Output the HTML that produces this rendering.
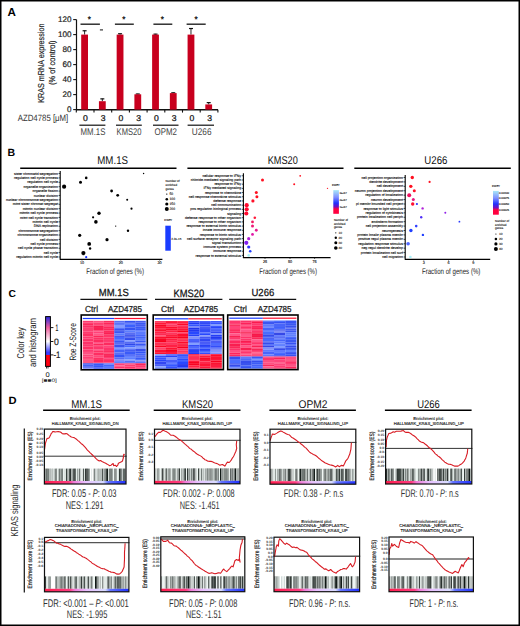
<!DOCTYPE html>
<html><head><meta charset="utf-8"><style>
html,body{margin:0;padding:0;background:#fff;}
body{width:520px;height:626px;overflow:hidden;}
svg{display:block;font-family:"Liberation Sans", sans-serif;text-rendering:geometricPrecision;}
</style></head><body>
<svg width="520" height="626" viewBox="0 0 520 626">
<rect x="0" y="0" width="520" height="626" fill="#fff"/>
<rect x="0.75" y="0.75" width="518.5" height="624.5" fill="none" stroke="#000" stroke-width="1.5"/>
<text x="7.40" y="16.20" font-size="11.63" font-weight="bold" fill="#000" textLength="8.40" lengthAdjust="spacingAndGlyphs">A</text>
<line x1="76.50" y1="19.60" x2="76.50" y2="110.20" stroke="#111" stroke-width="1.20"/>
<line x1="73.20" y1="109.60" x2="76.50" y2="109.60" stroke="#111" stroke-width="1.10"/>
<text x="67.10" y="112.40" font-size="8.14" font-weight="normal" fill="#222" textLength="4.50" lengthAdjust="spacingAndGlyphs" stroke="#222" stroke-width="0.20">0</text>
<line x1="73.20" y1="94.60" x2="76.50" y2="94.60" stroke="#111" stroke-width="1.10"/>
<text x="62.60" y="97.40" font-size="8.14" font-weight="normal" fill="#222" textLength="9.00" lengthAdjust="spacingAndGlyphs" stroke="#222" stroke-width="0.20">20</text>
<line x1="73.20" y1="79.60" x2="76.50" y2="79.60" stroke="#111" stroke-width="1.10"/>
<text x="62.60" y="82.40" font-size="8.14" font-weight="normal" fill="#222" textLength="9.00" lengthAdjust="spacingAndGlyphs" stroke="#222" stroke-width="0.20">40</text>
<line x1="73.20" y1="64.60" x2="76.50" y2="64.60" stroke="#111" stroke-width="1.10"/>
<text x="62.60" y="67.40" font-size="8.14" font-weight="normal" fill="#222" textLength="9.00" lengthAdjust="spacingAndGlyphs" stroke="#222" stroke-width="0.20">60</text>
<line x1="73.20" y1="49.60" x2="76.50" y2="49.60" stroke="#111" stroke-width="1.10"/>
<text x="62.60" y="52.40" font-size="8.14" font-weight="normal" fill="#222" textLength="9.00" lengthAdjust="spacingAndGlyphs" stroke="#222" stroke-width="0.20">80</text>
<line x1="73.20" y1="34.60" x2="76.50" y2="34.60" stroke="#111" stroke-width="1.10"/>
<text x="58.10" y="37.40" font-size="8.14" font-weight="normal" fill="#222" textLength="13.50" lengthAdjust="spacingAndGlyphs" stroke="#222" stroke-width="0.20">100</text>
<line x1="73.20" y1="19.60" x2="76.50" y2="19.60" stroke="#111" stroke-width="1.10"/>
<text x="58.10" y="22.40" font-size="8.14" font-weight="normal" fill="#222" textLength="13.50" lengthAdjust="spacingAndGlyphs" stroke="#222" stroke-width="0.20">120</text>
<line x1="76.00" y1="109.80" x2="218.00" y2="109.80" stroke="#111" stroke-width="1.40"/>
<line x1="76.30" y1="109.80" x2="76.30" y2="112.60" stroke="#111" stroke-width="1.10"/>
<line x1="94.00" y1="109.80" x2="94.00" y2="112.60" stroke="#111" stroke-width="1.10"/>
<line x1="111.70" y1="109.80" x2="111.70" y2="112.60" stroke="#111" stroke-width="1.10"/>
<line x1="129.40" y1="109.80" x2="129.40" y2="112.60" stroke="#111" stroke-width="1.10"/>
<line x1="147.10" y1="109.80" x2="147.10" y2="112.60" stroke="#111" stroke-width="1.10"/>
<line x1="164.80" y1="109.80" x2="164.80" y2="112.60" stroke="#111" stroke-width="1.10"/>
<line x1="182.50" y1="109.80" x2="182.50" y2="112.60" stroke="#111" stroke-width="1.10"/>
<line x1="200.20" y1="109.80" x2="200.20" y2="112.60" stroke="#111" stroke-width="1.10"/>
<line x1="217.90" y1="109.80" x2="217.90" y2="112.60" stroke="#111" stroke-width="1.10"/>
<line x1="84.60" y1="30.47" x2="84.60" y2="34.60" stroke="#111" stroke-width="0.90"/>
<line x1="82.60" y1="30.77" x2="86.60" y2="30.77" stroke="#111" stroke-width="1.20"/>
<rect x="81.20" y="34.60" width="6.80" height="75.00" fill="#c8001e"/>
<line x1="102.33" y1="98.57" x2="102.33" y2="101.20" stroke="#111" stroke-width="0.90"/>
<line x1="100.33" y1="98.87" x2="104.33" y2="98.87" stroke="#111" stroke-width="1.20"/>
<rect x="98.93" y="101.20" width="6.80" height="8.40" fill="#c8001e"/>
<line x1="120.06" y1="33.47" x2="120.06" y2="34.60" stroke="#111" stroke-width="0.90"/>
<line x1="118.06" y1="33.77" x2="122.06" y2="33.77" stroke="#111" stroke-width="1.20"/>
<rect x="116.66" y="34.60" width="6.80" height="75.00" fill="#c8001e"/>
<line x1="137.79" y1="93.70" x2="137.79" y2="94.30" stroke="#111" stroke-width="0.90"/>
<line x1="135.79" y1="94.00" x2="139.79" y2="94.00" stroke="#111" stroke-width="1.20"/>
<rect x="134.39" y="94.30" width="6.80" height="15.30" fill="#c8001e"/>
<line x1="155.52" y1="33.85" x2="155.52" y2="34.60" stroke="#111" stroke-width="0.90"/>
<line x1="153.52" y1="34.15" x2="157.52" y2="34.15" stroke="#111" stroke-width="1.20"/>
<rect x="152.12" y="34.60" width="6.80" height="75.00" fill="#c8001e"/>
<line x1="173.25" y1="92.50" x2="173.25" y2="93.10" stroke="#111" stroke-width="0.90"/>
<line x1="171.25" y1="92.80" x2="175.25" y2="92.80" stroke="#111" stroke-width="1.20"/>
<rect x="169.85" y="93.10" width="6.80" height="16.50" fill="#c8001e"/>
<line x1="190.98" y1="28.22" x2="190.98" y2="34.60" stroke="#111" stroke-width="0.90"/>
<line x1="188.98" y1="28.52" x2="192.98" y2="28.52" stroke="#111" stroke-width="1.20"/>
<rect x="187.58" y="34.60" width="6.80" height="75.00" fill="#c8001e"/>
<line x1="208.71" y1="102.32" x2="208.71" y2="104.42" stroke="#111" stroke-width="0.90"/>
<line x1="206.71" y1="102.62" x2="210.71" y2="102.62" stroke="#111" stroke-width="1.20"/>
<rect x="205.31" y="104.42" width="6.80" height="5.17" fill="#c8001e"/>
<line x1="80.50" y1="24.20" x2="99.90" y2="24.20" stroke="#222" stroke-width="1.40"/>
<text x="89.40" y="22.0" font-size="8" fill="#111" stroke="#111" stroke-width="0.3" text-anchor="middle">*</text>
<line x1="114.90" y1="24.20" x2="133.80" y2="24.20" stroke="#222" stroke-width="1.40"/>
<text x="123.80" y="22.0" font-size="8" fill="#111" stroke="#111" stroke-width="0.3" text-anchor="middle">*</text>
<line x1="153.40" y1="24.20" x2="172.30" y2="24.20" stroke="#222" stroke-width="1.40"/>
<text x="162.40" y="22.0" font-size="8" fill="#111" stroke="#111" stroke-width="0.3" text-anchor="middle">*</text>
<line x1="186.60" y1="24.20" x2="205.70" y2="24.20" stroke="#222" stroke-width="1.40"/>
<text x="196.00" y="22.0" font-size="8" fill="#111" stroke="#111" stroke-width="0.3" text-anchor="middle">*</text>
<line x1="99.90" y1="29.90" x2="103.00" y2="29.90" stroke="#222" stroke-width="1.10"/>
<text x="83.10" y="121.10" font-size="8.43" font-weight="normal" fill="#111" textLength="4.80" lengthAdjust="spacingAndGlyphs" stroke="#111" stroke-width="0.25">0</text>
<text x="100.83" y="121.10" font-size="8.43" font-weight="normal" fill="#111" textLength="4.80" lengthAdjust="spacingAndGlyphs" stroke="#111" stroke-width="0.25">3</text>
<text x="118.56" y="121.10" font-size="8.43" font-weight="normal" fill="#111" textLength="4.80" lengthAdjust="spacingAndGlyphs" stroke="#111" stroke-width="0.25">0</text>
<text x="136.29" y="121.10" font-size="8.43" font-weight="normal" fill="#111" textLength="4.80" lengthAdjust="spacingAndGlyphs" stroke="#111" stroke-width="0.25">3</text>
<text x="154.02" y="121.10" font-size="8.43" font-weight="normal" fill="#111" textLength="4.80" lengthAdjust="spacingAndGlyphs" stroke="#111" stroke-width="0.25">0</text>
<text x="171.75" y="121.10" font-size="8.43" font-weight="normal" fill="#111" textLength="4.80" lengthAdjust="spacingAndGlyphs" stroke="#111" stroke-width="0.25">3</text>
<text x="189.48" y="121.10" font-size="8.43" font-weight="normal" fill="#111" textLength="4.80" lengthAdjust="spacingAndGlyphs" stroke="#111" stroke-width="0.25">0</text>
<text x="207.21" y="121.10" font-size="8.43" font-weight="normal" fill="#111" textLength="4.80" lengthAdjust="spacingAndGlyphs" stroke="#111" stroke-width="0.25">3</text>
<line x1="79.40" y1="125.20" x2="105.40" y2="125.20" stroke="#111" stroke-width="1.20"/>
<text x="80.60" y="135.00" font-size="9.74" font-weight="normal" fill="#444" textLength="24.80" lengthAdjust="spacingAndGlyphs">MM.1S</text>
<line x1="116.00" y1="125.20" x2="141.80" y2="125.20" stroke="#111" stroke-width="1.20"/>
<text x="116.60" y="135.00" font-size="9.74" font-weight="normal" fill="#444" textLength="24.90" lengthAdjust="spacingAndGlyphs">KMS20</text>
<line x1="153.00" y1="125.20" x2="178.50" y2="125.20" stroke="#111" stroke-width="1.20"/>
<text x="154.60" y="135.00" font-size="9.74" font-weight="normal" fill="#444" textLength="22.40" lengthAdjust="spacingAndGlyphs">OPM2</text>
<line x1="187.60" y1="125.20" x2="214.00" y2="125.20" stroke="#111" stroke-width="1.20"/>
<text x="191.80" y="135.00" font-size="9.74" font-weight="normal" fill="#444" textLength="19.70" lengthAdjust="spacingAndGlyphs">U266</text>
<text x="17.70" y="120.80" font-size="9.16" font-weight="normal" fill="#333" textLength="50.60" lengthAdjust="spacingAndGlyphs">AZD4785 [μM]</text>
<text transform="translate(43.70,102.70) rotate(-90)" x="0" y="0" font-size="8.58" fill="#222" textLength="79.10" lengthAdjust="spacingAndGlyphs" stroke="#222" stroke-width="0.2">KRAS mRNA expression</text>
<text transform="translate(54.50,85.00) rotate(-90)" x="0" y="0" font-size="8.58" fill="#222" textLength="44.60" lengthAdjust="spacingAndGlyphs" stroke="#222" stroke-width="0.2">(% of control)</text>
<text x="7.60" y="156.40" font-size="10.47" font-weight="bold" fill="#000" textLength="7.60" lengthAdjust="spacingAndGlyphs">B</text>
<text x="97.30" y="164.30" font-size="11.19" font-weight="normal" fill="#111" textLength="30.70" lengthAdjust="spacingAndGlyphs">MM.1S</text>
<line x1="20.20" y1="168.30" x2="176.50" y2="168.30" stroke="#000" stroke-width="1.40"/>
<text x="267.70" y="164.30" font-size="11.19" font-weight="normal" fill="#111" textLength="30.10" lengthAdjust="spacingAndGlyphs">KMS20</text>
<line x1="187.40" y1="168.30" x2="343.50" y2="168.30" stroke="#000" stroke-width="1.40"/>
<text x="424.30" y="164.30" font-size="11.19" font-weight="normal" fill="#111" textLength="23.10" lengthAdjust="spacingAndGlyphs">U266</text>
<line x1="354.30" y1="168.30" x2="510.80" y2="168.30" stroke="#000" stroke-width="1.40"/>
<line x1="60.20" y1="171.00" x2="60.20" y2="259.00" stroke="#000" stroke-width="1.10"/>
<line x1="59.70" y1="259.30" x2="162.40" y2="259.30" stroke="#000" stroke-width="1.20"/>
<line x1="58.60" y1="173.50" x2="60.20" y2="173.50" stroke="#000" stroke-width="0.70"/>
<text x="57.90" y="174.60" font-size="3.5" fill="#111" stroke="#111" stroke-width="0.12" text-anchor="end">sister chromatid segregation</text>
<line x1="58.60" y1="177.89" x2="60.20" y2="177.89" stroke="#000" stroke-width="0.70"/>
<text x="57.90" y="178.99" font-size="3.5" fill="#111" stroke="#111" stroke-width="0.12" text-anchor="end">regulation cell cycle process</text>
<line x1="58.60" y1="182.29" x2="60.20" y2="182.29" stroke="#000" stroke-width="0.70"/>
<text x="57.90" y="183.39" font-size="3.5" fill="#111" stroke="#111" stroke-width="0.12" text-anchor="end">regulation cell cycle</text>
<line x1="58.60" y1="186.68" x2="60.20" y2="186.68" stroke="#000" stroke-width="0.70"/>
<text x="57.90" y="187.78" font-size="3.5" fill="#111" stroke="#111" stroke-width="0.12" text-anchor="end">organelle organization</text>
<line x1="58.60" y1="191.08" x2="60.20" y2="191.08" stroke="#000" stroke-width="0.70"/>
<text x="57.90" y="192.18" font-size="3.5" fill="#111" stroke="#111" stroke-width="0.12" text-anchor="end">organelle fission</text>
<line x1="58.60" y1="195.47" x2="60.20" y2="195.47" stroke="#000" stroke-width="0.70"/>
<text x="57.90" y="196.57" font-size="3.5" fill="#111" stroke="#111" stroke-width="0.12" text-anchor="end">nuclear division</text>
<line x1="58.60" y1="199.87" x2="60.20" y2="199.87" stroke="#000" stroke-width="0.70"/>
<text x="57.90" y="200.97" font-size="3.5" fill="#111" stroke="#111" stroke-width="0.12" text-anchor="end">nuclear chromosome segregation</text>
<line x1="58.60" y1="204.26" x2="60.20" y2="204.26" stroke="#000" stroke-width="0.70"/>
<text x="57.90" y="205.36" font-size="3.5" fill="#111" stroke="#111" stroke-width="0.12" text-anchor="end">mitot sister chromat segregat</text>
<line x1="58.60" y1="208.66" x2="60.20" y2="208.66" stroke="#000" stroke-width="0.70"/>
<text x="57.90" y="209.76" font-size="3.5" fill="#111" stroke="#111" stroke-width="0.12" text-anchor="end">mitotic nuclear division</text>
<line x1="58.60" y1="213.05" x2="60.20" y2="213.05" stroke="#000" stroke-width="0.70"/>
<text x="57.90" y="214.15" font-size="3.5" fill="#111" stroke="#111" stroke-width="0.12" text-anchor="end">mitotic cell cycle process</text>
<line x1="58.60" y1="217.45" x2="60.20" y2="217.45" stroke="#000" stroke-width="0.70"/>
<text x="57.90" y="218.55" font-size="3.5" fill="#111" stroke="#111" stroke-width="0.12" text-anchor="end">mitot cell cycle transition</text>
<line x1="58.60" y1="221.84" x2="60.20" y2="221.84" stroke="#000" stroke-width="0.70"/>
<text x="57.90" y="222.94" font-size="3.5" fill="#111" stroke="#111" stroke-width="0.12" text-anchor="end">mitotic cell cycle</text>
<line x1="58.60" y1="226.24" x2="60.20" y2="226.24" stroke="#000" stroke-width="0.70"/>
<text x="57.90" y="227.34" font-size="3.5" fill="#111" stroke="#111" stroke-width="0.12" text-anchor="end">DNA replication</text>
<line x1="58.60" y1="230.63" x2="60.20" y2="230.63" stroke="#000" stroke-width="0.70"/>
<text x="57.90" y="231.73" font-size="3.5" fill="#111" stroke="#111" stroke-width="0.12" text-anchor="end">chromosome segregation</text>
<line x1="58.60" y1="235.03" x2="60.20" y2="235.03" stroke="#000" stroke-width="0.70"/>
<text x="57.90" y="236.13" font-size="3.5" fill="#111" stroke="#111" stroke-width="0.12" text-anchor="end">chromosome organization</text>
<line x1="58.60" y1="239.42" x2="60.20" y2="239.42" stroke="#000" stroke-width="0.70"/>
<text x="57.90" y="240.52" font-size="3.5" fill="#111" stroke="#111" stroke-width="0.12" text-anchor="end">cell division</text>
<line x1="58.60" y1="243.82" x2="60.20" y2="243.82" stroke="#000" stroke-width="0.70"/>
<text x="57.90" y="244.92" font-size="3.5" fill="#111" stroke="#111" stroke-width="0.12" text-anchor="end">cell cycle process</text>
<line x1="58.60" y1="248.21" x2="60.20" y2="248.21" stroke="#000" stroke-width="0.70"/>
<text x="57.90" y="249.31" font-size="3.5" fill="#111" stroke="#111" stroke-width="0.12" text-anchor="end">cell cycle phase transition</text>
<line x1="58.60" y1="252.61" x2="60.20" y2="252.61" stroke="#000" stroke-width="0.70"/>
<text x="57.90" y="253.71" font-size="3.5" fill="#111" stroke="#111" stroke-width="0.12" text-anchor="end">cell cycle</text>
<line x1="58.60" y1="257.00" x2="60.20" y2="257.00" stroke="#000" stroke-width="0.70"/>
<text x="57.90" y="258.10" font-size="3.5" fill="#111" stroke="#111" stroke-width="0.12" text-anchor="end">regulation mitotic cell cycle</text>
<line x1="82.00" y1="259.30" x2="82.00" y2="260.60" stroke="#000" stroke-width="0.60"/>
<text x="82.00" y="264.20" font-size="3.8" fill="#111" stroke="#111" stroke-width="0.1" text-anchor="middle">10</text>
<line x1="120.80" y1="259.30" x2="120.80" y2="260.60" stroke="#000" stroke-width="0.60"/>
<text x="120.80" y="264.20" font-size="3.8" fill="#111" stroke="#111" stroke-width="0.1" text-anchor="middle">20</text>
<line x1="159.60" y1="259.30" x2="159.60" y2="260.60" stroke="#000" stroke-width="0.60"/>
<text x="159.60" y="264.20" font-size="3.8" fill="#111" stroke="#111" stroke-width="0.1" text-anchor="middle">30</text>
<text x="86.20" y="273.60" font-size="8.14" font-weight="normal" fill="#222" textLength="57.70" lengthAdjust="spacingAndGlyphs">Fraction of genes (%)</text>
<circle cx="143.60" cy="173.50" r="0.70" fill="#000"/>
<circle cx="86.20" cy="177.90" r="1.30" fill="#000"/>
<circle cx="80.50" cy="182.20" r="1.50" fill="#000"/>
<circle cx="64.10" cy="186.70" r="2.10" fill="#000"/>
<circle cx="111.60" cy="191.00" r="1.40" fill="#000"/>
<circle cx="117.70" cy="195.30" r="1.40" fill="#000"/>
<circle cx="127.20" cy="199.80" r="1.00" fill="#000"/>
<circle cx="131.50" cy="208.70" r="1.10" fill="#000"/>
<circle cx="99.00" cy="213.20" r="1.70" fill="#000"/>
<circle cx="93.10" cy="217.30" r="1.10" fill="#000"/>
<circle cx="95.90" cy="221.90" r="1.80" fill="#000"/>
<circle cx="115.70" cy="226.10" r="0.70" fill="#000"/>
<circle cx="128.00" cy="230.70" r="1.20" fill="#000"/>
<circle cx="79.70" cy="235.30" r="1.60" fill="#000"/>
<circle cx="107.00" cy="239.70" r="1.60" fill="#000"/>
<circle cx="89.20" cy="243.90" r="1.90" fill="#000"/>
<circle cx="90.10" cy="248.50" r="1.20" fill="#000"/>
<circle cx="83.40" cy="253.10" r="2.10" fill="#000"/>
<circle cx="86.20" cy="257.20" r="1.10" fill="#1030ff"/>
<text x="165.6" y="182.30" font-size="3" fill="#111" stroke="#111" stroke-width="0.1">Number of</text>
<text x="165.6" y="185.90" font-size="3" fill="#111" stroke="#111" stroke-width="0.1">enriched</text>
<text x="165.6" y="189.50" font-size="3" fill="#111" stroke="#111" stroke-width="0.1">genes</text>
<circle cx="166.80" cy="194.10" r="0.70" fill="#000"/>
<text x="169.4" y="195.30" font-size="3.4" fill="#111" stroke="#111" stroke-width="0.1">50</text>
<circle cx="166.80" cy="199.20" r="1.30" fill="#000"/>
<text x="169.4" y="200.40" font-size="3.4" fill="#111" stroke="#111" stroke-width="0.1">100</text>
<circle cx="166.80" cy="204.00" r="1.60" fill="#000"/>
<text x="169.4" y="205.20" font-size="3.4" fill="#111" stroke="#111" stroke-width="0.1">150</text>
<circle cx="166.80" cy="209.10" r="2.00" fill="#000"/>
<text x="169.4" y="210.30" font-size="3.4" fill="#111" stroke="#111" stroke-width="0.1">200</text>
<text x="164.3" y="221.2" font-size="3" fill="#111" stroke="#111" stroke-width="0.1">FWEr</text>
<rect x="165.30" y="225.70" width="5.50" height="25.00" fill="#1a3cff"/>
<text x="171.2" y="239.7" font-size="3" fill="#111" stroke="#111" stroke-width="0.1">2.2e-15</text>
<line x1="243.40" y1="173.30" x2="243.40" y2="257.40" stroke="#000" stroke-width="1.10"/>
<line x1="242.90" y1="257.70" x2="330.60" y2="257.70" stroke="#000" stroke-width="1.20"/>
<line x1="241.80" y1="175.80" x2="243.40" y2="175.80" stroke="#000" stroke-width="0.70"/>
<text x="241.10" y="176.90" font-size="3.5" fill="#111" stroke="#111" stroke-width="0.12" text-anchor="end">cellular response to IFNγ</text>
<line x1="241.80" y1="179.99" x2="243.40" y2="179.99" stroke="#000" stroke-width="0.70"/>
<text x="241.10" y="181.09" font-size="3.5" fill="#111" stroke="#111" stroke-width="0.12" text-anchor="end">chloride-mediated signaling path</text>
<line x1="241.80" y1="184.18" x2="243.40" y2="184.18" stroke="#000" stroke-width="0.70"/>
<text x="241.10" y="185.28" font-size="3.5" fill="#111" stroke="#111" stroke-width="0.12" text-anchor="end">response to IFNγ</text>
<line x1="241.80" y1="188.37" x2="243.40" y2="188.37" stroke="#000" stroke-width="0.70"/>
<text x="241.10" y="189.47" font-size="3.5" fill="#111" stroke="#111" stroke-width="0.12" text-anchor="end">IFNγ mediated signaling</text>
<line x1="241.80" y1="192.56" x2="243.40" y2="192.56" stroke="#000" stroke-width="0.70"/>
<text x="241.10" y="193.66" font-size="3.5" fill="#111" stroke="#111" stroke-width="0.12" text-anchor="end">response to chemokine</text>
<line x1="241.80" y1="196.75" x2="243.40" y2="196.75" stroke="#000" stroke-width="0.70"/>
<text x="241.10" y="197.85" font-size="3.5" fill="#111" stroke="#111" stroke-width="0.12" text-anchor="end">cell response chemokine stimulus</text>
<line x1="241.80" y1="200.94" x2="243.40" y2="200.94" stroke="#000" stroke-width="0.70"/>
<text x="241.10" y="202.04" font-size="3.5" fill="#111" stroke="#111" stroke-width="0.12" text-anchor="end">defense response</text>
<line x1="241.80" y1="205.13" x2="243.40" y2="205.13" stroke="#000" stroke-width="0.70"/>
<text x="241.10" y="206.23" font-size="3.5" fill="#111" stroke="#111" stroke-width="0.12" text-anchor="end">cell communication</text>
<line x1="241.80" y1="209.32" x2="243.40" y2="209.32" stroke="#000" stroke-width="0.70"/>
<text x="241.10" y="210.42" font-size="3.5" fill="#111" stroke="#111" stroke-width="0.12" text-anchor="end">pos regulation biological process</text>
<line x1="241.80" y1="213.51" x2="243.40" y2="213.51" stroke="#000" stroke-width="0.70"/>
<text x="241.10" y="214.61" font-size="3.5" fill="#111" stroke="#111" stroke-width="0.12" text-anchor="end">signaling</text>
<line x1="241.80" y1="217.69" x2="243.40" y2="217.69" stroke="#000" stroke-width="0.70"/>
<text x="241.10" y="218.79" font-size="3.5" fill="#111" stroke="#111" stroke-width="0.12" text-anchor="end">defense response to other organism</text>
<line x1="241.80" y1="221.88" x2="243.40" y2="221.88" stroke="#000" stroke-width="0.70"/>
<text x="241.10" y="222.98" font-size="3.5" fill="#111" stroke="#111" stroke-width="0.12" text-anchor="end">response to other organism</text>
<line x1="241.80" y1="226.07" x2="243.40" y2="226.07" stroke="#000" stroke-width="0.70"/>
<text x="241.10" y="227.17" font-size="3.5" fill="#111" stroke="#111" stroke-width="0.12" text-anchor="end">response to external biotic stimulus</text>
<line x1="241.80" y1="230.26" x2="243.40" y2="230.26" stroke="#000" stroke-width="0.70"/>
<text x="241.10" y="231.36" font-size="3.5" fill="#111" stroke="#111" stroke-width="0.12" text-anchor="end">innate immune response</text>
<line x1="241.80" y1="234.45" x2="243.40" y2="234.45" stroke="#000" stroke-width="0.70"/>
<text x="241.10" y="235.55" font-size="3.5" fill="#111" stroke="#111" stroke-width="0.12" text-anchor="end">response to biotic stimulus</text>
<line x1="241.80" y1="238.64" x2="243.40" y2="238.64" stroke="#000" stroke-width="0.70"/>
<text x="241.10" y="239.74" font-size="3.5" fill="#111" stroke="#111" stroke-width="0.12" text-anchor="end">cell surface receptor signaling path</text>
<line x1="241.80" y1="242.83" x2="243.40" y2="242.83" stroke="#000" stroke-width="0.70"/>
<text x="241.10" y="243.93" font-size="3.5" fill="#111" stroke="#111" stroke-width="0.12" text-anchor="end">signal transduction</text>
<line x1="241.80" y1="247.02" x2="243.40" y2="247.02" stroke="#000" stroke-width="0.70"/>
<text x="241.10" y="248.12" font-size="3.5" fill="#111" stroke="#111" stroke-width="0.12" text-anchor="end">immune system process</text>
<line x1="241.80" y1="251.21" x2="243.40" y2="251.21" stroke="#000" stroke-width="0.70"/>
<text x="241.10" y="252.31" font-size="3.5" fill="#111" stroke="#111" stroke-width="0.12" text-anchor="end">immune response</text>
<line x1="241.80" y1="255.40" x2="243.40" y2="255.40" stroke="#000" stroke-width="0.70"/>
<text x="241.10" y="256.50" font-size="3.5" fill="#111" stroke="#111" stroke-width="0.12" text-anchor="end">response to external stimulus</text>
<line x1="265.00" y1="257.70" x2="265.00" y2="259.00" stroke="#000" stroke-width="0.60"/>
<text x="265.00" y="262.60" font-size="3.8" fill="#111" stroke="#111" stroke-width="0.1" text-anchor="middle">25</text>
<line x1="290.00" y1="257.70" x2="290.00" y2="259.00" stroke="#000" stroke-width="0.60"/>
<text x="290.00" y="262.60" font-size="3.8" fill="#111" stroke="#111" stroke-width="0.1" text-anchor="middle">50</text>
<line x1="314.60" y1="257.70" x2="314.60" y2="259.00" stroke="#000" stroke-width="0.60"/>
<text x="314.60" y="262.60" font-size="3.8" fill="#111" stroke="#111" stroke-width="0.1" text-anchor="middle">75</text>
<text x="259.20" y="274.40" font-size="8.14" font-weight="normal" fill="#222" textLength="57.80" lengthAdjust="spacingAndGlyphs">Fraction of genes (%)</text>
<circle cx="300.20" cy="175.80" r="0.90" fill="#ff1020"/>
<circle cx="262.50" cy="179.99" r="1.50" fill="#ff1020"/>
<circle cx="294.20" cy="184.18" r="1.00" fill="#ff1020"/>
<circle cx="327.50" cy="188.37" r="0.70" fill="#ff1020"/>
<circle cx="256.30" cy="192.56" r="1.50" fill="#ff1020"/>
<circle cx="256.90" cy="196.75" r="1.50" fill="#ff1020"/>
<circle cx="252.90" cy="200.94" r="1.60" fill="#ff1028"/>
<circle cx="246.70" cy="205.13" r="2.10" fill="#ff0a30"/>
<circle cx="246.70" cy="209.32" r="2.10" fill="#ff0a30"/>
<circle cx="246.30" cy="213.51" r="2.10" fill="#ff0a30"/>
<circle cx="254.80" cy="217.69" r="1.30" fill="#ff1838"/>
<circle cx="252.50" cy="221.88" r="1.40" fill="#f01860"/>
<circle cx="252.50" cy="226.07" r="1.50" fill="#f01878"/>
<circle cx="256.30" cy="230.26" r="1.40" fill="#e81890"/>
<circle cx="252.50" cy="234.45" r="1.40" fill="#e018a8"/>
<circle cx="248.70" cy="238.64" r="1.60" fill="#b020d8"/>
<circle cx="246.30" cy="242.83" r="2.10" fill="#8020f0"/>
<circle cx="248.70" cy="247.02" r="1.60" fill="#3030ff"/>
<circle cx="250.20" cy="251.21" r="1.30" fill="#2040ff"/>
<circle cx="248.70" cy="255.40" r="1.30" fill="#a8f0f8"/>
<text x="331.9" y="186.2" font-size="3" fill="#111" stroke="#111" stroke-width="0.1">FWEr</text>
<defs><linearGradient id="gk" x1="0" y1="0" x2="0" y2="1"><stop offset="0" stop-color="#a8e8f8"/><stop offset="0.3" stop-color="#8090ff"/><stop offset="0.55" stop-color="#2030ff"/><stop offset="0.7" stop-color="#7010c0"/><stop offset="0.8" stop-color="#ff0040"/><stop offset="1" stop-color="#ff0040"/></linearGradient></defs>
<rect x="333.30" y="190.10" width="5.60" height="23.70" fill="url(#gk)"/>
<text x="339.4" y="194.00" font-size="2.9" fill="#111" stroke="#111" stroke-width="0.1">3e-07</text>
<text x="339.4" y="201.20" font-size="2.9" fill="#111" stroke="#111" stroke-width="0.1">2e-07</text>
<text x="339.4" y="208.10" font-size="2.9" fill="#111" stroke="#111" stroke-width="0.1">1e-07</text>
<text x="333.9" y="221.00" font-size="3" fill="#111" stroke="#111" stroke-width="0.1">Number of</text>
<text x="333.9" y="224.60" font-size="3" fill="#111" stroke="#111" stroke-width="0.1">enriched</text>
<text x="333.9" y="228.20" font-size="3" fill="#111" stroke="#111" stroke-width="0.1">genes</text>
<circle cx="335.80" cy="232.80" r="0.60" fill="#000"/>
<text x="338.6" y="233.90" font-size="3.2" fill="#111" stroke="#111" stroke-width="0.1">10</text>
<circle cx="335.80" cy="237.80" r="1.20" fill="#000"/>
<text x="338.6" y="238.90" font-size="3.2" fill="#111" stroke="#111" stroke-width="0.1">20</text>
<circle cx="335.80" cy="242.80" r="1.50" fill="#000"/>
<text x="338.6" y="243.90" font-size="3.2" fill="#111" stroke="#111" stroke-width="0.1">30</text>
<circle cx="335.80" cy="248.00" r="1.80" fill="#000"/>
<text x="338.6" y="249.10" font-size="3.2" fill="#111" stroke="#111" stroke-width="0.1">40</text>
<line x1="405.20" y1="175.00" x2="405.20" y2="259.00" stroke="#000" stroke-width="1.10"/>
<line x1="404.70" y1="259.30" x2="490.20" y2="259.30" stroke="#000" stroke-width="1.20"/>
<line x1="403.60" y1="177.50" x2="405.20" y2="177.50" stroke="#000" stroke-width="0.70"/>
<text x="402.90" y="178.60" font-size="3.5" fill="#111" stroke="#111" stroke-width="0.12" text-anchor="end">cell projection organization</text>
<line x1="403.60" y1="181.92" x2="405.20" y2="181.92" stroke="#000" stroke-width="0.70"/>
<text x="402.90" y="183.02" font-size="3.5" fill="#111" stroke="#111" stroke-width="0.12" text-anchor="end">dendrite development</text>
<line x1="403.60" y1="186.33" x2="405.20" y2="186.33" stroke="#000" stroke-width="0.70"/>
<text x="402.90" y="187.43" font-size="3.5" fill="#111" stroke="#111" stroke-width="0.12" text-anchor="end">cell development</text>
<line x1="403.60" y1="190.75" x2="405.20" y2="190.75" stroke="#000" stroke-width="0.70"/>
<text x="402.90" y="191.85" font-size="3.5" fill="#111" stroke="#111" stroke-width="0.12" text-anchor="end">neuron projection development</text>
<line x1="403.60" y1="195.17" x2="405.20" y2="195.17" stroke="#000" stroke-width="0.70"/>
<text x="402.90" y="196.27" font-size="3.5" fill="#111" stroke="#111" stroke-width="0.12" text-anchor="end">regulation of localization</text>
<line x1="403.60" y1="199.58" x2="405.20" y2="199.58" stroke="#000" stroke-width="0.70"/>
<text x="402.90" y="200.68" font-size="3.5" fill="#111" stroke="#111" stroke-width="0.12" text-anchor="end">neuron development</text>
<line x1="403.60" y1="204.00" x2="405.20" y2="204.00" stroke="#000" stroke-width="0.70"/>
<text x="402.90" y="205.10" font-size="3.5" fill="#111" stroke="#111" stroke-width="0.12" text-anchor="end">pl membr bounded cell project</text>
<line x1="403.60" y1="208.42" x2="405.20" y2="208.42" stroke="#000" stroke-width="0.70"/>
<text x="402.90" y="209.52" font-size="3.5" fill="#111" stroke="#111" stroke-width="0.12" text-anchor="end">response to light stimulus</text>
<line x1="403.60" y1="212.83" x2="405.20" y2="212.83" stroke="#000" stroke-width="0.70"/>
<text x="402.90" y="213.93" font-size="3.5" fill="#111" stroke="#111" stroke-width="0.12" text-anchor="end">regulation of cytokinesis</text>
<line x1="403.60" y1="217.25" x2="405.20" y2="217.25" stroke="#000" stroke-width="0.70"/>
<text x="402.90" y="218.35" font-size="3.5" fill="#111" stroke="#111" stroke-width="0.12" text-anchor="end">protein localization cell periph</text>
<line x1="403.60" y1="221.67" x2="405.20" y2="221.67" stroke="#000" stroke-width="0.70"/>
<text x="402.90" y="222.77" font-size="3.5" fill="#111" stroke="#111" stroke-width="0.12" text-anchor="end">endoderm formation</text>
<line x1="403.60" y1="226.08" x2="405.20" y2="226.08" stroke="#000" stroke-width="0.70"/>
<text x="402.90" y="227.18" font-size="3.5" fill="#111" stroke="#111" stroke-width="0.12" text-anchor="end">cell projection assembly</text>
<line x1="403.60" y1="230.50" x2="405.20" y2="230.50" stroke="#000" stroke-width="0.70"/>
<text x="402.90" y="231.60" font-size="3.5" fill="#111" stroke="#111" stroke-width="0.12" text-anchor="end">neurogenesis</text>
<line x1="403.60" y1="234.92" x2="405.20" y2="234.92" stroke="#000" stroke-width="0.70"/>
<text x="402.90" y="236.02" font-size="3.5" fill="#111" stroke="#111" stroke-width="0.12" text-anchor="end">protein localiz plasma membr</text>
<line x1="403.60" y1="239.33" x2="405.20" y2="239.33" stroke="#000" stroke-width="0.70"/>
<text x="402.90" y="240.43" font-size="3.5" fill="#111" stroke="#111" stroke-width="0.12" text-anchor="end">positive regul plasma membr</text>
<line x1="403.60" y1="243.75" x2="405.20" y2="243.75" stroke="#000" stroke-width="0.70"/>
<text x="402.90" y="244.85" font-size="3.5" fill="#111" stroke="#111" stroke-width="0.12" text-anchor="end">regulation response stimulus</text>
<line x1="403.60" y1="248.17" x2="405.20" y2="248.17" stroke="#000" stroke-width="0.70"/>
<text x="402.90" y="249.27" font-size="3.5" fill="#111" stroke="#111" stroke-width="0.12" text-anchor="end">neg regul dendrite develop</text>
<line x1="403.60" y1="252.58" x2="405.20" y2="252.58" stroke="#000" stroke-width="0.70"/>
<text x="402.90" y="253.68" font-size="3.5" fill="#111" stroke="#111" stroke-width="0.12" text-anchor="end">protein localization cell surf</text>
<line x1="403.60" y1="257.00" x2="405.20" y2="257.00" stroke="#000" stroke-width="0.70"/>
<text x="402.90" y="258.10" font-size="3.5" fill="#111" stroke="#111" stroke-width="0.12" text-anchor="end">cell migration</text>
<line x1="423.80" y1="259.30" x2="423.80" y2="260.60" stroke="#000" stroke-width="0.60"/>
<text x="423.80" y="264.20" font-size="3.8" fill="#111" stroke="#111" stroke-width="0.1" text-anchor="middle">3</text>
<line x1="448.50" y1="259.30" x2="448.50" y2="260.60" stroke="#000" stroke-width="0.60"/>
<text x="448.50" y="264.20" font-size="3.8" fill="#111" stroke="#111" stroke-width="0.1" text-anchor="middle">6</text>
<line x1="473.40" y1="259.30" x2="473.40" y2="260.60" stroke="#000" stroke-width="0.60"/>
<text x="473.40" y="264.20" font-size="3.8" fill="#111" stroke="#111" stroke-width="0.1" text-anchor="middle">9</text>
<text x="421.90" y="273.60" font-size="8.14" font-weight="normal" fill="#222" textLength="58.50" lengthAdjust="spacingAndGlyphs">Fraction of genes (%)</text>
<circle cx="412.30" cy="177.50" r="1.70" fill="#ff1020"/>
<circle cx="429.60" cy="181.92" r="1.10" fill="#ff1020"/>
<circle cx="410.80" cy="186.33" r="1.70" fill="#ff1020"/>
<circle cx="414.30" cy="190.75" r="1.50" fill="#ff1028"/>
<circle cx="409.20" cy="195.17" r="2.00" fill="#f01060"/>
<circle cx="413.30" cy="199.58" r="1.50" fill="#e81880"/>
<circle cx="412.70" cy="204.00" r="1.70" fill="#ff1030"/>
<circle cx="416.90" cy="204.00" r="1.10" fill="#3030ff"/>
<circle cx="422.60" cy="208.42" r="1.20" fill="#b020d8"/>
<circle cx="445.30" cy="212.83" r="1.00" fill="#9020e8"/>
<circle cx="421.20" cy="217.25" r="1.20" fill="#5030f8"/>
<circle cx="459.40" cy="221.67" r="0.90" fill="#2838ff"/>
<circle cx="416.20" cy="226.08" r="1.30" fill="#3040ff"/>
<circle cx="410.90" cy="230.50" r="1.70" fill="#2040ff"/>
<circle cx="422.90" cy="234.92" r="1.20" fill="#2040ff"/>
<circle cx="408.10" cy="243.75" r="1.80" fill="#5068ff"/>
<circle cx="410.40" cy="257.00" r="1.30" fill="#a8f0f8"/>
<text x="492" y="187.4" font-size="3" fill="#111" stroke="#111" stroke-width="0.1">FWEr</text>
<rect x="493.00" y="190.90" width="5.80" height="23.80" fill="url(#gk)"/>
<text x="499" y="193.80" font-size="2.8" fill="#111" stroke="#111" stroke-width="0.1">0.00100</text>
<text x="499" y="198.90" font-size="2.8" fill="#111" stroke="#111" stroke-width="0.1">0.00075</text>
<text x="499" y="204.90" font-size="2.8" fill="#111" stroke="#111" stroke-width="0.1">0.00050</text>
<text x="499" y="210.80" font-size="2.8" fill="#111" stroke="#111" stroke-width="0.1">0.00025</text>
<text x="495" y="222.20" font-size="3" fill="#111" stroke="#111" stroke-width="0.1">Number of</text>
<text x="495" y="225.80" font-size="3" fill="#111" stroke="#111" stroke-width="0.1">enriched</text>
<text x="495" y="229.40" font-size="3" fill="#111" stroke="#111" stroke-width="0.1">genes</text>
<circle cx="495.90" cy="234.00" r="0.60" fill="#000"/>
<text x="499" y="235.10" font-size="3.2" fill="#111" stroke="#111" stroke-width="0.1">10</text>
<circle cx="495.90" cy="239.00" r="1.30" fill="#000"/>
<text x="499" y="240.10" font-size="3.2" fill="#111" stroke="#111" stroke-width="0.1">20</text>
<circle cx="495.90" cy="243.90" r="1.60" fill="#000"/>
<text x="499" y="245.00" font-size="3.2" fill="#111" stroke="#111" stroke-width="0.1">30</text>
<circle cx="495.90" cy="249.00" r="2.00" fill="#000"/>
<text x="499" y="250.10" font-size="3.2" fill="#111" stroke="#111" stroke-width="0.1">40</text>
<text x="8.40" y="296.60" font-size="10.17" font-weight="bold" fill="#000" textLength="7.40" lengthAdjust="spacingAndGlyphs">C</text>
<text transform="translate(24.30,358.40) rotate(-90)" x="0" y="0" font-size="9.88" fill="#222" textLength="31.00" lengthAdjust="spacingAndGlyphs">Color key</text>
<text transform="translate(36.30,367.10) rotate(-90)" x="0" y="0" font-size="9.88" fill="#222" textLength="49.10" lengthAdjust="spacingAndGlyphs">and histogram</text>
<text transform="translate(75.60,360.60) rotate(-90)" x="0" y="0" font-size="9.30" fill="#222" textLength="37.50" lengthAdjust="spacingAndGlyphs">Roe Z-Score</text>
<defs><linearGradient id="ck" x1="0" y1="0" x2="0" y2="1"><stop offset="0" stop-color="#2828e0"/><stop offset="0.22" stop-color="#f060a0"/><stop offset="0.5" stop-color="#ffffff"/><stop offset="0.72" stop-color="#3a3aff"/><stop offset="0.76" stop-color="#3a3aff"/><stop offset="0.78" stop-color="#ff0010"/><stop offset="1" stop-color="#ff0010"/></linearGradient></defs>
<rect x="45.60" y="316.60" width="4.80" height="49.80" fill="url(#ck)" stroke="#000" stroke-width="1.00"/>
<line x1="50.80" y1="327.60" x2="53.40" y2="327.60" stroke="#000" stroke-width="0.90"/>
<line x1="50.80" y1="341.50" x2="53.40" y2="341.50" stroke="#000" stroke-width="0.90"/>
<line x1="50.80" y1="354.90" x2="53.40" y2="354.90" stroke="#000" stroke-width="0.90"/>
<text x="55.60" y="330.80" font-size="9.30" font-weight="normal" fill="#222" textLength="2.80" lengthAdjust="spacingAndGlyphs" stroke="#222" stroke-width="0.20">1</text>
<text x="54.00" y="344.70" font-size="9.30" font-weight="normal" fill="#222" textLength="4.80" lengthAdjust="spacingAndGlyphs" stroke="#222" stroke-width="0.20">0</text>
<text x="53.40" y="358.10" font-size="9.30" font-weight="normal" fill="#222" textLength="7.00" lengthAdjust="spacingAndGlyphs" stroke="#222" stroke-width="0.20">-1</text>
<line x1="46.50" y1="366.90" x2="46.50" y2="368.50" stroke="#000" stroke-width="0.80"/>
<line x1="48.00" y1="366.90" x2="48.00" y2="368.50" stroke="#000" stroke-width="0.80"/>
<text x="45.50" y="376.50" font-size="6.83" font-weight="normal" fill="#111" textLength="4.20" lengthAdjust="spacingAndGlyphs">0</text>
<text x="41.80" y="382.40" font-size="4.94" font-weight="normal" fill="#222" textLength="15.00" lengthAdjust="spacingAndGlyphs">[■■0]</text>
<text x="98.80" y="295.90" font-size="10.32" font-weight="normal" fill="#111" textLength="30.00" lengthAdjust="spacingAndGlyphs" stroke="#111" stroke-width="0.25">MM.1S</text>
<line x1="80.40" y1="299.40" x2="147.30" y2="299.40" stroke="#111" stroke-width="1.40"/>
<text x="85.00" y="312.40" font-size="8.72" font-weight="normal" fill="#222" textLength="13.00" lengthAdjust="spacingAndGlyphs" stroke="#222" stroke-width="0.25">Ctrl</text>
<text x="108.00" y="312.40" font-size="8.72" font-weight="normal" fill="#222" textLength="34.00" lengthAdjust="spacingAndGlyphs" stroke="#222" stroke-width="0.25">AZD4785</text>
<rect x="82.80" y="317.90" width="31.45" height="1.20" fill="#1c3cff"/>
<rect x="114.25" y="317.90" width="31.45" height="1.20" fill="#ff1030"/>
<rect x="82.80" y="320.80" width="10.53" height="1.85" fill="#fe3970"/>
<rect x="82.80" y="322.60" width="10.53" height="1.35" fill="#ff376b"/>
<rect x="82.80" y="323.90" width="10.53" height="1.35" fill="#fc295d"/>
<rect x="82.80" y="325.20" width="10.53" height="2.65" fill="#fc3067"/>
<rect x="82.80" y="327.80" width="10.53" height="2.25" fill="#fc4072"/>
<rect x="82.80" y="330.00" width="10.53" height="1.35" fill="#fc4072"/>
<rect x="82.80" y="331.30" width="10.53" height="2.65" fill="#ff3a6e"/>
<rect x="82.80" y="333.90" width="10.53" height="2.65" fill="#ff3165"/>
<rect x="82.80" y="336.50" width="10.53" height="2.25" fill="#ff3b6f"/>
<rect x="82.80" y="338.70" width="10.53" height="1.35" fill="#fd366d"/>
<rect x="82.80" y="340.00" width="10.53" height="1.55" fill="#ff3165"/>
<rect x="82.80" y="341.50" width="10.53" height="2.65" fill="#fd3269"/>
<rect x="82.80" y="344.10" width="10.53" height="2.65" fill="#fe386f"/>
<rect x="82.80" y="346.70" width="10.53" height="2.65" fill="#ff3165"/>
<rect x="82.80" y="349.30" width="10.53" height="2.65" fill="#fe3b72"/>
<rect x="82.80" y="351.90" width="10.53" height="2.65" fill="#ff5183"/>
<rect x="82.80" y="354.50" width="10.53" height="2.25" fill="#fe4779"/>
<rect x="82.80" y="356.70" width="10.53" height="1.55" fill="#ff4077"/>
<rect x="82.80" y="358.20" width="10.53" height="1.55" fill="#ff3165"/>
<rect x="82.80" y="359.70" width="10.53" height="2.65" fill="#ff5486"/>
<rect x="82.80" y="362.30" width="10.53" height="1.05" fill="#fc2a5e"/>
<rect x="82.80" y="363.30" width="10.53" height="1.35" fill="#3851ee"/>
<rect x="82.80" y="364.60" width="10.53" height="1.85" fill="#4562f8"/>
<rect x="82.80" y="366.40" width="10.53" height="1.35" fill="#314bed"/>
<rect x="82.80" y="367.70" width="10.53" height="1.15" fill="#808df6"/>
<rect x="93.28" y="320.80" width="10.53" height="1.85" fill="#ff4f81"/>
<rect x="93.28" y="322.60" width="10.53" height="1.35" fill="#ff3569"/>
<rect x="93.28" y="323.90" width="10.53" height="1.85" fill="#fd4577"/>
<rect x="93.28" y="325.70" width="10.53" height="2.25" fill="#f91c50"/>
<rect x="93.28" y="327.90" width="10.53" height="2.25" fill="#fa2054"/>
<rect x="93.28" y="330.10" width="10.53" height="1.35" fill="#fc4072"/>
<rect x="93.28" y="331.40" width="10.53" height="1.85" fill="#ff4178"/>
<rect x="93.28" y="333.20" width="10.53" height="2.25" fill="#ff5587"/>
<rect x="93.28" y="335.40" width="10.53" height="2.25" fill="#fd275b"/>
<rect x="93.28" y="337.60" width="10.53" height="2.25" fill="#fd3165"/>
<rect x="93.28" y="339.80" width="10.53" height="2.25" fill="#fc2c60"/>
<rect x="93.28" y="342.00" width="10.53" height="1.85" fill="#ff5587"/>
<rect x="93.28" y="343.80" width="10.53" height="1.55" fill="#fd285c"/>
<rect x="93.28" y="345.30" width="10.53" height="1.55" fill="#fc3067"/>
<rect x="93.28" y="346.80" width="10.53" height="2.65" fill="#fd366d"/>
<rect x="93.28" y="349.40" width="10.53" height="1.35" fill="#fe3a71"/>
<rect x="93.28" y="350.70" width="10.53" height="1.85" fill="#fe3266"/>
<rect x="93.28" y="352.50" width="10.53" height="2.65" fill="#fe2e62"/>
<rect x="93.28" y="355.10" width="10.53" height="2.65" fill="#fe487a"/>
<rect x="93.28" y="357.70" width="10.53" height="2.25" fill="#fe2f63"/>
<rect x="93.28" y="359.90" width="10.53" height="2.25" fill="#fd285c"/>
<rect x="93.28" y="362.10" width="10.53" height="1.25" fill="#fd4274"/>
<rect x="93.28" y="363.30" width="10.53" height="1.85" fill="#3a59f6"/>
<rect x="93.28" y="365.10" width="10.53" height="2.65" fill="#3a5af7"/>
<rect x="93.28" y="367.70" width="10.53" height="1.15" fill="#445cf2"/>
<rect x="103.77" y="320.80" width="10.53" height="1.85" fill="#fc2a5e"/>
<rect x="103.77" y="322.60" width="10.53" height="2.25" fill="#fd265a"/>
<rect x="103.77" y="324.80" width="10.53" height="2.25" fill="#fe4a7c"/>
<rect x="103.77" y="327.00" width="10.53" height="1.85" fill="#fd275b"/>
<rect x="103.77" y="328.80" width="10.53" height="1.85" fill="#fb275b"/>
<rect x="103.77" y="330.60" width="10.53" height="1.55" fill="#fd285c"/>
<rect x="103.77" y="332.10" width="10.53" height="2.65" fill="#fa1f53"/>
<rect x="103.77" y="334.70" width="10.53" height="2.65" fill="#ff366a"/>
<rect x="103.77" y="337.30" width="10.53" height="1.85" fill="#ff3468"/>
<rect x="103.77" y="339.10" width="10.53" height="1.85" fill="#fd3165"/>
<rect x="103.77" y="340.90" width="10.53" height="1.85" fill="#ff3c73"/>
<rect x="103.77" y="342.70" width="10.53" height="2.65" fill="#fc2b5f"/>
<rect x="103.77" y="345.30" width="10.53" height="2.65" fill="#ff437a"/>
<rect x="103.77" y="347.90" width="10.53" height="2.25" fill="#fd346b"/>
<rect x="103.77" y="350.10" width="10.53" height="2.25" fill="#fd2d61"/>
<rect x="103.77" y="352.30" width="10.53" height="1.35" fill="#fb275b"/>
<rect x="103.77" y="353.60" width="10.53" height="1.55" fill="#fb265a"/>
<rect x="103.77" y="355.10" width="10.53" height="1.85" fill="#f91d51"/>
<rect x="103.77" y="356.90" width="10.53" height="1.35" fill="#fe3b72"/>
<rect x="103.77" y="358.20" width="10.53" height="1.85" fill="#fe3b72"/>
<rect x="103.77" y="360.00" width="10.53" height="2.65" fill="#fe2f63"/>
<rect x="103.77" y="362.60" width="10.53" height="0.75" fill="#ff386c"/>
<rect x="103.77" y="363.30" width="10.53" height="1.35" fill="#5b7bff"/>
<rect x="103.77" y="364.60" width="10.53" height="2.25" fill="#4666fc"/>
<rect x="103.77" y="366.80" width="10.53" height="1.35" fill="#5a7aff"/>
<rect x="103.77" y="368.10" width="10.53" height="0.75" fill="#445cf2"/>
<rect x="114.25" y="320.80" width="10.53" height="1.55" fill="#586ef4"/>
<rect x="114.25" y="322.30" width="10.53" height="2.65" fill="#5973f9"/>
<rect x="114.25" y="324.90" width="10.53" height="2.65" fill="#839bff"/>
<rect x="114.25" y="327.50" width="10.53" height="1.35" fill="#476bff"/>
<rect x="114.25" y="328.80" width="10.53" height="1.55" fill="#3953f0"/>
<rect x="114.25" y="330.30" width="10.53" height="1.55" fill="#314cee"/>
<rect x="114.25" y="331.80" width="10.53" height="1.55" fill="#3955f2"/>
<rect x="114.25" y="333.30" width="10.53" height="2.25" fill="#5b7dff"/>
<rect x="114.25" y="335.50" width="10.53" height="1.55" fill="#445af0"/>
<rect x="114.25" y="337.00" width="10.53" height="2.25" fill="#4769ff"/>
<rect x="114.25" y="339.20" width="10.53" height="1.55" fill="#4666fc"/>
<rect x="114.25" y="340.70" width="10.53" height="1.35" fill="#3a58f5"/>
<rect x="114.25" y="342.00" width="10.53" height="2.65" fill="#586ef4"/>
<rect x="114.25" y="344.60" width="10.53" height="2.65" fill="#3953f0"/>
<rect x="114.25" y="347.20" width="10.53" height="1.35" fill="#5b7bff"/>
<rect x="114.25" y="348.50" width="10.53" height="1.35" fill="#5b7fff"/>
<rect x="114.25" y="349.80" width="10.53" height="2.65" fill="#4563f9"/>
<rect x="114.25" y="352.40" width="10.53" height="2.65" fill="#5870f6"/>
<rect x="114.25" y="355.00" width="10.53" height="2.65" fill="#3355f7"/>
<rect x="114.25" y="357.60" width="10.53" height="1.55" fill="#586ef4"/>
<rect x="114.25" y="359.10" width="10.53" height="2.25" fill="#8090f9"/>
<rect x="114.25" y="361.30" width="10.53" height="1.35" fill="#4769ff"/>
<rect x="114.25" y="362.60" width="10.53" height="0.75" fill="#3355f7"/>
<rect x="114.25" y="363.30" width="10.53" height="2.25" fill="#ff4178"/>
<rect x="114.25" y="365.50" width="10.53" height="1.35" fill="#ff5486"/>
<rect x="114.25" y="366.80" width="10.53" height="1.55" fill="#fd336a"/>
<rect x="114.25" y="368.30" width="10.53" height="0.55" fill="#fe4779"/>
<rect x="124.73" y="320.80" width="10.53" height="1.55" fill="#3252f4"/>
<rect x="124.73" y="322.30" width="10.53" height="1.35" fill="#314cee"/>
<rect x="124.73" y="323.60" width="10.53" height="1.35" fill="#5a78fe"/>
<rect x="124.73" y="324.90" width="10.53" height="2.65" fill="#3b60fd"/>
<rect x="124.73" y="327.50" width="10.53" height="1.55" fill="#3953f0"/>
<rect x="124.73" y="329.00" width="10.53" height="1.55" fill="#3354f6"/>
<rect x="124.73" y="330.50" width="10.53" height="1.85" fill="#5b7eff"/>
<rect x="124.73" y="332.30" width="10.53" height="2.65" fill="#586df3"/>
<rect x="124.73" y="334.90" width="10.53" height="1.35" fill="#445bf1"/>
<rect x="124.73" y="336.20" width="10.53" height="1.35" fill="#384fec"/>
<rect x="124.73" y="337.50" width="10.53" height="1.55" fill="#3850ed"/>
<rect x="124.73" y="339.00" width="10.53" height="1.35" fill="#314cee"/>
<rect x="124.73" y="340.30" width="10.53" height="1.85" fill="#829aff"/>
<rect x="124.73" y="342.10" width="10.53" height="1.35" fill="#445df3"/>
<rect x="124.73" y="343.40" width="10.53" height="1.85" fill="#3048ea"/>
<rect x="124.73" y="345.20" width="10.53" height="2.25" fill="#476aff"/>
<rect x="124.73" y="347.40" width="10.53" height="1.85" fill="#829aff"/>
<rect x="124.73" y="349.20" width="10.53" height="2.65" fill="#445ef4"/>
<rect x="124.73" y="351.80" width="10.53" height="2.25" fill="#3a5bf8"/>
<rect x="124.73" y="354.00" width="10.53" height="2.25" fill="#5972f8"/>
<rect x="124.73" y="356.20" width="10.53" height="1.55" fill="#476aff"/>
<rect x="124.73" y="357.70" width="10.53" height="1.55" fill="#5b7fff"/>
<rect x="124.73" y="359.20" width="10.53" height="1.55" fill="#829aff"/>
<rect x="124.73" y="360.70" width="10.53" height="1.85" fill="#586df3"/>
<rect x="124.73" y="362.50" width="10.53" height="0.85" fill="#3251f3"/>
<rect x="124.73" y="363.30" width="10.53" height="1.35" fill="#fd4375"/>
<rect x="124.73" y="364.60" width="10.53" height="1.85" fill="#fc3f71"/>
<rect x="124.73" y="366.40" width="10.53" height="1.85" fill="#fe3367"/>
<rect x="124.73" y="368.20" width="10.53" height="0.65" fill="#fa2155"/>
<rect x="135.22" y="320.80" width="10.53" height="1.85" fill="#445af0"/>
<rect x="135.22" y="322.60" width="10.53" height="2.25" fill="#3a58f5"/>
<rect x="135.22" y="324.80" width="10.53" height="1.55" fill="#445af0"/>
<rect x="135.22" y="326.30" width="10.53" height="1.85" fill="#3a59f6"/>
<rect x="135.22" y="328.10" width="10.53" height="2.25" fill="#3a5af7"/>
<rect x="135.22" y="330.30" width="10.53" height="1.35" fill="#4668fe"/>
<rect x="135.22" y="331.60" width="10.53" height="2.65" fill="#5a7aff"/>
<rect x="135.22" y="334.20" width="10.53" height="2.25" fill="#4666fc"/>
<rect x="135.22" y="336.40" width="10.53" height="1.55" fill="#3a5cf9"/>
<rect x="135.22" y="337.90" width="10.53" height="2.65" fill="#5b7cff"/>
<rect x="135.22" y="340.50" width="10.53" height="1.55" fill="#3a59f6"/>
<rect x="135.22" y="342.00" width="10.53" height="1.55" fill="#808ef7"/>
<rect x="135.22" y="343.50" width="10.53" height="1.85" fill="#3957f4"/>
<rect x="135.22" y="345.30" width="10.53" height="1.35" fill="#3a5bf8"/>
<rect x="135.22" y="346.60" width="10.53" height="2.25" fill="#839bff"/>
<rect x="135.22" y="348.80" width="10.53" height="2.65" fill="#384fec"/>
<rect x="135.22" y="351.40" width="10.53" height="2.25" fill="#3354f6"/>
<rect x="135.22" y="353.60" width="10.53" height="1.55" fill="#4666fc"/>
<rect x="135.22" y="355.10" width="10.53" height="2.25" fill="#586df3"/>
<rect x="135.22" y="357.30" width="10.53" height="1.85" fill="#3a5af7"/>
<rect x="135.22" y="359.10" width="10.53" height="1.35" fill="#4667fd"/>
<rect x="135.22" y="360.40" width="10.53" height="1.85" fill="#808df6"/>
<rect x="135.22" y="362.20" width="10.53" height="1.15" fill="#3a5bf8"/>
<rect x="135.22" y="363.30" width="10.53" height="1.85" fill="#fb275b"/>
<rect x="135.22" y="365.10" width="10.53" height="2.25" fill="#ff3b6f"/>
<rect x="135.22" y="367.30" width="10.53" height="1.55" fill="#fe376e"/>
<rect x="81.20" y="315.00" width="66.10" height="54.80" fill="none" stroke="#000" stroke-width="1.6"/>
<text x="173.50" y="297.10" font-size="10.61" font-weight="normal" fill="#111" textLength="30.70" lengthAdjust="spacingAndGlyphs" stroke="#111" stroke-width="0.25">KMS20</text>
<line x1="155.00" y1="299.40" x2="222.40" y2="299.40" stroke="#111" stroke-width="1.40"/>
<text x="161.00" y="312.40" font-size="8.72" font-weight="normal" fill="#222" textLength="13.20" lengthAdjust="spacingAndGlyphs" stroke="#222" stroke-width="0.25">Ctrl</text>
<text x="183.80" y="312.40" font-size="8.72" font-weight="normal" fill="#222" textLength="34.30" lengthAdjust="spacingAndGlyphs" stroke="#222" stroke-width="0.25">AZD4785</text>
<rect x="154.80" y="318.20" width="33.50" height="1.20" fill="#1c3cff"/>
<rect x="188.30" y="318.20" width="33.50" height="1.20" fill="#ff1030"/>
<rect x="154.80" y="321.10" width="11.22" height="1.35" fill="#fc2b53"/>
<rect x="154.80" y="322.40" width="11.22" height="2.25" fill="#ff1b3b"/>
<rect x="154.80" y="324.60" width="11.22" height="2.25" fill="#f90725"/>
<rect x="154.80" y="326.80" width="11.22" height="1.55" fill="#ff1535"/>
<rect x="154.80" y="328.30" width="11.22" height="1.55" fill="#fc1432"/>
<rect x="154.80" y="329.80" width="11.22" height="1.55" fill="#fb1331"/>
<rect x="154.80" y="331.30" width="11.22" height="1.85" fill="#fe2245"/>
<rect x="154.80" y="333.10" width="11.22" height="2.25" fill="#fc2b53"/>
<rect x="154.80" y="335.30" width="11.22" height="1.35" fill="#ff3b63"/>
<rect x="154.80" y="336.60" width="11.22" height="2.25" fill="#fb0f2d"/>
<rect x="154.80" y="338.80" width="11.22" height="2.25" fill="#f90725"/>
<rect x="154.80" y="341.00" width="11.22" height="1.35" fill="#f7001c"/>
<rect x="154.80" y="342.30" width="11.22" height="1.85" fill="#fd2d55"/>
<rect x="154.80" y="344.10" width="11.22" height="1.55" fill="#ff1d3d"/>
<rect x="154.80" y="345.60" width="11.22" height="1.85" fill="#f90624"/>
<rect x="154.80" y="347.40" width="11.22" height="2.25" fill="#ff426a"/>
<rect x="154.80" y="349.60" width="11.22" height="2.65" fill="#fe1030"/>
<rect x="154.80" y="352.20" width="11.22" height="2.05" fill="#fb1230"/>
<rect x="154.80" y="354.20" width="11.22" height="1.85" fill="#8299ff"/>
<rect x="154.80" y="356.00" width="11.22" height="1.55" fill="#334efa"/>
<rect x="154.80" y="357.50" width="11.22" height="1.85" fill="#3555ff"/>
<rect x="154.80" y="359.30" width="11.22" height="2.25" fill="#2846fc"/>
<rect x="154.80" y="361.50" width="11.22" height="2.65" fill="#3246f2"/>
<rect x="154.80" y="364.10" width="11.22" height="2.25" fill="#495cf7"/>
<rect x="154.80" y="366.30" width="11.22" height="1.85" fill="#839eff"/>
<rect x="154.80" y="368.10" width="11.22" height="0.55" fill="#334cf8"/>
<rect x="165.97" y="321.10" width="11.22" height="1.85" fill="#fb0f2d"/>
<rect x="165.97" y="322.90" width="11.22" height="1.85" fill="#ff3a62"/>
<rect x="165.97" y="324.70" width="11.22" height="1.85" fill="#ff3860"/>
<rect x="165.97" y="326.50" width="11.22" height="2.25" fill="#fd0c2c"/>
<rect x="165.97" y="328.70" width="11.22" height="1.55" fill="#fd0c2c"/>
<rect x="165.97" y="330.20" width="11.22" height="2.25" fill="#fe2144"/>
<rect x="165.97" y="332.40" width="11.22" height="1.85" fill="#fe355d"/>
<rect x="165.97" y="334.20" width="11.22" height="2.65" fill="#fd1c3f"/>
<rect x="165.97" y="336.80" width="11.22" height="1.55" fill="#fa0b29"/>
<rect x="165.97" y="338.30" width="11.22" height="1.85" fill="#fe1f42"/>
<rect x="165.97" y="340.10" width="11.22" height="2.65" fill="#ff2c4f"/>
<rect x="165.97" y="342.70" width="11.22" height="2.25" fill="#fe345c"/>
<rect x="165.97" y="344.90" width="11.22" height="2.65" fill="#fe2043"/>
<rect x="165.97" y="347.50" width="11.22" height="1.85" fill="#fe1333"/>
<rect x="165.97" y="349.30" width="11.22" height="2.65" fill="#f8011f"/>
<rect x="165.97" y="351.90" width="11.22" height="2.35" fill="#fd193c"/>
<rect x="165.97" y="354.20" width="11.22" height="1.55" fill="#4a62fd"/>
<rect x="165.97" y="355.70" width="11.22" height="1.85" fill="#2742f8"/>
<rect x="165.97" y="357.50" width="11.22" height="2.25" fill="#8193fc"/>
<rect x="165.97" y="359.70" width="11.22" height="2.65" fill="#495ef9"/>
<rect x="165.97" y="362.30" width="11.22" height="1.35" fill="#3450fc"/>
<rect x="165.97" y="363.60" width="11.22" height="1.35" fill="#4c69ff"/>
<rect x="165.97" y="364.90" width="11.22" height="1.35" fill="#3558ff"/>
<rect x="165.97" y="366.20" width="11.22" height="1.85" fill="#3450fc"/>
<rect x="165.97" y="368.00" width="11.22" height="0.65" fill="#2740f6"/>
<rect x="177.13" y="321.10" width="11.22" height="2.65" fill="#fe2043"/>
<rect x="177.13" y="323.70" width="11.22" height="1.55" fill="#fc0828"/>
<rect x="177.13" y="325.20" width="11.22" height="1.85" fill="#fd3159"/>
<rect x="177.13" y="327.00" width="11.22" height="1.85" fill="#fe2245"/>
<rect x="177.13" y="328.80" width="11.22" height="1.55" fill="#fc173a"/>
<rect x="177.13" y="330.30" width="11.22" height="2.25" fill="#f7001d"/>
<rect x="177.13" y="332.50" width="11.22" height="1.55" fill="#ff4068"/>
<rect x="177.13" y="334.00" width="11.22" height="2.25" fill="#fd0e2e"/>
<rect x="177.13" y="336.20" width="11.22" height="2.25" fill="#f80321"/>
<rect x="177.13" y="338.40" width="11.22" height="1.35" fill="#fb0f2d"/>
<rect x="177.13" y="339.70" width="11.22" height="1.85" fill="#fd2f57"/>
<rect x="177.13" y="341.50" width="11.22" height="1.85" fill="#fd0c2c"/>
<rect x="177.13" y="343.30" width="11.22" height="1.55" fill="#fb102e"/>
<rect x="177.13" y="344.80" width="11.22" height="1.55" fill="#fe2245"/>
<rect x="177.13" y="346.30" width="11.22" height="1.85" fill="#f8001e"/>
<rect x="177.13" y="348.10" width="11.22" height="2.65" fill="#ff3961"/>
<rect x="177.13" y="350.70" width="11.22" height="1.55" fill="#fe355d"/>
<rect x="177.13" y="352.20" width="11.22" height="1.35" fill="#ff2d50"/>
<rect x="177.13" y="353.50" width="11.22" height="0.75" fill="#fc173a"/>
<rect x="177.13" y="354.20" width="11.22" height="2.65" fill="#3454ff"/>
<rect x="177.13" y="356.80" width="11.22" height="1.55" fill="#4b68ff"/>
<rect x="177.13" y="358.30" width="11.22" height="1.85" fill="#294cff"/>
<rect x="177.13" y="360.10" width="11.22" height="1.85" fill="#3558ff"/>
<rect x="177.13" y="361.90" width="11.22" height="2.25" fill="#2848fe"/>
<rect x="177.13" y="364.10" width="11.22" height="1.85" fill="#2134ed"/>
<rect x="177.13" y="365.90" width="11.22" height="1.35" fill="#223af3"/>
<rect x="177.13" y="367.20" width="11.22" height="1.35" fill="#3555ff"/>
<rect x="177.13" y="368.50" width="11.22" height="0.15" fill="#4b68ff"/>
<rect x="188.30" y="321.10" width="11.22" height="1.55" fill="#223af3"/>
<rect x="188.30" y="322.60" width="11.22" height="1.85" fill="#223bf4"/>
<rect x="188.30" y="324.40" width="11.22" height="2.25" fill="#3555ff"/>
<rect x="188.30" y="326.60" width="11.22" height="1.35" fill="#808df6"/>
<rect x="188.30" y="327.90" width="11.22" height="1.35" fill="#2133ec"/>
<rect x="188.30" y="329.20" width="11.22" height="2.65" fill="#2238f1"/>
<rect x="188.30" y="331.80" width="11.22" height="2.65" fill="#2848fe"/>
<rect x="188.30" y="334.40" width="11.22" height="1.85" fill="#2340f9"/>
<rect x="188.30" y="336.20" width="11.22" height="2.65" fill="#8090f9"/>
<rect x="188.30" y="338.80" width="11.22" height="2.25" fill="#4a61fc"/>
<rect x="188.30" y="341.00" width="11.22" height="1.85" fill="#495cf7"/>
<rect x="188.30" y="342.80" width="11.22" height="2.25" fill="#839eff"/>
<rect x="188.30" y="345.00" width="11.22" height="1.85" fill="#334cf8"/>
<rect x="188.30" y="346.80" width="11.22" height="1.85" fill="#4c69ff"/>
<rect x="188.30" y="348.60" width="11.22" height="1.35" fill="#3249f5"/>
<rect x="188.30" y="349.90" width="11.22" height="2.25" fill="#2743f9"/>
<rect x="188.30" y="352.10" width="11.22" height="2.15" fill="#223af3"/>
<rect x="188.30" y="354.20" width="11.22" height="1.35" fill="#fd0e2e"/>
<rect x="188.30" y="355.50" width="11.22" height="1.35" fill="#fd193c"/>
<rect x="188.30" y="356.80" width="11.22" height="2.25" fill="#fd2f57"/>
<rect x="188.30" y="359.00" width="11.22" height="1.55" fill="#fe365e"/>
<rect x="188.30" y="360.50" width="11.22" height="1.55" fill="#ff1a3a"/>
<rect x="188.30" y="362.00" width="11.22" height="1.85" fill="#f80422"/>
<rect x="188.30" y="363.80" width="11.22" height="1.85" fill="#f80422"/>
<rect x="188.30" y="365.60" width="11.22" height="1.85" fill="#fe2144"/>
<rect x="188.30" y="367.40" width="11.22" height="1.25" fill="#fd1c3f"/>
<rect x="199.47" y="321.10" width="11.22" height="1.85" fill="#334df9"/>
<rect x="199.47" y="322.90" width="11.22" height="1.55" fill="#3248f4"/>
<rect x="199.47" y="324.40" width="11.22" height="2.25" fill="#2743f9"/>
<rect x="199.47" y="326.60" width="11.22" height="1.55" fill="#495af5"/>
<rect x="199.47" y="328.10" width="11.22" height="1.85" fill="#3249f5"/>
<rect x="199.47" y="329.90" width="11.22" height="2.65" fill="#334df9"/>
<rect x="199.47" y="332.50" width="11.22" height="1.55" fill="#4c69ff"/>
<rect x="199.47" y="334.00" width="11.22" height="1.35" fill="#2848fe"/>
<rect x="199.47" y="335.30" width="11.22" height="1.85" fill="#8192fb"/>
<rect x="199.47" y="337.10" width="11.22" height="1.35" fill="#3246f2"/>
<rect x="199.47" y="338.40" width="11.22" height="1.55" fill="#2742f8"/>
<rect x="199.47" y="339.90" width="11.22" height="1.85" fill="#3247f3"/>
<rect x="199.47" y="341.70" width="11.22" height="1.35" fill="#495bf6"/>
<rect x="199.47" y="343.00" width="11.22" height="1.35" fill="#495df8"/>
<rect x="199.47" y="344.30" width="11.22" height="2.65" fill="#2741f7"/>
<rect x="199.47" y="346.90" width="11.22" height="1.85" fill="#4b67ff"/>
<rect x="199.47" y="348.70" width="11.22" height="2.25" fill="#2845fb"/>
<rect x="199.47" y="350.90" width="11.22" height="1.85" fill="#4c6bff"/>
<rect x="199.47" y="352.70" width="11.22" height="1.55" fill="#334efa"/>
<rect x="199.47" y="354.20" width="11.22" height="1.35" fill="#ff4068"/>
<rect x="199.47" y="355.50" width="11.22" height="2.25" fill="#ff1b3b"/>
<rect x="199.47" y="357.70" width="11.22" height="2.25" fill="#f90927"/>
<rect x="199.47" y="359.90" width="11.22" height="1.55" fill="#fc173a"/>
<rect x="199.47" y="361.40" width="11.22" height="2.65" fill="#ff2649"/>
<rect x="199.47" y="364.00" width="11.22" height="2.25" fill="#ff1535"/>
<rect x="199.47" y="366.20" width="11.22" height="1.85" fill="#fd1a3d"/>
<rect x="199.47" y="368.00" width="11.22" height="0.65" fill="#ff2346"/>
<rect x="210.63" y="321.10" width="11.22" height="1.35" fill="#2949ff"/>
<rect x="210.63" y="322.40" width="11.22" height="1.55" fill="#2444fd"/>
<rect x="210.63" y="323.90" width="11.22" height="2.25" fill="#839eff"/>
<rect x="210.63" y="326.10" width="11.22" height="2.25" fill="#2846fc"/>
<rect x="210.63" y="328.30" width="11.22" height="1.55" fill="#3452fe"/>
<rect x="210.63" y="329.80" width="11.22" height="1.55" fill="#495ef9"/>
<rect x="210.63" y="331.30" width="11.22" height="2.25" fill="#3248f4"/>
<rect x="210.63" y="333.50" width="11.22" height="1.55" fill="#8297ff"/>
<rect x="210.63" y="335.00" width="11.22" height="1.35" fill="#233df6"/>
<rect x="210.63" y="336.30" width="11.22" height="2.65" fill="#2238f1"/>
<rect x="210.63" y="338.90" width="11.22" height="1.55" fill="#4a61fc"/>
<rect x="210.63" y="340.40" width="11.22" height="2.65" fill="#495af5"/>
<rect x="210.63" y="343.00" width="11.22" height="2.25" fill="#4c69ff"/>
<rect x="210.63" y="345.20" width="11.22" height="2.25" fill="#334efa"/>
<rect x="210.63" y="347.40" width="11.22" height="1.35" fill="#334df9"/>
<rect x="210.63" y="348.70" width="11.22" height="2.25" fill="#808ef7"/>
<rect x="210.63" y="350.90" width="11.22" height="1.85" fill="#8296ff"/>
<rect x="210.63" y="352.70" width="11.22" height="1.55" fill="#808df6"/>
<rect x="210.63" y="354.20" width="11.22" height="2.65" fill="#fd0c2c"/>
<rect x="210.63" y="356.80" width="11.22" height="2.25" fill="#fc1432"/>
<rect x="210.63" y="359.00" width="11.22" height="1.55" fill="#fc183b"/>
<rect x="210.63" y="360.50" width="11.22" height="1.85" fill="#f8011f"/>
<rect x="210.63" y="362.30" width="11.22" height="2.65" fill="#fb1331"/>
<rect x="210.63" y="364.90" width="11.22" height="2.25" fill="#fd1d40"/>
<rect x="210.63" y="367.10" width="11.22" height="1.55" fill="#ff2548"/>
<rect x="153.20" y="315.00" width="70.20" height="54.60" fill="none" stroke="#000" stroke-width="1.6"/>
<text x="251.50" y="296.00" font-size="10.32" font-weight="normal" fill="#111" textLength="22.70" lengthAdjust="spacingAndGlyphs" stroke="#111" stroke-width="0.25">U266</text>
<line x1="229.20" y1="299.40" x2="296.20" y2="299.40" stroke="#111" stroke-width="1.40"/>
<text x="233.80" y="312.40" font-size="8.72" font-weight="normal" fill="#222" textLength="13.20" lengthAdjust="spacingAndGlyphs" stroke="#222" stroke-width="0.25">Ctrl</text>
<text x="257.70" y="312.40" font-size="8.72" font-weight="normal" fill="#222" textLength="33.80" lengthAdjust="spacingAndGlyphs" stroke="#222" stroke-width="0.25">AZD4785</text>
<rect x="229.30" y="317.60" width="33.55" height="1.20" fill="#1c3cff"/>
<rect x="262.85" y="317.60" width="33.55" height="1.20" fill="#ff1030"/>
<rect x="229.30" y="320.50" width="11.23" height="2.65" fill="#fe376e"/>
<rect x="229.30" y="323.10" width="11.23" height="1.35" fill="#fd346b"/>
<rect x="229.30" y="324.40" width="11.23" height="1.55" fill="#fa2759"/>
<rect x="229.30" y="325.90" width="11.23" height="2.25" fill="#ff437a"/>
<rect x="229.30" y="328.10" width="11.23" height="1.85" fill="#ff336a"/>
<rect x="229.30" y="329.90" width="11.23" height="1.35" fill="#fc2e60"/>
<rect x="229.30" y="331.20" width="11.23" height="2.25" fill="#fd275e"/>
<rect x="229.30" y="333.40" width="11.23" height="2.65" fill="#ff5587"/>
<rect x="229.30" y="336.00" width="11.23" height="1.85" fill="#f92052"/>
<rect x="229.30" y="337.80" width="11.23" height="1.85" fill="#fe386f"/>
<rect x="229.30" y="339.60" width="11.23" height="1.35" fill="#fd497b"/>
<rect x="229.30" y="340.90" width="11.23" height="2.65" fill="#fe285f"/>
<rect x="229.30" y="343.50" width="11.23" height="2.65" fill="#f91e50"/>
<rect x="229.30" y="346.10" width="11.23" height="2.65" fill="#fb285a"/>
<rect x="229.30" y="348.70" width="11.23" height="1.35" fill="#fd336a"/>
<rect x="229.30" y="350.00" width="11.23" height="2.65" fill="#fe4e80"/>
<rect x="229.30" y="352.60" width="11.23" height="1.85" fill="#fd245b"/>
<rect x="229.30" y="354.40" width="11.23" height="1.55" fill="#fc2158"/>
<rect x="229.30" y="355.90" width="11.23" height="0.65" fill="#f91e50"/>
<rect x="229.30" y="356.50" width="11.23" height="2.65" fill="#364eee"/>
<rect x="229.30" y="359.10" width="11.23" height="1.85" fill="#4866fc"/>
<rect x="229.30" y="360.90" width="11.23" height="2.25" fill="#496cff"/>
<rect x="229.30" y="363.10" width="11.23" height="1.55" fill="#465bf1"/>
<rect x="229.30" y="364.60" width="11.23" height="1.55" fill="#364beb"/>
<rect x="229.30" y="366.10" width="11.23" height="1.35" fill="#3c5bf6"/>
<rect x="229.30" y="367.40" width="11.23" height="1.25" fill="#5f78fc"/>
<rect x="240.48" y="320.50" width="11.23" height="2.25" fill="#fd336a"/>
<rect x="240.48" y="322.70" width="11.23" height="1.35" fill="#fc2259"/>
<rect x="240.48" y="324.00" width="11.23" height="1.35" fill="#fd487a"/>
<rect x="240.48" y="325.30" width="11.23" height="1.55" fill="#ff366d"/>
<rect x="240.48" y="326.80" width="11.23" height="1.35" fill="#ff2f66"/>
<rect x="240.48" y="328.10" width="11.23" height="1.55" fill="#fe3970"/>
<rect x="240.48" y="329.60" width="11.23" height="2.65" fill="#ff5789"/>
<rect x="240.48" y="332.20" width="11.23" height="1.55" fill="#f7184a"/>
<rect x="240.48" y="333.70" width="11.23" height="1.35" fill="#ff5587"/>
<rect x="240.48" y="335.00" width="11.23" height="1.35" fill="#ff588a"/>
<rect x="240.48" y="336.30" width="11.23" height="2.25" fill="#ff3269"/>
<rect x="240.48" y="338.50" width="11.23" height="2.25" fill="#fd356c"/>
<rect x="240.48" y="340.70" width="11.23" height="1.35" fill="#f81c4e"/>
<rect x="240.48" y="342.00" width="11.23" height="1.35" fill="#fe2960"/>
<rect x="240.48" y="343.30" width="11.23" height="1.85" fill="#fd275e"/>
<rect x="240.48" y="345.10" width="11.23" height="2.65" fill="#ff5486"/>
<rect x="240.48" y="347.70" width="11.23" height="2.65" fill="#f91e50"/>
<rect x="240.48" y="350.30" width="11.23" height="1.55" fill="#ff366d"/>
<rect x="240.48" y="351.80" width="11.23" height="1.35" fill="#fd366d"/>
<rect x="240.48" y="353.10" width="11.23" height="1.55" fill="#ff467d"/>
<rect x="240.48" y="354.60" width="11.23" height="1.85" fill="#ff457c"/>
<rect x="240.48" y="356.40" width="11.23" height="0.15" fill="#fe3970"/>
<rect x="240.48" y="356.50" width="11.23" height="2.65" fill="#5f78fc"/>
<rect x="240.48" y="359.10" width="11.23" height="1.35" fill="#3c5ef9"/>
<rect x="240.48" y="360.40" width="11.23" height="2.65" fill="#364ded"/>
<rect x="240.48" y="363.00" width="11.23" height="2.65" fill="#3a53ee"/>
<rect x="240.48" y="365.60" width="11.23" height="1.35" fill="#3c5cf7"/>
<rect x="240.48" y="366.90" width="11.23" height="1.55" fill="#3754f4"/>
<rect x="240.48" y="368.40" width="11.23" height="0.25" fill="#3c5cf7"/>
<rect x="251.67" y="320.50" width="11.23" height="1.35" fill="#ff3269"/>
<rect x="251.67" y="321.80" width="11.23" height="1.35" fill="#f81b4d"/>
<rect x="251.67" y="323.10" width="11.23" height="2.65" fill="#ff366d"/>
<rect x="251.67" y="325.70" width="11.23" height="2.25" fill="#fd265d"/>
<rect x="251.67" y="327.90" width="11.23" height="1.55" fill="#fc2158"/>
<rect x="251.67" y="329.40" width="11.23" height="1.35" fill="#f92254"/>
<rect x="251.67" y="330.70" width="11.23" height="1.55" fill="#ff346b"/>
<rect x="251.67" y="332.20" width="11.23" height="1.55" fill="#f91e50"/>
<rect x="251.67" y="333.70" width="11.23" height="2.25" fill="#f71749"/>
<rect x="251.67" y="335.90" width="11.23" height="1.85" fill="#f7184a"/>
<rect x="251.67" y="337.70" width="11.23" height="1.85" fill="#fb295b"/>
<rect x="251.67" y="339.50" width="11.23" height="2.65" fill="#ff588a"/>
<rect x="251.67" y="342.10" width="11.23" height="2.65" fill="#ff336a"/>
<rect x="251.67" y="344.70" width="11.23" height="1.35" fill="#ff5082"/>
<rect x="251.67" y="346.00" width="11.23" height="1.35" fill="#f92254"/>
<rect x="251.67" y="347.30" width="11.23" height="1.35" fill="#ff4178"/>
<rect x="251.67" y="348.60" width="11.23" height="1.35" fill="#f81b4d"/>
<rect x="251.67" y="349.90" width="11.23" height="1.35" fill="#fd366d"/>
<rect x="251.67" y="351.20" width="11.23" height="1.35" fill="#fe2960"/>
<rect x="251.67" y="352.50" width="11.23" height="1.35" fill="#ff5486"/>
<rect x="251.67" y="353.80" width="11.23" height="1.55" fill="#ff5284"/>
<rect x="251.67" y="355.30" width="11.23" height="1.25" fill="#fa2456"/>
<rect x="251.67" y="356.50" width="11.23" height="1.55" fill="#3858f8"/>
<rect x="251.67" y="358.00" width="11.23" height="1.55" fill="#6080ff"/>
<rect x="251.67" y="359.50" width="11.23" height="1.35" fill="#5f7bff"/>
<rect x="251.67" y="360.80" width="11.23" height="1.35" fill="#364eee"/>
<rect x="251.67" y="362.10" width="11.23" height="2.25" fill="#3c5cf7"/>
<rect x="251.67" y="364.30" width="11.23" height="1.85" fill="#4762f8"/>
<rect x="251.67" y="366.10" width="11.23" height="2.55" fill="#496bff"/>
<rect x="262.85" y="320.50" width="11.23" height="1.55" fill="#5f79fd"/>
<rect x="262.85" y="322.00" width="11.23" height="2.65" fill="#3b56f1"/>
<rect x="262.85" y="324.60" width="11.23" height="1.55" fill="#5f7cff"/>
<rect x="262.85" y="326.10" width="11.23" height="1.55" fill="#607dff"/>
<rect x="262.85" y="327.60" width="11.23" height="2.65" fill="#4763f9"/>
<rect x="262.85" y="330.20" width="11.23" height="1.55" fill="#4969ff"/>
<rect x="262.85" y="331.70" width="11.23" height="2.65" fill="#496dff"/>
<rect x="262.85" y="334.30" width="11.23" height="1.85" fill="#364cec"/>
<rect x="262.85" y="336.10" width="11.23" height="1.55" fill="#3754f4"/>
<rect x="262.85" y="337.60" width="11.23" height="1.35" fill="#465cf2"/>
<rect x="262.85" y="338.90" width="11.23" height="2.25" fill="#4969ff"/>
<rect x="262.85" y="341.10" width="11.23" height="1.85" fill="#5d70f4"/>
<rect x="262.85" y="342.90" width="11.23" height="1.35" fill="#364ded"/>
<rect x="262.85" y="344.20" width="11.23" height="1.35" fill="#3d5ffa"/>
<rect x="262.85" y="345.50" width="11.23" height="1.55" fill="#3548e8"/>
<rect x="262.85" y="347.00" width="11.23" height="2.65" fill="#8090f9"/>
<rect x="262.85" y="349.60" width="11.23" height="2.25" fill="#5f7bff"/>
<rect x="262.85" y="351.80" width="11.23" height="2.65" fill="#4866fc"/>
<rect x="262.85" y="354.40" width="11.23" height="2.15" fill="#5f7afe"/>
<rect x="262.85" y="356.50" width="11.23" height="1.35" fill="#fd497b"/>
<rect x="262.85" y="357.80" width="11.23" height="2.25" fill="#fd366d"/>
<rect x="262.85" y="360.00" width="11.23" height="2.25" fill="#fe4e80"/>
<rect x="262.85" y="362.20" width="11.23" height="2.65" fill="#ff5082"/>
<rect x="262.85" y="364.80" width="11.23" height="1.55" fill="#fb295b"/>
<rect x="262.85" y="366.30" width="11.23" height="2.25" fill="#ff598b"/>
<rect x="262.85" y="368.50" width="11.23" height="0.15" fill="#fd275e"/>
<rect x="274.03" y="320.50" width="11.23" height="1.55" fill="#496dff"/>
<rect x="274.03" y="322.00" width="11.23" height="1.55" fill="#3751f1"/>
<rect x="274.03" y="323.50" width="11.23" height="2.65" fill="#4864fa"/>
<rect x="274.03" y="326.10" width="11.23" height="1.85" fill="#3858f8"/>
<rect x="274.03" y="327.90" width="11.23" height="1.55" fill="#4969ff"/>
<rect x="274.03" y="329.40" width="11.23" height="1.35" fill="#364beb"/>
<rect x="274.03" y="330.70" width="11.23" height="2.25" fill="#808df6"/>
<rect x="274.03" y="332.90" width="11.23" height="2.25" fill="#3548e8"/>
<rect x="274.03" y="335.10" width="11.23" height="1.85" fill="#5f78fc"/>
<rect x="274.03" y="336.90" width="11.23" height="1.55" fill="#5d71f5"/>
<rect x="274.03" y="338.40" width="11.23" height="1.35" fill="#4865fb"/>
<rect x="274.03" y="339.70" width="11.23" height="1.55" fill="#4866fc"/>
<rect x="274.03" y="341.20" width="11.23" height="2.25" fill="#607dff"/>
<rect x="274.03" y="343.40" width="11.23" height="1.55" fill="#607fff"/>
<rect x="274.03" y="344.90" width="11.23" height="1.85" fill="#6081ff"/>
<rect x="274.03" y="346.70" width="11.23" height="1.55" fill="#829aff"/>
<rect x="274.03" y="348.20" width="11.23" height="1.85" fill="#364cec"/>
<rect x="274.03" y="350.00" width="11.23" height="2.25" fill="#5f7afe"/>
<rect x="274.03" y="352.20" width="11.23" height="1.85" fill="#496bff"/>
<rect x="274.03" y="354.00" width="11.23" height="1.35" fill="#3d62fd"/>
<rect x="274.03" y="355.30" width="11.23" height="1.25" fill="#3546e6"/>
<rect x="274.03" y="356.50" width="11.23" height="1.35" fill="#ff467d"/>
<rect x="274.03" y="357.80" width="11.23" height="1.85" fill="#fa2557"/>
<rect x="274.03" y="359.60" width="11.23" height="2.65" fill="#ff447b"/>
<rect x="274.03" y="362.20" width="11.23" height="1.55" fill="#fe4c7e"/>
<rect x="274.03" y="363.70" width="11.23" height="1.55" fill="#ff457c"/>
<rect x="274.03" y="365.20" width="11.23" height="2.65" fill="#ff3e75"/>
<rect x="274.03" y="367.80" width="11.23" height="0.85" fill="#ff3168"/>
<rect x="285.22" y="320.50" width="11.23" height="2.65" fill="#3753f3"/>
<rect x="285.22" y="323.10" width="11.23" height="2.65" fill="#3b58f3"/>
<rect x="285.22" y="325.70" width="11.23" height="1.35" fill="#3a54ef"/>
<rect x="285.22" y="327.00" width="11.23" height="1.55" fill="#5d6ff3"/>
<rect x="285.22" y="328.50" width="11.23" height="2.25" fill="#465ef4"/>
<rect x="285.22" y="330.70" width="11.23" height="1.55" fill="#3b56f1"/>
<rect x="285.22" y="332.20" width="11.23" height="2.65" fill="#607eff"/>
<rect x="285.22" y="334.80" width="11.23" height="1.85" fill="#6081ff"/>
<rect x="285.22" y="336.60" width="11.23" height="1.35" fill="#4866fc"/>
<rect x="285.22" y="337.90" width="11.23" height="1.35" fill="#3c5df8"/>
<rect x="285.22" y="339.20" width="11.23" height="1.85" fill="#3b59f4"/>
<rect x="285.22" y="341.00" width="11.23" height="1.55" fill="#3b58f3"/>
<rect x="285.22" y="342.50" width="11.23" height="1.55" fill="#3753f3"/>
<rect x="285.22" y="344.00" width="11.23" height="1.85" fill="#5f79fd"/>
<rect x="285.22" y="345.80" width="11.23" height="1.55" fill="#364eee"/>
<rect x="285.22" y="347.30" width="11.23" height="2.65" fill="#3b55f0"/>
<rect x="285.22" y="349.90" width="11.23" height="2.25" fill="#6081ff"/>
<rect x="285.22" y="352.10" width="11.23" height="2.65" fill="#3753f3"/>
<rect x="285.22" y="354.70" width="11.23" height="1.35" fill="#3754f4"/>
<rect x="285.22" y="356.00" width="11.23" height="0.55" fill="#3a50eb"/>
<rect x="285.22" y="356.50" width="11.23" height="2.65" fill="#ff5183"/>
<rect x="285.22" y="359.10" width="11.23" height="1.35" fill="#fe4b7d"/>
<rect x="285.22" y="360.40" width="11.23" height="1.35" fill="#fd255c"/>
<rect x="285.22" y="361.70" width="11.23" height="2.25" fill="#ff336a"/>
<rect x="285.22" y="363.90" width="11.23" height="2.65" fill="#ff5284"/>
<rect x="285.22" y="366.50" width="11.23" height="2.15" fill="#fd265d"/>
<rect x="227.70" y="315.00" width="70.30" height="54.60" fill="none" stroke="#000" stroke-width="1.6"/>
<text x="8.50" y="404.30" font-size="10.61" font-weight="bold" fill="#000" textLength="8.10" lengthAdjust="spacingAndGlyphs">D</text>
<text transform="translate(18.20,536.40) rotate(-90)" x="0" y="0" font-size="10.17" fill="#333" textLength="51.70" lengthAdjust="spacingAndGlyphs">KRAS signaling</text>
<line x1="24.30" y1="428.60" x2="24.30" y2="592.40" stroke="#111" stroke-width="1.20"/>
<text x="71.30" y="407.90" font-size="11.19" font-weight="normal" fill="#111" textLength="30.70" lengthAdjust="spacingAndGlyphs">MM.1S</text>
<line x1="43.10" y1="410.20" x2="129.70" y2="410.20" stroke="#000" stroke-width="1.40"/>
<text x="182.00" y="407.90" font-size="11.19" font-weight="normal" fill="#111" textLength="31.00" lengthAdjust="spacingAndGlyphs">KMS20</text>
<line x1="153.70" y1="410.20" x2="240.50" y2="410.20" stroke="#000" stroke-width="1.40"/>
<text x="298.50" y="407.90" font-size="11.19" font-weight="normal" fill="#111" textLength="28.90" lengthAdjust="spacingAndGlyphs">OPM2</text>
<line x1="269.40" y1="410.20" x2="355.90" y2="410.20" stroke="#000" stroke-width="1.40"/>
<text x="417.20" y="407.90" font-size="11.19" font-weight="normal" fill="#111" textLength="22.60" lengthAdjust="spacingAndGlyphs">U266</text>
<line x1="384.90" y1="410.20" x2="471.60" y2="410.20" stroke="#000" stroke-width="1.40"/>
<defs><linearGradient id="gs" x1="0" y1="0" x2="1" y2="0"><stop offset="0" stop-color="#ff1c4c"/><stop offset="0.3" stop-color="#ff3c80"/><stop offset="0.36" stop-color="#f07cd8"/><stop offset="0.5" stop-color="#e8c0ff"/><stop offset="0.72" stop-color="#d8dcff"/><stop offset="0.78" stop-color="#6474ff"/><stop offset="1" stop-color="#2030ff"/></linearGradient></defs>
<text x="85.20" y="420.30" font-size="4.3" fill="#111" text-anchor="middle" textLength="31" lengthAdjust="spacingAndGlyphs" stroke="#111" stroke-width="0.12">Enrichment plot:</text>
<text x="85.20" y="425.20" font-size="4.3" fill="#000" text-anchor="middle" textLength="66.90" lengthAdjust="spacingAndGlyphs" stroke="#000" stroke-width="0.1">HALLMARK_KRAS_SIGNALING_DN</text>
<rect x="44.80" y="468.60" width="0.70" height="12.40" fill="#7e8683"/>
<rect x="45.50" y="468.60" width="0.90" height="12.40" fill="#717976"/>
<rect x="46.40" y="468.60" width="1.10" height="12.40" fill="#2f3734"/>
<rect x="47.50" y="468.60" width="1.40" height="12.40" fill="#676f6c"/>
<rect x="48.90" y="468.60" width="0.50" height="12.40" fill="#88908d"/>
<rect x="49.40" y="468.60" width="0.50" height="12.40" fill="#bec6c3"/>
<rect x="49.90" y="468.60" width="0.70" height="12.40" fill="#454d4a"/>
<rect x="50.60" y="468.60" width="1.10" height="12.40" fill="#edf5f2"/>
<rect x="51.70" y="468.60" width="0.90" height="12.40" fill="#646c69"/>
<rect x="52.60" y="468.60" width="0.90" height="12.40" fill="#e2eae7"/>
<rect x="53.50" y="468.60" width="0.50" height="12.40" fill="#c3cbc8"/>
<rect x="54.00" y="468.60" width="1.10" height="12.40" fill="#bac2bf"/>
<rect x="55.10" y="468.60" width="1.10" height="12.40" fill="#707875"/>
<rect x="56.20" y="468.60" width="0.50" height="12.40" fill="#737b78"/>
<rect x="56.70" y="468.60" width="0.50" height="12.40" fill="#353d3a"/>
<rect x="57.20" y="468.60" width="1.40" height="12.40" fill="#edf5f2"/>
<rect x="58.60" y="468.60" width="1.40" height="12.40" fill="#717976"/>
<rect x="60.00" y="468.60" width="0.70" height="12.40" fill="#8f9794"/>
<rect x="60.70" y="468.60" width="1.40" height="12.40" fill="#808885"/>
<rect x="62.10" y="468.60" width="1.10" height="12.40" fill="#6c7471"/>
<rect x="63.20" y="468.60" width="1.10" height="12.40" fill="#edf5f2"/>
<rect x="64.30" y="468.60" width="0.50" height="12.40" fill="#bac2bf"/>
<rect x="64.80" y="468.60" width="1.10" height="12.40" fill="#edf5f2"/>
<rect x="65.90" y="468.60" width="1.40" height="12.40" fill="#3b4340"/>
<rect x="67.30" y="468.60" width="1.40" height="12.40" fill="#949c99"/>
<rect x="68.70" y="468.60" width="0.50" height="12.40" fill="#b5bdba"/>
<rect x="69.20" y="468.60" width="0.90" height="12.40" fill="#2a322f"/>
<rect x="70.10" y="468.60" width="1.40" height="12.40" fill="#18201d"/>
<rect x="71.50" y="468.60" width="0.70" height="12.40" fill="#d4dcd9"/>
<rect x="72.20" y="468.60" width="1.10" height="12.40" fill="#878f8c"/>
<rect x="73.30" y="468.60" width="1.40" height="12.40" fill="#1e2623"/>
<rect x="74.70" y="468.60" width="1.10" height="12.40" fill="#1b2320"/>
<rect x="75.80" y="468.60" width="1.40" height="12.40" fill="#e5edea"/>
<rect x="77.20" y="468.60" width="1.40" height="12.40" fill="#878f8c"/>
<rect x="78.60" y="468.60" width="0.70" height="12.40" fill="#edf5f2"/>
<rect x="79.30" y="468.60" width="1.10" height="12.40" fill="#363e3b"/>
<rect x="80.40" y="468.60" width="0.90" height="12.40" fill="#d8e0dd"/>
<rect x="81.30" y="468.60" width="0.90" height="12.40" fill="#dee6e3"/>
<rect x="82.20" y="468.60" width="1.10" height="12.40" fill="#d3dbd8"/>
<rect x="83.30" y="468.60" width="0.70" height="12.40" fill="#0f1714"/>
<rect x="84.00" y="468.60" width="1.10" height="12.40" fill="#d9e1de"/>
<rect x="85.10" y="468.60" width="1.40" height="12.40" fill="#1c2421"/>
<rect x="86.50" y="468.60" width="0.70" height="12.40" fill="#1e2623"/>
<rect x="87.20" y="468.60" width="0.70" height="12.40" fill="#212926"/>
<rect x="87.90" y="468.60" width="1.10" height="12.40" fill="#707875"/>
<rect x="89.00" y="468.60" width="1.10" height="12.40" fill="#969e9b"/>
<rect x="90.10" y="468.60" width="0.90" height="12.40" fill="#ffffff"/>
<rect x="91.00" y="468.60" width="0.50" height="12.40" fill="#ffffff"/>
<rect x="91.50" y="468.60" width="0.70" height="12.40" fill="#c8d4d2"/>
<rect x="92.20" y="468.60" width="0.50" height="12.40" fill="#ffffff"/>
<rect x="92.70" y="468.60" width="0.90" height="12.40" fill="#ffffff"/>
<rect x="93.60" y="468.60" width="1.40" height="12.40" fill="#7d8582"/>
<rect x="95.00" y="468.60" width="0.70" height="12.40" fill="#c1c9c6"/>
<rect x="95.70" y="468.60" width="0.50" height="12.40" fill="#b3bbb8"/>
<rect x="96.20" y="468.60" width="0.70" height="12.40" fill="#d2dad7"/>
<rect x="96.90" y="468.60" width="0.90" height="12.40" fill="#c3cbc8"/>
<rect x="97.80" y="468.60" width="0.90" height="12.40" fill="#828a87"/>
<rect x="98.70" y="468.60" width="1.40" height="12.40" fill="#b8c0bd"/>
<rect x="100.10" y="468.60" width="1.10" height="12.40" fill="#afb7b4"/>
<rect x="101.20" y="468.60" width="0.50" height="12.40" fill="#575f5c"/>
<rect x="101.70" y="468.60" width="0.50" height="12.40" fill="#edf5f2"/>
<rect x="102.20" y="468.60" width="1.10" height="12.40" fill="#252d2a"/>
<rect x="103.30" y="468.60" width="1.40" height="12.40" fill="#b6bebb"/>
<rect x="104.70" y="468.60" width="0.90" height="12.40" fill="#121a17"/>
<rect x="105.60" y="468.60" width="0.50" height="12.40" fill="#a5adaa"/>
<rect x="106.10" y="468.60" width="0.90" height="12.40" fill="#2d3532"/>
<rect x="107.00" y="468.60" width="1.10" height="12.40" fill="#151d1a"/>
<rect x="108.10" y="468.60" width="1.40" height="12.40" fill="#d6dedb"/>
<rect x="109.50" y="468.60" width="0.90" height="12.40" fill="#121a17"/>
<rect x="110.40" y="468.60" width="1.40" height="12.40" fill="#676f6c"/>
<rect x="111.80" y="468.60" width="0.50" height="12.40" fill="#555d5a"/>
<rect x="112.30" y="468.60" width="0.70" height="12.40" fill="#8c9491"/>
<rect x="113.00" y="468.60" width="1.10" height="12.40" fill="#edf5f2"/>
<rect x="114.10" y="468.60" width="0.50" height="12.40" fill="#535b58"/>
<rect x="114.60" y="468.60" width="1.10" height="12.40" fill="#6b7370"/>
<rect x="115.70" y="468.60" width="1.10" height="12.40" fill="#737b78"/>
<rect x="116.80" y="468.60" width="1.10" height="12.40" fill="#edf5f2"/>
<rect x="117.90" y="468.60" width="1.10" height="12.40" fill="#dbe3e0"/>
<rect x="119.00" y="468.60" width="1.40" height="12.40" fill="#2e3633"/>
<rect x="120.40" y="468.60" width="1.10" height="12.40" fill="#313936"/>
<rect x="121.50" y="468.60" width="0.90" height="12.40" fill="#6f7774"/>
<rect x="122.40" y="468.60" width="0.50" height="12.40" fill="#dde5e2"/>
<rect x="122.90" y="468.60" width="0.90" height="12.40" fill="#414946"/>
<rect x="123.80" y="468.60" width="1.10" height="12.40" fill="#535b58"/>
<rect x="124.90" y="468.60" width="0.50" height="12.40" fill="#444c49"/>
<rect x="44.40" y="481.00" width="81.60" height="3.00" fill="url(#gs)"/>
<line x1="43.80" y1="456.20" x2="126.60" y2="456.20" stroke="#333" stroke-width="1.00"/>
<polyline points="44.60,449.40 44.76,448.16 44.92,446.98 45.08,445.91 45.24,444.51 45.40,443.30 45.80,442.10 46.20,440.93 46.60,439.57 47.00,438.50 48.70,438.10 49.50,437.30 50.03,436.10 50.57,434.95 51.10,433.70 51.90,432.77 52.70,431.60 53.90,431.64 55.10,432.00 56.70,431.72 58.30,431.60 60.40,432.00 61.40,432.74 62.40,433.80 63.60,433.92 64.80,433.88 66.00,433.62 67.20,433.80 68.22,434.79 69.25,435.59 70.28,436.26 71.30,437.00 72.50,437.30 73.70,437.50 74.77,438.10 75.83,438.77 76.90,439.70 77.93,440.61 78.95,441.32 79.97,442.28 81.00,443.30 82.10,444.23 83.20,445.18 84.30,446.40 85.28,447.49 86.25,448.58 87.22,449.84 88.20,450.80 89.06,451.65 89.92,452.54 90.78,453.32 91.64,454.22 92.50,455.00 93.60,456.12 94.70,457.18 95.80,458.40 96.93,459.47 98.07,460.33 99.20,461.00 100.50,460.50 102.00,461.49 103.50,462.20 104.60,462.85 105.70,463.26 106.80,463.90 108.10,464.64 109.40,465.60 111.10,465.20 112.15,464.27 113.20,463.50 113.60,465.60 115.30,465.20 116.60,466.50 117.80,465.20 118.30,463.50 119.35,462.68 120.40,462.20 121.45,461.71 122.50,461.00 122.90,459.46 123.30,458.00 123.47,456.87 123.63,455.42 123.80,454.20 124.60,455.00" fill="none" stroke="#d81c24" stroke-width="1.1" stroke-linejoin="round"/>
<rect x="44.40" y="429.10" width="81.60" height="54.90" fill="none" stroke="#111" stroke-width="1.2"/>
<text x="43.00" y="430.40" font-size="3.3" font-weight="bold" fill="#333" text-anchor="end">0.30</text>
<line x1="43.30" y1="429.30" x2="43.80" y2="429.30" stroke="#333" stroke-width="0.40"/>
<text x="43.00" y="435.20" font-size="3.3" font-weight="bold" fill="#333" text-anchor="end">0.25</text>
<line x1="43.30" y1="434.10" x2="43.80" y2="434.10" stroke="#333" stroke-width="0.40"/>
<text x="43.00" y="439.50" font-size="3.3" font-weight="bold" fill="#333" text-anchor="end">0.20</text>
<line x1="43.30" y1="438.40" x2="43.80" y2="438.40" stroke="#333" stroke-width="0.40"/>
<text x="43.00" y="443.80" font-size="3.3" font-weight="bold" fill="#333" text-anchor="end">0.15</text>
<line x1="43.30" y1="442.70" x2="43.80" y2="442.70" stroke="#333" stroke-width="0.40"/>
<text x="43.00" y="448.10" font-size="3.3" font-weight="bold" fill="#333" text-anchor="end">0.10</text>
<line x1="43.30" y1="447.00" x2="43.80" y2="447.00" stroke="#333" stroke-width="0.40"/>
<text x="43.00" y="453.90" font-size="3.3" font-weight="bold" fill="#333" text-anchor="end">0.05</text>
<line x1="43.30" y1="452.80" x2="43.80" y2="452.80" stroke="#333" stroke-width="0.40"/>
<text x="43.00" y="457.70" font-size="3.3" font-weight="bold" fill="#333" text-anchor="end">0.00</text>
<line x1="43.30" y1="456.60" x2="43.80" y2="456.60" stroke="#333" stroke-width="0.40"/>
<text x="43.00" y="462.10" font-size="3.3" font-weight="bold" fill="#333" text-anchor="end">-0.05</text>
<line x1="43.30" y1="461.00" x2="43.80" y2="461.00" stroke="#333" stroke-width="0.40"/>
<text x="43.00" y="466.40" font-size="3.3" font-weight="bold" fill="#333" text-anchor="end">-0.10</text>
<line x1="43.30" y1="465.30" x2="43.80" y2="465.30" stroke="#333" stroke-width="0.40"/>
<text transform="translate(32.00,480.60) rotate(-90)" x="0" y="0" font-size="6.10" fill="#111" textLength="49.10" lengthAdjust="spacingAndGlyphs" stroke="#111" stroke-width="0.18">Enrichment score (ES)</text>
<text x="51.90" y="497.30" font-size="11.19" font-weight="normal" fill="#333" textLength="64.60" lengthAdjust="spacingAndGlyphs">FDR: 0.05 - <tspan font-style="italic">P</tspan>:  0.03</text>
<text x="65.70" y="508.60" font-size="11.19" font-weight="normal" fill="#333" textLength="37.90" lengthAdjust="spacingAndGlyphs">NES: 1.291</text>
<text x="197.25" y="420.30" font-size="4.3" fill="#111" text-anchor="middle" textLength="31" lengthAdjust="spacingAndGlyphs" stroke="#111" stroke-width="0.12">Enrichment plot:</text>
<text x="197.25" y="424.90" font-size="4.3" fill="#000" text-anchor="middle" textLength="69.60" lengthAdjust="spacingAndGlyphs" stroke="#000" stroke-width="0.1">HALLMARK_KRAS_SIGNALING_UP</text>
<rect x="154.90" y="468.40" width="0.70" height="12.40" fill="#abb3b0"/>
<rect x="155.60" y="468.40" width="1.10" height="12.40" fill="#b9c1be"/>
<rect x="156.70" y="468.40" width="0.90" height="12.40" fill="#edf5f2"/>
<rect x="157.60" y="468.40" width="0.90" height="12.40" fill="#131b18"/>
<rect x="158.50" y="468.40" width="1.40" height="12.40" fill="#bac2bf"/>
<rect x="159.90" y="468.40" width="1.10" height="12.40" fill="#edf5f2"/>
<rect x="161.00" y="468.40" width="0.50" height="12.40" fill="#5e6663"/>
<rect x="161.50" y="468.40" width="0.70" height="12.40" fill="#bac2bf"/>
<rect x="162.20" y="468.40" width="1.40" height="12.40" fill="#18201d"/>
<rect x="163.60" y="468.40" width="1.40" height="12.40" fill="#d9e1de"/>
<rect x="165.00" y="468.40" width="0.90" height="12.40" fill="#a7afac"/>
<rect x="165.90" y="468.40" width="0.90" height="12.40" fill="#1f2724"/>
<rect x="166.80" y="468.40" width="1.40" height="12.40" fill="#c3cbc8"/>
<rect x="168.20" y="468.40" width="0.70" height="12.40" fill="#808885"/>
<rect x="168.90" y="468.40" width="0.50" height="12.40" fill="#838b88"/>
<rect x="169.40" y="468.40" width="0.90" height="12.40" fill="#6e7673"/>
<rect x="170.30" y="468.40" width="0.70" height="12.40" fill="#9ca4a1"/>
<rect x="171.00" y="468.40" width="1.40" height="12.40" fill="#e3ebe8"/>
<rect x="172.40" y="468.40" width="1.40" height="12.40" fill="#68706d"/>
<rect x="173.80" y="468.40" width="1.40" height="12.40" fill="#818986"/>
<rect x="175.20" y="468.40" width="1.10" height="12.40" fill="#919996"/>
<rect x="176.30" y="468.40" width="1.10" height="12.40" fill="#dae2df"/>
<rect x="177.40" y="468.40" width="0.70" height="12.40" fill="#6f7774"/>
<rect x="178.10" y="468.40" width="0.50" height="12.40" fill="#7a827f"/>
<rect x="178.60" y="468.40" width="0.50" height="12.40" fill="#676f6c"/>
<rect x="179.10" y="468.40" width="0.90" height="12.40" fill="#1d2522"/>
<rect x="180.00" y="468.40" width="1.10" height="12.40" fill="#ebf3f0"/>
<rect x="181.10" y="468.40" width="0.70" height="12.40" fill="#757d7a"/>
<rect x="181.80" y="468.40" width="0.70" height="12.40" fill="#b1b9b6"/>
<rect x="182.50" y="468.40" width="1.40" height="12.40" fill="#a6aeab"/>
<rect x="183.90" y="468.40" width="1.10" height="12.40" fill="#666e6b"/>
<rect x="185.00" y="468.40" width="0.90" height="12.40" fill="#0e1613"/>
<rect x="185.90" y="468.40" width="1.10" height="12.40" fill="#edf5f2"/>
<rect x="187.00" y="468.40" width="0.90" height="12.40" fill="#141c19"/>
<rect x="187.90" y="468.40" width="1.40" height="12.40" fill="#a2aaa7"/>
<rect x="189.30" y="468.40" width="0.70" height="12.40" fill="#6c7471"/>
<rect x="190.00" y="468.40" width="0.90" height="12.40" fill="#cbd3d0"/>
<rect x="190.90" y="468.40" width="1.40" height="12.40" fill="#7a827f"/>
<rect x="192.30" y="468.40" width="0.50" height="12.40" fill="#d1d9d6"/>
<rect x="192.80" y="468.40" width="0.50" height="12.40" fill="#0d1512"/>
<rect x="193.30" y="468.40" width="1.10" height="12.40" fill="#242c29"/>
<rect x="194.40" y="468.40" width="0.90" height="12.40" fill="#3a423f"/>
<rect x="195.30" y="468.40" width="1.40" height="12.40" fill="#aeb6b3"/>
<rect x="196.70" y="468.40" width="1.40" height="12.40" fill="#edf5f2"/>
<rect x="198.10" y="468.40" width="1.10" height="12.40" fill="#29312e"/>
<rect x="199.20" y="468.40" width="0.70" height="12.40" fill="#afb7b4"/>
<rect x="199.90" y="468.40" width="1.10" height="12.40" fill="#d9e1de"/>
<rect x="201.00" y="468.40" width="1.10" height="12.40" fill="#747c79"/>
<rect x="202.10" y="468.40" width="0.70" height="12.40" fill="#c6cecb"/>
<rect x="202.80" y="468.40" width="1.40" height="12.40" fill="#bac2bf"/>
<rect x="204.20" y="468.40" width="0.90" height="12.40" fill="#d7dfdc"/>
<rect x="205.10" y="468.40" width="1.40" height="12.40" fill="#9da5a2"/>
<rect x="206.50" y="468.40" width="0.50" height="12.40" fill="#9da5a2"/>
<rect x="207.00" y="468.40" width="0.70" height="12.40" fill="#525a57"/>
<rect x="207.70" y="468.40" width="0.70" height="12.40" fill="#78807d"/>
<rect x="208.40" y="468.40" width="0.90" height="12.40" fill="#8e9693"/>
<rect x="209.30" y="468.40" width="0.50" height="12.40" fill="#444c49"/>
<rect x="209.80" y="468.40" width="0.50" height="12.40" fill="#b6bebb"/>
<rect x="210.30" y="468.40" width="1.40" height="12.40" fill="#626a67"/>
<rect x="211.70" y="468.40" width="1.40" height="12.40" fill="#a1a9a6"/>
<rect x="213.10" y="468.40" width="1.40" height="12.40" fill="#bac2bf"/>
<rect x="214.50" y="468.40" width="1.40" height="12.40" fill="#6d7572"/>
<rect x="215.90" y="468.40" width="0.70" height="12.40" fill="#101815"/>
<rect x="216.60" y="468.40" width="1.10" height="12.40" fill="#8e9693"/>
<rect x="217.70" y="468.40" width="0.50" height="12.40" fill="#858d8a"/>
<rect x="218.20" y="468.40" width="0.70" height="12.40" fill="#434b48"/>
<rect x="218.90" y="468.40" width="1.10" height="12.40" fill="#edf5f2"/>
<rect x="220.00" y="468.40" width="1.40" height="12.40" fill="#111916"/>
<rect x="221.40" y="468.40" width="1.40" height="12.40" fill="#8a928f"/>
<rect x="222.80" y="468.40" width="0.50" height="12.40" fill="#676f6c"/>
<rect x="223.30" y="468.40" width="0.50" height="12.40" fill="#c6cecb"/>
<rect x="223.80" y="468.40" width="0.50" height="12.40" fill="#303835"/>
<rect x="224.30" y="468.40" width="0.50" height="12.40" fill="#5e6663"/>
<rect x="224.80" y="468.40" width="0.90" height="12.40" fill="#6b7370"/>
<rect x="225.70" y="468.40" width="1.10" height="12.40" fill="#5d6562"/>
<rect x="226.80" y="468.40" width="1.40" height="12.40" fill="#919996"/>
<rect x="228.20" y="468.40" width="0.50" height="12.40" fill="#1e2623"/>
<rect x="228.70" y="468.40" width="0.90" height="12.40" fill="#edf5f2"/>
<rect x="229.60" y="468.40" width="0.70" height="12.40" fill="#d6dedb"/>
<rect x="230.30" y="468.40" width="0.90" height="12.40" fill="#202825"/>
<rect x="231.20" y="468.40" width="0.50" height="12.40" fill="#c9d1ce"/>
<rect x="231.70" y="468.40" width="0.90" height="12.40" fill="#1a221f"/>
<rect x="232.60" y="468.40" width="0.90" height="12.40" fill="#7e8683"/>
<rect x="233.50" y="468.40" width="1.10" height="12.40" fill="#969e9b"/>
<rect x="234.60" y="468.40" width="1.40" height="12.40" fill="#131b18"/>
<rect x="236.00" y="468.40" width="0.50" height="12.40" fill="#747c79"/>
<rect x="236.50" y="468.40" width="1.40" height="12.40" fill="#abb3b0"/>
<rect x="237.90" y="468.40" width="0.70" height="12.40" fill="#3a423f"/>
<rect x="238.60" y="468.40" width="0.80" height="12.40" fill="#d9e1de"/>
<rect x="154.50" y="480.80" width="85.50" height="3.00" fill="url(#gs)"/>
<line x1="153.90" y1="440.30" x2="240.60" y2="440.30" stroke="#333" stroke-width="1.00"/>
<polyline points="155.10,436.60 156.00,435.29 156.90,434.00 157.75,433.16 158.60,432.20 160.40,432.40 161.70,431.30 163.10,430.20 164.20,430.82 165.30,431.30 166.60,431.81 167.90,432.60 168.93,433.30 169.97,434.35 171.00,435.30 173.20,435.30 175.00,436.20 176.35,437.21 177.70,438.40 178.87,439.26 180.03,439.94 181.20,440.60 182.30,441.64 183.40,442.62 184.50,443.66 185.60,444.60 186.50,445.26 187.40,446.18 188.30,446.86 189.20,447.96 190.10,448.60 191.27,449.29 192.43,450.46 193.60,451.20 194.80,452.08 196.00,453.30 197.35,454.22 198.70,455.00 200.00,455.63 201.30,456.40 202.18,457.19 203.05,458.19 203.93,458.68 204.80,459.70 206.00,460.02 207.20,460.87 208.40,461.20 209.73,461.37 211.07,461.37 212.40,461.70 213.73,462.46 215.07,463.01 216.40,463.40 217.57,463.85 218.73,464.57 219.90,465.20 221.20,464.70 222.50,464.50 223.65,465.23 224.80,466.10 225.67,464.82 226.53,463.30 227.40,462.10 229.20,462.50 230.30,461.28 231.40,459.90 232.05,458.62 232.70,457.57 233.35,456.73 234.00,455.50 234.60,454.13 235.20,452.80 235.80,451.50 236.25,449.99 236.70,448.40 236.57,447.19 236.43,445.95 236.30,444.80 236.43,443.31 236.57,442.29 236.70,440.90" fill="none" stroke="#d81c24" stroke-width="1.1" stroke-linejoin="round"/>
<rect x="154.50" y="429.20" width="85.50" height="54.60" fill="none" stroke="#111" stroke-width="1.2"/>
<text x="153.10" y="434.50" font-size="3.3" font-weight="bold" fill="#333" text-anchor="end">0.1</text>
<line x1="153.40" y1="433.40" x2="153.90" y2="433.40" stroke="#333" stroke-width="0.40"/>
<text x="153.10" y="441.30" font-size="3.3" font-weight="bold" fill="#333" text-anchor="end">0.0</text>
<line x1="153.40" y1="440.20" x2="153.90" y2="440.20" stroke="#333" stroke-width="0.40"/>
<text x="153.10" y="448.40" font-size="3.3" font-weight="bold" fill="#333" text-anchor="end">-0.1</text>
<line x1="153.40" y1="447.30" x2="153.90" y2="447.30" stroke="#333" stroke-width="0.40"/>
<text x="153.10" y="455.90" font-size="3.3" font-weight="bold" fill="#333" text-anchor="end">-0.2</text>
<line x1="153.40" y1="454.80" x2="153.90" y2="454.80" stroke="#333" stroke-width="0.40"/>
<text x="153.10" y="463.00" font-size="3.3" font-weight="bold" fill="#333" text-anchor="end">-0.3</text>
<line x1="153.40" y1="461.90" x2="153.90" y2="461.90" stroke="#333" stroke-width="0.40"/>
<text transform="translate(143.00,480.40) rotate(-90)" x="0" y="0" font-size="6.10" fill="#111" textLength="48.80" lengthAdjust="spacingAndGlyphs" stroke="#111" stroke-width="0.18">Enrichment score (ES)</text>
<text x="163.10" y="497.00" font-size="11.05" font-weight="normal" fill="#333" textLength="71.60" lengthAdjust="spacingAndGlyphs">FDR: 0.002 - <tspan font-style="italic">P</tspan>: 0.008</text>
<text x="179.70" y="508.50" font-size="11.05" font-weight="normal" fill="#333" textLength="40.00" lengthAdjust="spacingAndGlyphs">NES: -1.451</text>
<text x="312.90" y="420.30" font-size="4.3" fill="#111" text-anchor="middle" textLength="31" lengthAdjust="spacingAndGlyphs" stroke="#111" stroke-width="0.12">Enrichment plot:</text>
<text x="312.90" y="424.90" font-size="4.3" fill="#000" text-anchor="middle" textLength="70.10" lengthAdjust="spacingAndGlyphs" stroke="#000" stroke-width="0.1">HALLMARK_KRAS_SIGNALING_UP</text>
<rect x="270.40" y="468.80" width="0.90" height="12.40" fill="#1f2724"/>
<rect x="271.30" y="468.80" width="1.40" height="12.40" fill="#969e9b"/>
<rect x="272.70" y="468.80" width="0.90" height="12.40" fill="#c2cac7"/>
<rect x="273.60" y="468.80" width="1.10" height="12.40" fill="#e5edea"/>
<rect x="274.70" y="468.80" width="0.50" height="12.40" fill="#c8d0cd"/>
<rect x="275.20" y="468.80" width="1.10" height="12.40" fill="#7d8582"/>
<rect x="276.30" y="468.80" width="1.10" height="12.40" fill="#edf5f2"/>
<rect x="277.40" y="468.80" width="0.50" height="12.40" fill="#5a625f"/>
<rect x="277.90" y="468.80" width="1.40" height="12.40" fill="#acb4b1"/>
<rect x="279.30" y="468.80" width="1.40" height="12.40" fill="#39413e"/>
<rect x="280.70" y="468.80" width="1.40" height="12.40" fill="#9ca4a1"/>
<rect x="282.10" y="468.80" width="1.40" height="12.40" fill="#ced6d3"/>
<rect x="283.50" y="468.80" width="1.10" height="12.40" fill="#5a625f"/>
<rect x="284.60" y="468.80" width="0.70" height="12.40" fill="#b4bcb9"/>
<rect x="285.30" y="468.80" width="0.90" height="12.40" fill="#49514e"/>
<rect x="286.20" y="468.80" width="1.40" height="12.40" fill="#c6cecb"/>
<rect x="287.60" y="468.80" width="0.50" height="12.40" fill="#5e6663"/>
<rect x="288.10" y="468.80" width="0.90" height="12.40" fill="#2d3532"/>
<rect x="289.00" y="468.80" width="0.90" height="12.40" fill="#1e2623"/>
<rect x="289.90" y="468.80" width="1.10" height="12.40" fill="#626a67"/>
<rect x="291.00" y="468.80" width="0.50" height="12.40" fill="#545c59"/>
<rect x="291.50" y="468.80" width="1.10" height="12.40" fill="#a6aeab"/>
<rect x="292.60" y="468.80" width="1.40" height="12.40" fill="#cad2cf"/>
<rect x="294.00" y="468.80" width="1.10" height="12.40" fill="#edf5f2"/>
<rect x="295.10" y="468.80" width="1.10" height="12.40" fill="#838b88"/>
<rect x="296.20" y="468.80" width="0.70" height="12.40" fill="#474f4c"/>
<rect x="296.90" y="468.80" width="0.50" height="12.40" fill="#646c69"/>
<rect x="297.40" y="468.80" width="0.50" height="12.40" fill="#8e9693"/>
<rect x="297.90" y="468.80" width="1.10" height="12.40" fill="#edf5f2"/>
<rect x="299.00" y="468.80" width="0.90" height="12.40" fill="#747c79"/>
<rect x="299.90" y="468.80" width="1.10" height="12.40" fill="#151d1a"/>
<rect x="301.00" y="468.80" width="0.50" height="12.40" fill="#616966"/>
<rect x="301.50" y="468.80" width="1.40" height="12.40" fill="#606865"/>
<rect x="302.90" y="468.80" width="0.50" height="12.40" fill="#7d8582"/>
<rect x="303.40" y="468.80" width="1.10" height="12.40" fill="#38403d"/>
<rect x="304.50" y="468.80" width="1.10" height="12.40" fill="#2e3633"/>
<rect x="305.60" y="468.80" width="1.10" height="12.40" fill="#d3dbd8"/>
<rect x="306.70" y="468.80" width="0.70" height="12.40" fill="#636b68"/>
<rect x="307.40" y="468.80" width="0.90" height="12.40" fill="#363e3b"/>
<rect x="308.30" y="468.80" width="1.40" height="12.40" fill="#d8e0dd"/>
<rect x="309.70" y="468.80" width="0.50" height="12.40" fill="#525a57"/>
<rect x="310.20" y="468.80" width="1.40" height="12.40" fill="#3f4744"/>
<rect x="311.60" y="468.80" width="0.70" height="12.40" fill="#edf5f2"/>
<rect x="312.30" y="468.80" width="1.40" height="12.40" fill="#464e4b"/>
<rect x="313.70" y="468.80" width="1.40" height="12.40" fill="#131b18"/>
<rect x="315.10" y="468.80" width="0.90" height="12.40" fill="#eaf2ef"/>
<rect x="316.00" y="468.80" width="0.70" height="12.40" fill="#3b4340"/>
<rect x="316.70" y="468.80" width="0.50" height="12.40" fill="#b6bebb"/>
<rect x="317.20" y="468.80" width="1.10" height="12.40" fill="#141c19"/>
<rect x="318.30" y="468.80" width="0.90" height="12.40" fill="#717976"/>
<rect x="319.20" y="468.80" width="1.40" height="12.40" fill="#404845"/>
<rect x="320.60" y="468.80" width="1.40" height="12.40" fill="#98a09d"/>
<rect x="322.00" y="468.80" width="0.50" height="12.40" fill="#edf5f2"/>
<rect x="322.50" y="468.80" width="1.10" height="12.40" fill="#edf5f2"/>
<rect x="323.60" y="468.80" width="1.10" height="12.40" fill="#575f5c"/>
<rect x="324.70" y="468.80" width="0.90" height="12.40" fill="#808885"/>
<rect x="325.60" y="468.80" width="0.90" height="12.40" fill="#131b18"/>
<rect x="326.50" y="468.80" width="1.10" height="12.40" fill="#dbe3e0"/>
<rect x="327.60" y="468.80" width="1.10" height="12.40" fill="#39413e"/>
<rect x="328.70" y="468.80" width="1.40" height="12.40" fill="#9da5a2"/>
<rect x="330.10" y="468.80" width="0.70" height="12.40" fill="#1f2724"/>
<rect x="330.80" y="468.80" width="0.70" height="12.40" fill="#6c7471"/>
<rect x="331.50" y="468.80" width="1.10" height="12.40" fill="#0d1512"/>
<rect x="332.60" y="468.80" width="1.10" height="12.40" fill="#edf5f2"/>
<rect x="333.70" y="468.80" width="0.50" height="12.40" fill="#a4aca9"/>
<rect x="334.20" y="468.80" width="1.10" height="12.40" fill="#dbe3e0"/>
<rect x="335.30" y="468.80" width="0.90" height="12.40" fill="#b0b8b5"/>
<rect x="336.20" y="468.80" width="1.40" height="12.40" fill="#2a322f"/>
<rect x="337.60" y="468.80" width="1.40" height="12.40" fill="#838b88"/>
<rect x="339.00" y="468.80" width="0.90" height="12.40" fill="#0e1613"/>
<rect x="339.90" y="468.80" width="1.40" height="12.40" fill="#b7bfbc"/>
<rect x="341.30" y="468.80" width="0.70" height="12.40" fill="#0e1613"/>
<rect x="342.00" y="468.80" width="0.70" height="12.40" fill="#18201d"/>
<rect x="342.70" y="468.80" width="0.90" height="12.40" fill="#5e6663"/>
<rect x="343.60" y="468.80" width="0.50" height="12.40" fill="#575f5c"/>
<rect x="344.10" y="468.80" width="0.90" height="12.40" fill="#e0e8e5"/>
<rect x="345.00" y="468.80" width="0.70" height="12.40" fill="#262e2b"/>
<rect x="345.70" y="468.80" width="1.10" height="12.40" fill="#0d1512"/>
<rect x="346.80" y="468.80" width="0.70" height="12.40" fill="#666e6b"/>
<rect x="347.50" y="468.80" width="1.10" height="12.40" fill="#4b5350"/>
<rect x="348.60" y="468.80" width="0.70" height="12.40" fill="#3b4340"/>
<rect x="349.30" y="468.80" width="0.90" height="12.40" fill="#767e7b"/>
<rect x="350.20" y="468.80" width="0.70" height="12.40" fill="#8b9390"/>
<rect x="350.90" y="468.80" width="0.90" height="12.40" fill="#edf5f2"/>
<rect x="351.80" y="468.80" width="1.10" height="12.40" fill="#8d9592"/>
<rect x="352.90" y="468.80" width="1.40" height="12.40" fill="#b9c1be"/>
<rect x="354.30" y="468.80" width="0.90" height="12.40" fill="#d6dedb"/>
<rect x="270.00" y="481.20" width="85.80" height="3.00" fill="url(#gs)"/>
<line x1="269.40" y1="442.40" x2="356.40" y2="442.40" stroke="#333" stroke-width="1.00"/>
<polyline points="270.20,440.60 270.65,438.95 271.10,437.50 271.53,436.41 271.97,435.24 272.40,434.00 274.20,434.40 275.50,433.89 276.80,433.10 278.13,432.24 279.47,431.53 280.80,430.90 282.35,431.61 283.90,432.60 285.25,433.19 286.60,434.00 287.90,434.49 289.20,434.80 290.10,435.55 291.00,436.61 291.90,437.50 293.00,438.06 294.10,438.77 295.20,439.50 296.30,440.20 297.40,441.21 298.50,441.99 299.60,442.63 300.70,443.70 301.78,444.49 302.86,445.32 303.94,446.49 305.02,447.34 306.10,448.10 306.98,449.22 307.85,450.23 308.73,451.20 309.60,452.10 310.80,453.03 312.00,453.60 313.35,454.42 314.70,455.00 316.00,455.80 317.30,456.80 318.47,457.97 319.63,458.86 320.80,459.90 321.93,460.78 323.05,461.48 324.18,462.20 325.30,463.00 326.77,463.55 328.23,464.17 329.70,464.80 331.45,465.13 333.20,465.60 334.35,466.15 335.50,467.00 336.60,466.33 337.70,465.40 339.40,466.80 341.20,465.40 343.40,465.90 343.95,464.84 344.50,463.74 345.05,462.45 345.60,461.20 346.70,459.92 347.80,458.60 348.40,457.37 349.00,455.79 349.60,454.60 349.93,453.35 350.25,451.93 350.57,450.50 350.90,449.30 351.00,447.84 351.10,446.63 351.20,445.18 351.30,443.92 351.40,442.60" fill="none" stroke="#d81c24" stroke-width="1.1" stroke-linejoin="round"/>
<rect x="270.00" y="429.20" width="85.80" height="55.00" fill="none" stroke="#111" stroke-width="1.2"/>
<text x="268.60" y="436.20" font-size="3.3" font-weight="bold" fill="#333" text-anchor="end">0.1</text>
<line x1="268.90" y1="435.10" x2="269.40" y2="435.10" stroke="#333" stroke-width="0.40"/>
<text x="268.60" y="443.50" font-size="3.3" font-weight="bold" fill="#333" text-anchor="end">0.0</text>
<line x1="268.90" y1="442.40" x2="269.40" y2="442.40" stroke="#333" stroke-width="0.40"/>
<text x="268.60" y="451.20" font-size="3.3" font-weight="bold" fill="#333" text-anchor="end">-0.1</text>
<line x1="268.90" y1="450.10" x2="269.40" y2="450.10" stroke="#333" stroke-width="0.40"/>
<text x="268.60" y="458.80" font-size="3.3" font-weight="bold" fill="#333" text-anchor="end">-0.2</text>
<line x1="268.90" y1="457.70" x2="269.40" y2="457.70" stroke="#333" stroke-width="0.40"/>
<text x="268.60" y="466.40" font-size="3.3" font-weight="bold" fill="#333" text-anchor="end">-0.3</text>
<line x1="268.90" y1="465.30" x2="269.40" y2="465.30" stroke="#333" stroke-width="0.40"/>
<text transform="translate(257.80,480.80) rotate(-90)" x="0" y="0" font-size="6.54" fill="#111" textLength="49.20" lengthAdjust="spacingAndGlyphs" stroke="#111" stroke-width="0.18">Enrichment score (ES)</text>
<text x="283.80" y="497.00" font-size="11.05" font-weight="normal" fill="#333" textLength="59.30" lengthAdjust="spacingAndGlyphs">FDR: 0.38 -  <tspan font-style="italic">P</tspan>: n.s</text>
<text x="428.70" y="420.30" font-size="4.3" fill="#111" text-anchor="middle" textLength="31" lengthAdjust="spacingAndGlyphs" stroke="#111" stroke-width="0.12">Enrichment plot:</text>
<text x="428.70" y="424.90" font-size="4.3" fill="#000" text-anchor="middle" textLength="70.10" lengthAdjust="spacingAndGlyphs" stroke="#000" stroke-width="0.1">HALLMARK_KRAS_SIGNALING_UP</text>
<rect x="386.00" y="468.60" width="1.10" height="12.40" fill="#2b3330"/>
<rect x="387.10" y="468.60" width="0.70" height="12.40" fill="#b6bebb"/>
<rect x="387.80" y="468.60" width="0.50" height="12.40" fill="#464e4b"/>
<rect x="388.30" y="468.60" width="0.90" height="12.40" fill="#424a47"/>
<rect x="389.20" y="468.60" width="1.10" height="12.40" fill="#78807d"/>
<rect x="390.30" y="468.60" width="0.50" height="12.40" fill="#e2eae7"/>
<rect x="390.80" y="468.60" width="1.10" height="12.40" fill="#404845"/>
<rect x="391.90" y="468.60" width="0.90" height="12.40" fill="#717976"/>
<rect x="392.80" y="468.60" width="0.90" height="12.40" fill="#2b3330"/>
<rect x="393.70" y="468.60" width="0.90" height="12.40" fill="#edf5f2"/>
<rect x="394.60" y="468.60" width="0.90" height="12.40" fill="#edf5f2"/>
<rect x="395.50" y="468.60" width="0.70" height="12.40" fill="#9aa29f"/>
<rect x="396.20" y="468.60" width="0.50" height="12.40" fill="#9ba3a0"/>
<rect x="396.70" y="468.60" width="1.40" height="12.40" fill="#333b38"/>
<rect x="398.10" y="468.60" width="1.10" height="12.40" fill="#272f2c"/>
<rect x="399.20" y="468.60" width="0.90" height="12.40" fill="#1a221f"/>
<rect x="400.10" y="468.60" width="1.10" height="12.40" fill="#363e3b"/>
<rect x="401.20" y="468.60" width="0.90" height="12.40" fill="#767e7b"/>
<rect x="402.10" y="468.60" width="0.70" height="12.40" fill="#777f7c"/>
<rect x="402.80" y="468.60" width="1.40" height="12.40" fill="#3a423f"/>
<rect x="404.20" y="468.60" width="0.70" height="12.40" fill="#d2dad7"/>
<rect x="404.90" y="468.60" width="0.90" height="12.40" fill="#535b58"/>
<rect x="405.80" y="468.60" width="1.10" height="12.40" fill="#b3bbb8"/>
<rect x="406.90" y="468.60" width="0.50" height="12.40" fill="#78807d"/>
<rect x="407.40" y="468.60" width="0.90" height="12.40" fill="#38403d"/>
<rect x="408.30" y="468.60" width="1.10" height="12.40" fill="#949c99"/>
<rect x="409.40" y="468.60" width="0.90" height="12.40" fill="#e1e9e6"/>
<rect x="410.30" y="468.60" width="0.90" height="12.40" fill="#7f8784"/>
<rect x="411.20" y="468.60" width="0.50" height="12.40" fill="#e0e8e5"/>
<rect x="411.70" y="468.60" width="1.10" height="12.40" fill="#313936"/>
<rect x="412.80" y="468.60" width="1.40" height="12.40" fill="#6c7471"/>
<rect x="414.20" y="468.60" width="0.70" height="12.40" fill="#a2aaa7"/>
<rect x="414.90" y="468.60" width="0.70" height="12.40" fill="#959d9a"/>
<rect x="415.60" y="468.60" width="1.40" height="12.40" fill="#edf5f2"/>
<rect x="417.00" y="468.60" width="0.90" height="12.40" fill="#edf5f2"/>
<rect x="417.90" y="468.60" width="1.10" height="12.40" fill="#878f8c"/>
<rect x="419.00" y="468.60" width="0.90" height="12.40" fill="#a5adaa"/>
<rect x="419.90" y="468.60" width="0.90" height="12.40" fill="#99a19e"/>
<rect x="420.80" y="468.60" width="1.10" height="12.40" fill="#1d2522"/>
<rect x="421.90" y="468.60" width="0.50" height="12.40" fill="#bdc5c2"/>
<rect x="422.40" y="468.60" width="0.70" height="12.40" fill="#6b7370"/>
<rect x="423.10" y="468.60" width="0.70" height="12.40" fill="#161e1b"/>
<rect x="423.80" y="468.60" width="0.50" height="12.40" fill="#cbd3d0"/>
<rect x="424.30" y="468.60" width="0.70" height="12.40" fill="#18201d"/>
<rect x="425.00" y="468.60" width="1.10" height="12.40" fill="#dce4e1"/>
<rect x="426.10" y="468.60" width="0.90" height="12.40" fill="#cdd5d2"/>
<rect x="427.00" y="468.60" width="0.70" height="12.40" fill="#373f3c"/>
<rect x="427.70" y="468.60" width="1.40" height="12.40" fill="#333b38"/>
<rect x="429.10" y="468.60" width="0.90" height="12.40" fill="#a8b0ad"/>
<rect x="430.00" y="468.60" width="1.10" height="12.40" fill="#7a827f"/>
<rect x="431.10" y="468.60" width="0.70" height="12.40" fill="#949c99"/>
<rect x="431.80" y="468.60" width="0.70" height="12.40" fill="#b9c1be"/>
<rect x="432.50" y="468.60" width="0.90" height="12.40" fill="#a2aaa7"/>
<rect x="433.40" y="468.60" width="0.70" height="12.40" fill="#ffffff"/>
<rect x="434.10" y="468.60" width="0.70" height="12.40" fill="#ffffff"/>
<rect x="434.80" y="468.60" width="0.90" height="12.40" fill="#c8d4d2"/>
<rect x="435.70" y="468.60" width="1.40" height="12.40" fill="#ffffff"/>
<rect x="437.10" y="468.60" width="0.70" height="12.40" fill="#19211e"/>
<rect x="437.80" y="468.60" width="0.70" height="12.40" fill="#a7afac"/>
<rect x="438.50" y="468.60" width="1.40" height="12.40" fill="#2e3633"/>
<rect x="439.90" y="468.60" width="1.10" height="12.40" fill="#434b48"/>
<rect x="441.00" y="468.60" width="0.50" height="12.40" fill="#171f1c"/>
<rect x="441.50" y="468.60" width="0.70" height="12.40" fill="#3b4340"/>
<rect x="442.20" y="468.60" width="0.70" height="12.40" fill="#98a09d"/>
<rect x="442.90" y="468.60" width="1.40" height="12.40" fill="#38403d"/>
<rect x="444.30" y="468.60" width="0.90" height="12.40" fill="#9ba3a0"/>
<rect x="445.20" y="468.60" width="1.10" height="12.40" fill="#5e6663"/>
<rect x="446.30" y="468.60" width="0.70" height="12.40" fill="#89918e"/>
<rect x="447.00" y="468.60" width="0.90" height="12.40" fill="#171f1c"/>
<rect x="447.90" y="468.60" width="0.70" height="12.40" fill="#303835"/>
<rect x="448.60" y="468.60" width="1.40" height="12.40" fill="#edf5f2"/>
<rect x="450.00" y="468.60" width="0.90" height="12.40" fill="#737b78"/>
<rect x="450.90" y="468.60" width="0.90" height="12.40" fill="#121a17"/>
<rect x="451.80" y="468.60" width="1.10" height="12.40" fill="#a1a9a6"/>
<rect x="452.90" y="468.60" width="1.40" height="12.40" fill="#dde5e2"/>
<rect x="454.30" y="468.60" width="0.90" height="12.40" fill="#4e5653"/>
<rect x="455.20" y="468.60" width="0.50" height="12.40" fill="#575f5c"/>
<rect x="455.70" y="468.60" width="0.70" height="12.40" fill="#1b2320"/>
<rect x="456.40" y="468.60" width="1.40" height="12.40" fill="#a7afac"/>
<rect x="457.80" y="468.60" width="0.50" height="12.40" fill="#4b5350"/>
<rect x="458.30" y="468.60" width="0.70" height="12.40" fill="#656d6a"/>
<rect x="459.00" y="468.60" width="0.90" height="12.40" fill="#b6bebb"/>
<rect x="459.90" y="468.60" width="1.10" height="12.40" fill="#969e9b"/>
<rect x="461.00" y="468.60" width="0.90" height="12.40" fill="#262e2b"/>
<rect x="461.90" y="468.60" width="1.40" height="12.40" fill="#e3ebe8"/>
<rect x="463.30" y="468.60" width="0.70" height="12.40" fill="#edf5f2"/>
<rect x="464.00" y="468.60" width="1.40" height="12.40" fill="#343c39"/>
<rect x="465.40" y="468.60" width="1.10" height="12.40" fill="#bbc3c0"/>
<rect x="466.50" y="468.60" width="0.70" height="12.40" fill="#272f2c"/>
<rect x="467.20" y="468.60" width="0.50" height="12.40" fill="#535b58"/>
<rect x="467.70" y="468.60" width="0.90" height="12.40" fill="#4f5754"/>
<rect x="468.60" y="468.60" width="1.40" height="12.40" fill="#0e1613"/>
<rect x="470.00" y="468.60" width="1.20" height="12.40" fill="#aab2af"/>
<rect x="385.60" y="481.00" width="86.20" height="3.00" fill="url(#gs)"/>
<line x1="385.00" y1="448.40" x2="472.40" y2="448.40" stroke="#333" stroke-width="1.00"/>
<polyline points="386.10,447.20 386.18,445.64 386.26,444.48 386.34,443.06 386.42,441.78 386.50,440.20 386.80,438.91 387.10,437.70 387.40,436.60 388.10,435.14 388.80,433.50 391.00,433.10 392.10,432.51 393.20,431.80 394.50,432.20 396.30,431.30 398.05,431.22 399.80,431.30 401.00,431.14 402.20,430.79 403.40,430.60 405.10,432.20 406.30,432.38 407.50,432.18 408.70,432.40 410.00,433.09 411.30,434.00 412.40,434.94 413.50,435.49 414.60,436.23 415.70,437.10 416.60,438.20 417.50,439.10 418.40,439.88 419.30,441.00 421.10,441.90 422.40,442.37 423.70,442.80 425.05,443.97 426.40,445.00 427.27,445.70 428.13,446.73 429.00,447.50 430.20,448.25 431.40,449.30 432.28,450.19 433.16,451.05 434.04,452.06 434.92,453.33 435.80,454.10 436.93,454.96 438.05,456.10 439.18,456.78 440.30,457.70 441.18,458.62 442.06,459.61 442.94,460.41 443.82,461.06 444.70,462.10 445.87,462.80 447.03,463.49 448.20,464.10 449.40,464.21 450.60,464.40 451.80,464.80 453.10,465.60 454.40,466.10 455.60,466.11 456.80,465.98 458.00,466.10 459.17,465.35 460.33,464.52 461.50,463.90 462.40,463.12 463.30,462.10 464.20,461.20 464.77,459.87 465.33,458.99 465.90,457.70 466.37,456.07 466.83,454.68 467.30,453.30 467.43,451.61 467.57,450.40 467.70,448.80" fill="none" stroke="#d81c24" stroke-width="1.1" stroke-linejoin="round"/>
<rect x="385.60" y="429.20" width="86.20" height="54.80" fill="none" stroke="#111" stroke-width="1.2"/>
<text x="384.20" y="431.80" font-size="3.3" font-weight="bold" fill="#333" text-anchor="end">0.20</text>
<line x1="384.50" y1="430.70" x2="385.00" y2="430.70" stroke="#333" stroke-width="0.40"/>
<text x="384.20" y="436.20" font-size="3.3" font-weight="bold" fill="#333" text-anchor="end">0.15</text>
<line x1="384.50" y1="435.10" x2="385.00" y2="435.10" stroke="#333" stroke-width="0.40"/>
<text x="384.20" y="440.50" font-size="3.3" font-weight="bold" fill="#333" text-anchor="end">0.10</text>
<line x1="384.50" y1="439.40" x2="385.00" y2="439.40" stroke="#333" stroke-width="0.40"/>
<text x="384.20" y="444.80" font-size="3.3" font-weight="bold" fill="#333" text-anchor="end">0.05</text>
<line x1="384.50" y1="443.70" x2="385.00" y2="443.70" stroke="#333" stroke-width="0.40"/>
<text x="384.20" y="449.10" font-size="3.3" font-weight="bold" fill="#333" text-anchor="end">0.0</text>
<line x1="384.50" y1="448.00" x2="385.00" y2="448.00" stroke="#333" stroke-width="0.40"/>
<text x="384.20" y="453.40" font-size="3.3" font-weight="bold" fill="#333" text-anchor="end">-0.0</text>
<line x1="384.50" y1="452.30" x2="385.00" y2="452.30" stroke="#333" stroke-width="0.40"/>
<text x="384.20" y="458.20" font-size="3.3" font-weight="bold" fill="#333" text-anchor="end">-0.10</text>
<line x1="384.50" y1="457.10" x2="385.00" y2="457.10" stroke="#333" stroke-width="0.40"/>
<text x="384.20" y="462.50" font-size="3.3" font-weight="bold" fill="#333" text-anchor="end">-0.15</text>
<line x1="384.50" y1="461.40" x2="385.00" y2="461.40" stroke="#333" stroke-width="0.40"/>
<text x="384.20" y="466.80" font-size="3.3" font-weight="bold" fill="#333" text-anchor="end">-0.20</text>
<line x1="384.50" y1="465.70" x2="385.00" y2="465.70" stroke="#333" stroke-width="0.40"/>
<text x="400.80" y="497.00" font-size="11.05" font-weight="normal" fill="#333" textLength="57.70" lengthAdjust="spacingAndGlyphs">FDR: 0.70 - <tspan font-style="italic">P</tspan>: n.s</text>
<text x="86.70" y="522.50" font-size="4.3" fill="#111" text-anchor="middle" textLength="31" lengthAdjust="spacingAndGlyphs" stroke="#111" stroke-width="0.12">Enrichment plot:</text>
<text x="86.70" y="527.40" font-size="4.3" fill="#000" text-anchor="middle" textLength="64.00" lengthAdjust="spacingAndGlyphs" stroke="#000" stroke-width="0.1">CHIARADONNA-_NEOPLASTIC_</text>
<text x="86.70" y="532.00" font-size="4.3" fill="#000" text-anchor="middle" textLength="61.50" lengthAdjust="spacingAndGlyphs" stroke="#000" stroke-width="0.1">TRANSFORMATION_KRAS_UP</text>
<rect x="44.90" y="576.40" width="1.10" height="12.40" fill="#3a423f"/>
<rect x="46.00" y="576.40" width="0.50" height="12.40" fill="#b2bab7"/>
<rect x="46.50" y="576.40" width="1.10" height="12.40" fill="#dee6e3"/>
<rect x="47.60" y="576.40" width="0.90" height="12.40" fill="#e0e8e5"/>
<rect x="48.50" y="576.40" width="0.50" height="12.40" fill="#5f6764"/>
<rect x="49.00" y="576.40" width="0.70" height="12.40" fill="#6f7774"/>
<rect x="49.70" y="576.40" width="1.40" height="12.40" fill="#9aa29f"/>
<rect x="51.10" y="576.40" width="1.40" height="12.40" fill="#ffffff"/>
<rect x="52.50" y="576.40" width="1.10" height="12.40" fill="#ffffff"/>
<rect x="53.60" y="576.40" width="0.50" height="12.40" fill="#ffffff"/>
<rect x="54.10" y="576.40" width="0.90" height="12.40" fill="#ffffff"/>
<rect x="55.00" y="576.40" width="0.70" height="12.40" fill="#505855"/>
<rect x="55.70" y="576.40" width="0.50" height="12.40" fill="#dae2df"/>
<rect x="56.20" y="576.40" width="1.40" height="12.40" fill="#59615e"/>
<rect x="57.60" y="576.40" width="0.50" height="12.40" fill="#edf5f2"/>
<rect x="58.10" y="576.40" width="1.40" height="12.40" fill="#b6bebb"/>
<rect x="59.50" y="576.40" width="1.40" height="12.40" fill="#838b88"/>
<rect x="60.90" y="576.40" width="1.40" height="12.40" fill="#767e7b"/>
<rect x="62.30" y="576.40" width="0.50" height="12.40" fill="#323a37"/>
<rect x="62.80" y="576.40" width="0.70" height="12.40" fill="#dfe7e4"/>
<rect x="63.50" y="576.40" width="1.10" height="12.40" fill="#5b6360"/>
<rect x="64.60" y="576.40" width="1.10" height="12.40" fill="#19211e"/>
<rect x="65.70" y="576.40" width="1.40" height="12.40" fill="#edf5f2"/>
<rect x="67.10" y="576.40" width="0.70" height="12.40" fill="#ccd4d1"/>
<rect x="67.80" y="576.40" width="0.70" height="12.40" fill="#242c29"/>
<rect x="68.50" y="576.40" width="0.70" height="12.40" fill="#1b2320"/>
<rect x="69.20" y="576.40" width="0.90" height="12.40" fill="#b8c0bd"/>
<rect x="70.10" y="576.40" width="1.40" height="12.40" fill="#38403d"/>
<rect x="71.50" y="576.40" width="0.90" height="12.40" fill="#a3aba8"/>
<rect x="72.40" y="576.40" width="1.10" height="12.40" fill="#c6cecb"/>
<rect x="73.50" y="576.40" width="1.10" height="12.40" fill="#d8e0dd"/>
<rect x="74.60" y="576.40" width="0.50" height="12.40" fill="#4b5350"/>
<rect x="75.10" y="576.40" width="0.90" height="12.40" fill="#646c69"/>
<rect x="76.00" y="576.40" width="1.40" height="12.40" fill="#626a67"/>
<rect x="77.40" y="576.40" width="1.40" height="12.40" fill="#e8f0ed"/>
<rect x="78.80" y="576.40" width="0.90" height="12.40" fill="#737b78"/>
<rect x="79.70" y="576.40" width="0.90" height="12.40" fill="#edf5f2"/>
<rect x="80.60" y="576.40" width="1.40" height="12.40" fill="#333b38"/>
<rect x="82.00" y="576.40" width="0.50" height="12.40" fill="#aab2af"/>
<rect x="82.50" y="576.40" width="1.40" height="12.40" fill="#9fa7a4"/>
<rect x="83.90" y="576.40" width="1.40" height="12.40" fill="#4b5350"/>
<rect x="85.30" y="576.40" width="0.90" height="12.40" fill="#ccd4d1"/>
<rect x="86.20" y="576.40" width="1.40" height="12.40" fill="#d4dcd9"/>
<rect x="87.60" y="576.40" width="1.40" height="12.40" fill="#4a524f"/>
<rect x="89.00" y="576.40" width="0.70" height="12.40" fill="#d9e1de"/>
<rect x="89.70" y="576.40" width="0.50" height="12.40" fill="#9da5a2"/>
<rect x="90.20" y="576.40" width="0.70" height="12.40" fill="#acb4b1"/>
<rect x="90.90" y="576.40" width="0.50" height="12.40" fill="#a5adaa"/>
<rect x="91.40" y="576.40" width="0.90" height="12.40" fill="#373f3c"/>
<rect x="92.30" y="576.40" width="0.90" height="12.40" fill="#a9b1ae"/>
<rect x="93.20" y="576.40" width="0.90" height="12.40" fill="#edf5f2"/>
<rect x="94.10" y="576.40" width="0.90" height="12.40" fill="#ecf4f1"/>
<rect x="95.00" y="576.40" width="1.40" height="12.40" fill="#0f1714"/>
<rect x="96.40" y="576.40" width="1.10" height="12.40" fill="#171f1c"/>
<rect x="97.50" y="576.40" width="1.10" height="12.40" fill="#969e9b"/>
<rect x="98.60" y="576.40" width="0.90" height="12.40" fill="#828a87"/>
<rect x="99.50" y="576.40" width="0.70" height="12.40" fill="#edf5f2"/>
<rect x="100.20" y="576.40" width="0.50" height="12.40" fill="#565e5b"/>
<rect x="100.70" y="576.40" width="1.40" height="12.40" fill="#edf5f2"/>
<rect x="102.10" y="576.40" width="0.70" height="12.40" fill="#525a57"/>
<rect x="102.80" y="576.40" width="0.90" height="12.40" fill="#a5adaa"/>
<rect x="103.70" y="576.40" width="0.50" height="12.40" fill="#d8e0dd"/>
<rect x="104.20" y="576.40" width="0.50" height="12.40" fill="#cfd7d4"/>
<rect x="104.70" y="576.40" width="1.40" height="12.40" fill="#e3ebe8"/>
<rect x="106.10" y="576.40" width="1.10" height="12.40" fill="#dde5e2"/>
<rect x="107.20" y="576.40" width="0.50" height="12.40" fill="#353d3a"/>
<rect x="107.70" y="576.40" width="0.50" height="12.40" fill="#7b8380"/>
<rect x="108.20" y="576.40" width="1.10" height="12.40" fill="#3a423f"/>
<rect x="109.30" y="576.40" width="0.70" height="12.40" fill="#909895"/>
<rect x="110.00" y="576.40" width="0.50" height="12.40" fill="#dce4e1"/>
<rect x="110.50" y="576.40" width="1.40" height="12.40" fill="#6e7673"/>
<rect x="111.90" y="576.40" width="0.70" height="12.40" fill="#d8e0dd"/>
<rect x="112.60" y="576.40" width="1.10" height="12.40" fill="#dbe3e0"/>
<rect x="113.70" y="576.40" width="0.70" height="12.40" fill="#919996"/>
<rect x="114.40" y="576.40" width="0.70" height="12.40" fill="#767e7b"/>
<rect x="115.10" y="576.40" width="1.10" height="12.40" fill="#4d5552"/>
<rect x="116.20" y="576.40" width="1.10" height="12.40" fill="#8e9693"/>
<rect x="117.30" y="576.40" width="0.90" height="12.40" fill="#1f2724"/>
<rect x="118.20" y="576.40" width="1.10" height="12.40" fill="#404845"/>
<rect x="119.30" y="576.40" width="0.70" height="12.40" fill="#444c49"/>
<rect x="120.00" y="576.40" width="1.10" height="12.40" fill="#5f6764"/>
<rect x="121.10" y="576.40" width="1.10" height="12.40" fill="#969e9b"/>
<rect x="122.20" y="576.40" width="0.70" height="12.40" fill="#99a19e"/>
<rect x="122.90" y="576.40" width="0.50" height="12.40" fill="#747c79"/>
<rect x="123.40" y="576.40" width="0.50" height="12.40" fill="#6d7572"/>
<rect x="123.90" y="576.40" width="1.40" height="12.40" fill="#c7cfcc"/>
<rect x="125.30" y="576.40" width="0.50" height="12.40" fill="#171f1c"/>
<rect x="125.80" y="576.40" width="1.10" height="12.40" fill="#adb5b2"/>
<rect x="126.90" y="576.40" width="0.50" height="12.40" fill="#dbe3e0"/>
<rect x="127.40" y="576.40" width="0.90" height="12.40" fill="#afb7b4"/>
<rect x="44.50" y="588.80" width="84.40" height="3.00" fill="url(#gs)"/>
<line x1="43.90" y1="542.60" x2="129.50" y2="542.60" stroke="#555" stroke-width="1.40"/>
<polyline points="45.20,541.90 47.30,540.90 48.47,540.62 49.63,539.77 50.80,539.50 51.93,540.13 53.07,540.43 54.20,541.10 55.50,542.34 56.80,543.20 57.97,543.31 59.13,543.95 60.30,544.10 61.47,544.84 62.63,545.58 63.80,546.10 65.10,546.35 66.40,546.20 67.70,546.75 69.00,547.50 70.08,548.21 71.15,549.13 72.22,549.74 73.30,550.60 74.38,551.16 75.45,551.79 76.52,552.69 77.60,553.20 78.67,554.10 79.75,554.82 80.83,555.34 81.90,556.20 83.07,556.94 84.23,557.34 85.40,557.90 86.47,558.53 87.53,559.35 88.60,560.10 89.77,561.07 90.93,561.93 92.10,563.10 93.17,563.78 94.25,564.34 95.33,565.08 96.40,565.70 97.58,566.52 98.75,567.06 99.92,567.61 101.10,568.30 102.65,568.65 104.20,568.70 105.33,569.50 106.47,569.90 107.60,570.50 108.77,571.24 109.93,571.44 111.10,572.20 112.60,572.26 114.10,572.60 115.20,573.12 116.30,573.90 118.00,574.08 119.70,573.90 120.57,573.11 121.43,572.25 122.30,571.30 122.90,569.78 123.50,568.43 124.10,567.00 124.17,565.85 124.23,564.24 124.30,562.95 124.37,561.62 124.43,560.49 124.50,559.20 124.50,557.96 124.50,556.46 124.50,555.02 124.50,553.68 124.50,552.30 124.60,550.87 124.70,549.88 124.80,548.34 124.90,547.10 124.97,545.69 125.03,544.42 125.10,543.20" fill="none" stroke="#d81c24" stroke-width="1.1" stroke-linejoin="round"/>
<rect x="44.50" y="537.40" width="84.40" height="54.40" fill="none" stroke="#111" stroke-width="1.2"/>
<text x="43.10" y="539.60" font-size="3.3" font-weight="bold" fill="#333" text-anchor="end">0.1</text>
<line x1="43.40" y1="538.50" x2="43.90" y2="538.50" stroke="#333" stroke-width="0.40"/>
<text x="43.10" y="543.40" font-size="3.3" font-weight="bold" fill="#333" text-anchor="end">0.0</text>
<line x1="43.40" y1="542.30" x2="43.90" y2="542.30" stroke="#333" stroke-width="0.40"/>
<text x="43.10" y="547.30" font-size="3.3" font-weight="bold" fill="#333" text-anchor="end">-0.1</text>
<line x1="43.40" y1="546.20" x2="43.90" y2="546.20" stroke="#333" stroke-width="0.40"/>
<text x="43.10" y="551.10" font-size="3.3" font-weight="bold" fill="#333" text-anchor="end">-0.2</text>
<line x1="43.40" y1="550.00" x2="43.90" y2="550.00" stroke="#333" stroke-width="0.40"/>
<text x="43.10" y="554.90" font-size="3.3" font-weight="bold" fill="#333" text-anchor="end">-0.3</text>
<line x1="43.40" y1="553.80" x2="43.90" y2="553.80" stroke="#333" stroke-width="0.40"/>
<text x="43.10" y="559.10" font-size="3.3" font-weight="bold" fill="#333" text-anchor="end">-0.4</text>
<line x1="43.40" y1="558.00" x2="43.90" y2="558.00" stroke="#333" stroke-width="0.40"/>
<text x="43.10" y="563.10" font-size="3.3" font-weight="bold" fill="#333" text-anchor="end">-0.5</text>
<line x1="43.40" y1="562.00" x2="43.90" y2="562.00" stroke="#333" stroke-width="0.40"/>
<text x="43.10" y="567.10" font-size="3.3" font-weight="bold" fill="#333" text-anchor="end">-0.6</text>
<line x1="43.40" y1="566.00" x2="43.90" y2="566.00" stroke="#333" stroke-width="0.40"/>
<text transform="translate(31.80,588.40) rotate(-90)" x="0" y="0" font-size="6.25" fill="#111" textLength="48.60" lengthAdjust="spacingAndGlyphs" stroke="#111" stroke-width="0.18">Enrichment score (ES)</text>
<text x="43.10" y="607.00" font-size="11.19" font-weight="normal" fill="#333" textLength="85.70" lengthAdjust="spacingAndGlyphs">FDR: &lt;0.001 – <tspan font-style="italic">P</tspan>: &lt;0.001</text>
<text x="66.80" y="617.50" font-size="11.05" font-weight="normal" fill="#333" textLength="40.50" lengthAdjust="spacingAndGlyphs">NES: -1.995</text>
<text x="202.80" y="522.50" font-size="4.3" fill="#111" text-anchor="middle" textLength="31" lengthAdjust="spacingAndGlyphs" stroke="#111" stroke-width="0.12">Enrichment plot:</text>
<text x="202.80" y="527.40" font-size="4.3" fill="#000" text-anchor="middle" textLength="64.00" lengthAdjust="spacingAndGlyphs" stroke="#000" stroke-width="0.1">CHIARADONNA-_NEOPLASTIC_</text>
<text x="202.80" y="532.00" font-size="4.3" fill="#000" text-anchor="middle" textLength="61.50" lengthAdjust="spacingAndGlyphs" stroke="#000" stroke-width="0.1">TRANSFORMATION_KRAS_UP</text>
<rect x="161.20" y="576.30" width="0.70" height="12.40" fill="#6b7370"/>
<rect x="161.90" y="576.30" width="1.40" height="12.40" fill="#e8f0ed"/>
<rect x="163.30" y="576.30" width="1.10" height="12.40" fill="#e9f1ee"/>
<rect x="164.40" y="576.30" width="1.40" height="12.40" fill="#d7dfdc"/>
<rect x="165.80" y="576.30" width="0.70" height="12.40" fill="#0f1714"/>
<rect x="166.50" y="576.30" width="0.70" height="12.40" fill="#49514e"/>
<rect x="167.20" y="576.30" width="0.50" height="12.40" fill="#69716e"/>
<rect x="167.70" y="576.30" width="0.70" height="12.40" fill="#dee6e3"/>
<rect x="168.40" y="576.30" width="1.10" height="12.40" fill="#b2bab7"/>
<rect x="169.50" y="576.30" width="0.50" height="12.40" fill="#eaf2ef"/>
<rect x="170.00" y="576.30" width="1.40" height="12.40" fill="#8a928f"/>
<rect x="171.40" y="576.30" width="0.50" height="12.40" fill="#9ca4a1"/>
<rect x="171.90" y="576.30" width="0.90" height="12.40" fill="#414946"/>
<rect x="172.80" y="576.30" width="1.10" height="12.40" fill="#a3aba8"/>
<rect x="173.90" y="576.30" width="0.50" height="12.40" fill="#2f3734"/>
<rect x="174.40" y="576.30" width="1.40" height="12.40" fill="#aeb6b3"/>
<rect x="175.80" y="576.30" width="1.40" height="12.40" fill="#dae2df"/>
<rect x="177.20" y="576.30" width="0.70" height="12.40" fill="#88908d"/>
<rect x="177.90" y="576.30" width="0.50" height="12.40" fill="#e9f1ee"/>
<rect x="178.40" y="576.30" width="1.40" height="12.40" fill="#4b5350"/>
<rect x="179.80" y="576.30" width="0.50" height="12.40" fill="#363e3b"/>
<rect x="180.30" y="576.30" width="1.10" height="12.40" fill="#4a524f"/>
<rect x="181.40" y="576.30" width="1.10" height="12.40" fill="#edf5f2"/>
<rect x="182.50" y="576.30" width="0.50" height="12.40" fill="#676f6c"/>
<rect x="183.00" y="576.30" width="0.70" height="12.40" fill="#666e6b"/>
<rect x="183.70" y="576.30" width="1.40" height="12.40" fill="#4c5451"/>
<rect x="185.10" y="576.30" width="1.10" height="12.40" fill="#b5bdba"/>
<rect x="186.20" y="576.30" width="1.10" height="12.40" fill="#3f4744"/>
<rect x="187.30" y="576.30" width="0.70" height="12.40" fill="#5a625f"/>
<rect x="188.00" y="576.30" width="1.40" height="12.40" fill="#151d1a"/>
<rect x="189.40" y="576.30" width="0.50" height="12.40" fill="#58605d"/>
<rect x="189.90" y="576.30" width="0.50" height="12.40" fill="#424a47"/>
<rect x="190.40" y="576.30" width="0.50" height="12.40" fill="#959d9a"/>
<rect x="190.90" y="576.30" width="0.50" height="12.40" fill="#959d9a"/>
<rect x="191.40" y="576.30" width="0.50" height="12.40" fill="#edf5f2"/>
<rect x="191.90" y="576.30" width="0.50" height="12.40" fill="#272f2c"/>
<rect x="192.40" y="576.30" width="1.40" height="12.40" fill="#e0e8e5"/>
<rect x="193.80" y="576.30" width="1.10" height="12.40" fill="#2b3330"/>
<rect x="194.90" y="576.30" width="1.40" height="12.40" fill="#edf5f2"/>
<rect x="196.30" y="576.30" width="0.50" height="12.40" fill="#111916"/>
<rect x="196.80" y="576.30" width="0.90" height="12.40" fill="#a2aaa7"/>
<rect x="197.70" y="576.30" width="1.40" height="12.40" fill="#0e1613"/>
<rect x="199.10" y="576.30" width="0.90" height="12.40" fill="#414946"/>
<rect x="200.00" y="576.30" width="0.50" height="12.40" fill="#3b4340"/>
<rect x="200.50" y="576.30" width="0.50" height="12.40" fill="#e0e8e5"/>
<rect x="201.00" y="576.30" width="0.90" height="12.40" fill="#d0d8d5"/>
<rect x="201.90" y="576.30" width="1.10" height="12.40" fill="#6e7673"/>
<rect x="203.00" y="576.30" width="0.70" height="12.40" fill="#e8f0ed"/>
<rect x="203.70" y="576.30" width="0.50" height="12.40" fill="#c5cdca"/>
<rect x="204.20" y="576.30" width="0.50" height="12.40" fill="#bac2bf"/>
<rect x="204.70" y="576.30" width="0.50" height="12.40" fill="#121a17"/>
<rect x="205.20" y="576.30" width="1.40" height="12.40" fill="#b4bcb9"/>
<rect x="206.60" y="576.30" width="1.40" height="12.40" fill="#edf5f2"/>
<rect x="208.00" y="576.30" width="1.10" height="12.40" fill="#616966"/>
<rect x="209.10" y="576.30" width="0.70" height="12.40" fill="#89918e"/>
<rect x="209.80" y="576.30" width="1.40" height="12.40" fill="#e3ebe8"/>
<rect x="211.20" y="576.30" width="0.70" height="12.40" fill="#464e4b"/>
<rect x="211.90" y="576.30" width="1.40" height="12.40" fill="#3d4542"/>
<rect x="213.30" y="576.30" width="0.90" height="12.40" fill="#363e3b"/>
<rect x="214.20" y="576.30" width="0.90" height="12.40" fill="#111916"/>
<rect x="215.10" y="576.30" width="1.10" height="12.40" fill="#313936"/>
<rect x="216.20" y="576.30" width="1.10" height="12.40" fill="#edf5f2"/>
<rect x="217.30" y="576.30" width="0.50" height="12.40" fill="#0c1411"/>
<rect x="217.80" y="576.30" width="0.70" height="12.40" fill="#545c59"/>
<rect x="218.50" y="576.30" width="0.70" height="12.40" fill="#5a625f"/>
<rect x="219.20" y="576.30" width="1.10" height="12.40" fill="#edf5f2"/>
<rect x="220.30" y="576.30" width="0.90" height="12.40" fill="#3b4340"/>
<rect x="221.20" y="576.30" width="0.50" height="12.40" fill="#2d3532"/>
<rect x="221.70" y="576.30" width="1.40" height="12.40" fill="#edf5f2"/>
<rect x="223.10" y="576.30" width="0.50" height="12.40" fill="#3f4744"/>
<rect x="223.60" y="576.30" width="1.40" height="12.40" fill="#3b4340"/>
<rect x="225.00" y="576.30" width="0.50" height="12.40" fill="#c5cdca"/>
<rect x="225.50" y="576.30" width="0.50" height="12.40" fill="#3a423f"/>
<rect x="226.00" y="576.30" width="0.50" height="12.40" fill="#757d7a"/>
<rect x="226.50" y="576.30" width="0.70" height="12.40" fill="#38403d"/>
<rect x="227.20" y="576.30" width="1.40" height="12.40" fill="#a6aeab"/>
<rect x="228.60" y="576.30" width="1.10" height="12.40" fill="#525a57"/>
<rect x="229.70" y="576.30" width="1.10" height="12.40" fill="#b0b8b5"/>
<rect x="230.80" y="576.30" width="0.50" height="12.40" fill="#9da5a2"/>
<rect x="231.30" y="576.30" width="1.40" height="12.40" fill="#929a97"/>
<rect x="232.70" y="576.30" width="1.10" height="12.40" fill="#111916"/>
<rect x="233.80" y="576.30" width="1.40" height="12.40" fill="#78807d"/>
<rect x="235.20" y="576.30" width="0.90" height="12.40" fill="#afb7b4"/>
<rect x="236.10" y="576.30" width="1.10" height="12.40" fill="#757d7a"/>
<rect x="237.20" y="576.30" width="0.90" height="12.40" fill="#d4dcd9"/>
<rect x="238.10" y="576.30" width="0.70" height="12.40" fill="#39413e"/>
<rect x="238.80" y="576.30" width="0.70" height="12.40" fill="#626a67"/>
<rect x="239.50" y="576.30" width="0.70" height="12.40" fill="#353d3a"/>
<rect x="240.20" y="576.30" width="1.10" height="12.40" fill="#212926"/>
<rect x="241.30" y="576.30" width="0.70" height="12.40" fill="#a3aba8"/>
<rect x="242.00" y="576.30" width="1.40" height="12.40" fill="#373f3c"/>
<rect x="243.40" y="576.30" width="0.80" height="12.40" fill="#9ea6a3"/>
<rect x="160.80" y="588.70" width="84.00" height="3.00" fill="url(#gs)"/>
<line x1="160.20" y1="538.70" x2="245.40" y2="538.70" stroke="#8a8a8a" stroke-width="2.40"/>
<polyline points="161.20,539.20 162.25,540.24 163.30,541.40 164.60,541.39 165.90,541.40 167.70,540.20 168.55,541.42 169.40,542.70 171.50,543.10 172.37,543.95 173.23,544.80 174.10,545.70 176.30,546.10 177.47,547.16 178.63,548.00 179.80,549.10 180.93,550.19 182.07,550.97 183.20,552.20 184.24,553.06 185.28,554.01 186.32,554.88 187.36,556.06 188.40,556.90 189.28,557.70 190.15,558.77 191.03,559.71 191.90,560.40 192.75,561.38 193.60,562.71 194.45,563.75 195.30,564.70 196.47,565.63 197.63,566.24 198.80,567.30 199.97,568.02 201.13,568.82 202.30,569.50 203.37,570.12 204.43,570.79 205.50,571.60 206.63,572.12 207.77,572.70 208.90,573.40 210.20,573.22 211.50,572.80 212.67,573.07 213.83,573.44 215.00,573.80 216.70,573.36 218.40,572.80 220.60,573.10 221.35,572.25 222.10,570.97 222.85,569.84 223.60,569.00 224.63,570.06 225.67,570.87 226.70,571.60 227.70,570.72 228.70,569.61 229.70,568.60 230.75,567.19 231.80,566.00 233.10,566.90 233.46,565.54 233.82,564.38 234.18,563.22 234.54,561.85 234.90,560.80 236.60,559.50 238.30,560.40 239.20,559.10 239.65,560.68 240.10,562.10 239.83,560.82 239.57,559.17 239.30,558.00 239.41,556.94 239.53,555.60 239.64,554.57 239.76,553.19 239.87,552.12 239.99,550.78 240.10,549.60 240.37,548.18 240.63,546.67 240.90,545.20 241.45,543.76 242.00,542.70 242.25,540.81 242.50,539.20" fill="none" stroke="#d81c24" stroke-width="1.1" stroke-linejoin="round"/>
<rect x="160.80" y="536.80" width="84.00" height="54.90" fill="none" stroke="#111" stroke-width="1.2"/>
<text x="159.40" y="539.10" font-size="3.3" font-weight="bold" fill="#333" text-anchor="end">0.00</text>
<line x1="159.70" y1="538.00" x2="160.20" y2="538.00" stroke="#333" stroke-width="0.40"/>
<text x="159.40" y="542.10" font-size="3.3" font-weight="bold" fill="#333" text-anchor="end">-0.05</text>
<line x1="159.70" y1="541.00" x2="160.20" y2="541.00" stroke="#333" stroke-width="0.40"/>
<text x="159.40" y="545.60" font-size="3.3" font-weight="bold" fill="#333" text-anchor="end">-0.10</text>
<line x1="159.70" y1="544.50" x2="160.20" y2="544.50" stroke="#333" stroke-width="0.40"/>
<text x="159.40" y="549.10" font-size="3.3" font-weight="bold" fill="#333" text-anchor="end">-0.15</text>
<line x1="159.70" y1="548.00" x2="160.20" y2="548.00" stroke="#333" stroke-width="0.40"/>
<text x="159.40" y="552.60" font-size="3.3" font-weight="bold" fill="#333" text-anchor="end">-0.20</text>
<line x1="159.70" y1="551.50" x2="160.20" y2="551.50" stroke="#333" stroke-width="0.40"/>
<text x="159.40" y="556.10" font-size="3.3" font-weight="bold" fill="#333" text-anchor="end">-0.25</text>
<line x1="159.70" y1="555.00" x2="160.20" y2="555.00" stroke="#333" stroke-width="0.40"/>
<text x="159.40" y="559.60" font-size="3.3" font-weight="bold" fill="#333" text-anchor="end">-0.30</text>
<line x1="159.70" y1="558.50" x2="160.20" y2="558.50" stroke="#333" stroke-width="0.40"/>
<text x="159.40" y="563.10" font-size="3.3" font-weight="bold" fill="#333" text-anchor="end">-0.35</text>
<line x1="159.70" y1="562.00" x2="160.20" y2="562.00" stroke="#333" stroke-width="0.40"/>
<text x="159.40" y="566.60" font-size="3.3" font-weight="bold" fill="#333" text-anchor="end">-0.40</text>
<line x1="159.70" y1="565.50" x2="160.20" y2="565.50" stroke="#333" stroke-width="0.40"/>
<text transform="translate(146.50,588.30) rotate(-90)" x="0" y="0" font-size="6.25" fill="#111" textLength="49.10" lengthAdjust="spacingAndGlyphs" stroke="#111" stroke-width="0.18">Enrichment score (ES)</text>
<text x="169.10" y="607.00" font-size="11.19" font-weight="normal" fill="#333" textLength="68.20" lengthAdjust="spacingAndGlyphs">FDR: 0.05 - <tspan font-style="italic">P</tspan>: 0.008</text>
<text x="186.00" y="617.50" font-size="11.05" font-weight="normal" fill="#333" textLength="35.60" lengthAdjust="spacingAndGlyphs">NES: -1.51</text>
<text x="316.80" y="522.50" font-size="4.3" fill="#111" text-anchor="middle" textLength="31" lengthAdjust="spacingAndGlyphs" stroke="#111" stroke-width="0.12">Enrichment plot:</text>
<text x="316.80" y="527.40" font-size="4.3" fill="#000" text-anchor="middle" textLength="64.00" lengthAdjust="spacingAndGlyphs" stroke="#000" stroke-width="0.1">CHIARADONNA-_NEOPLASTIC_</text>
<text x="316.80" y="532.00" font-size="4.3" fill="#000" text-anchor="middle" textLength="61.50" lengthAdjust="spacingAndGlyphs" stroke="#000" stroke-width="0.1">TRANSFORMATION_KRAS_UP</text>
<rect x="274.40" y="576.30" width="1.10" height="12.40" fill="#414946"/>
<rect x="275.50" y="576.30" width="0.70" height="12.40" fill="#ced6d3"/>
<rect x="276.20" y="576.30" width="1.40" height="12.40" fill="#8b9390"/>
<rect x="277.60" y="576.30" width="1.10" height="12.40" fill="#afb7b4"/>
<rect x="278.70" y="576.30" width="1.10" height="12.40" fill="#c8d4d2"/>
<rect x="279.80" y="576.30" width="1.40" height="12.40" fill="#ffffff"/>
<rect x="281.20" y="576.30" width="1.40" height="12.40" fill="#c8d4d2"/>
<rect x="282.60" y="576.30" width="1.10" height="12.40" fill="#ffffff"/>
<rect x="283.70" y="576.30" width="1.10" height="12.40" fill="#c8d4d2"/>
<rect x="284.80" y="576.30" width="0.50" height="12.40" fill="#c8d4d2"/>
<rect x="285.30" y="576.30" width="1.10" height="12.40" fill="#ffffff"/>
<rect x="286.40" y="576.30" width="1.40" height="12.40" fill="#171f1c"/>
<rect x="287.80" y="576.30" width="0.70" height="12.40" fill="#434b48"/>
<rect x="288.50" y="576.30" width="0.50" height="12.40" fill="#101815"/>
<rect x="289.00" y="576.30" width="0.50" height="12.40" fill="#353d3a"/>
<rect x="289.50" y="576.30" width="0.70" height="12.40" fill="#757d7a"/>
<rect x="290.20" y="576.30" width="1.40" height="12.40" fill="#0c1411"/>
<rect x="291.60" y="576.30" width="0.50" height="12.40" fill="#777f7c"/>
<rect x="292.10" y="576.30" width="1.40" height="12.40" fill="#edf5f2"/>
<rect x="293.50" y="576.30" width="1.10" height="12.40" fill="#232b28"/>
<rect x="294.60" y="576.30" width="0.50" height="12.40" fill="#8a928f"/>
<rect x="295.10" y="576.30" width="0.70" height="12.40" fill="#707875"/>
<rect x="295.80" y="576.30" width="0.50" height="12.40" fill="#69716e"/>
<rect x="296.30" y="576.30" width="1.10" height="12.40" fill="#616966"/>
<rect x="297.40" y="576.30" width="0.50" height="12.40" fill="#838b88"/>
<rect x="297.90" y="576.30" width="0.90" height="12.40" fill="#a3aba8"/>
<rect x="298.80" y="576.30" width="0.50" height="12.40" fill="#98a09d"/>
<rect x="299.30" y="576.30" width="1.40" height="12.40" fill="#edf5f2"/>
<rect x="300.70" y="576.30" width="0.90" height="12.40" fill="#acb4b1"/>
<rect x="301.60" y="576.30" width="1.40" height="12.40" fill="#646c69"/>
<rect x="303.00" y="576.30" width="0.50" height="12.40" fill="#edf5f2"/>
<rect x="303.50" y="576.30" width="0.70" height="12.40" fill="#99a19e"/>
<rect x="304.20" y="576.30" width="0.50" height="12.40" fill="#dfe7e4"/>
<rect x="304.70" y="576.30" width="1.10" height="12.40" fill="#3d4542"/>
<rect x="305.80" y="576.30" width="0.90" height="12.40" fill="#3c4441"/>
<rect x="306.70" y="576.30" width="0.70" height="12.40" fill="#868e8b"/>
<rect x="307.40" y="576.30" width="0.90" height="12.40" fill="#2b3330"/>
<rect x="308.30" y="576.30" width="0.50" height="12.40" fill="#8e9693"/>
<rect x="308.80" y="576.30" width="0.70" height="12.40" fill="#edf5f2"/>
<rect x="309.50" y="576.30" width="0.70" height="12.40" fill="#c0c8c5"/>
<rect x="310.20" y="576.30" width="1.10" height="12.40" fill="#c9d1ce"/>
<rect x="311.30" y="576.30" width="0.90" height="12.40" fill="#dfe7e4"/>
<rect x="312.20" y="576.30" width="0.90" height="12.40" fill="#656d6a"/>
<rect x="313.10" y="576.30" width="1.10" height="12.40" fill="#303835"/>
<rect x="314.20" y="576.30" width="1.40" height="12.40" fill="#2e3633"/>
<rect x="315.60" y="576.30" width="0.90" height="12.40" fill="#0c1411"/>
<rect x="316.50" y="576.30" width="0.70" height="12.40" fill="#c3cbc8"/>
<rect x="317.20" y="576.30" width="1.40" height="12.40" fill="#444c49"/>
<rect x="318.60" y="576.30" width="0.90" height="12.40" fill="#979f9c"/>
<rect x="319.50" y="576.30" width="1.10" height="12.40" fill="#202825"/>
<rect x="320.60" y="576.30" width="0.70" height="12.40" fill="#b8c0bd"/>
<rect x="321.30" y="576.30" width="0.50" height="12.40" fill="#b3bbb8"/>
<rect x="321.80" y="576.30" width="0.50" height="12.40" fill="#5c6461"/>
<rect x="322.30" y="576.30" width="1.10" height="12.40" fill="#58605d"/>
<rect x="323.40" y="576.30" width="1.40" height="12.40" fill="#afb7b4"/>
<rect x="324.80" y="576.30" width="1.40" height="12.40" fill="#0e1613"/>
<rect x="326.20" y="576.30" width="0.90" height="12.40" fill="#515956"/>
<rect x="327.10" y="576.30" width="0.70" height="12.40" fill="#b9c1be"/>
<rect x="327.80" y="576.30" width="1.40" height="12.40" fill="#b0b8b5"/>
<rect x="329.20" y="576.30" width="1.10" height="12.40" fill="#edf5f2"/>
<rect x="330.30" y="576.30" width="1.40" height="12.40" fill="#d2dad7"/>
<rect x="331.70" y="576.30" width="0.50" height="12.40" fill="#454d4a"/>
<rect x="332.20" y="576.30" width="0.50" height="12.40" fill="#2b3330"/>
<rect x="332.70" y="576.30" width="1.40" height="12.40" fill="#ccd4d1"/>
<rect x="334.10" y="576.30" width="0.70" height="12.40" fill="#969e9b"/>
<rect x="334.80" y="576.30" width="1.10" height="12.40" fill="#202825"/>
<rect x="335.90" y="576.30" width="1.40" height="12.40" fill="#171f1c"/>
<rect x="337.30" y="576.30" width="0.90" height="12.40" fill="#7a827f"/>
<rect x="338.20" y="576.30" width="1.10" height="12.40" fill="#bbc3c0"/>
<rect x="339.30" y="576.30" width="0.90" height="12.40" fill="#49514e"/>
<rect x="340.20" y="576.30" width="0.70" height="12.40" fill="#131b18"/>
<rect x="340.90" y="576.30" width="1.40" height="12.40" fill="#111916"/>
<rect x="342.30" y="576.30" width="0.90" height="12.40" fill="#e3ebe8"/>
<rect x="343.20" y="576.30" width="0.70" height="12.40" fill="#535b58"/>
<rect x="343.90" y="576.30" width="1.10" height="12.40" fill="#cbd3d0"/>
<rect x="345.00" y="576.30" width="0.50" height="12.40" fill="#929a97"/>
<rect x="345.50" y="576.30" width="0.50" height="12.40" fill="#a5adaa"/>
<rect x="346.00" y="576.30" width="0.90" height="12.40" fill="#222a27"/>
<rect x="346.90" y="576.30" width="0.70" height="12.40" fill="#c4ccc9"/>
<rect x="347.60" y="576.30" width="1.40" height="12.40" fill="#434b48"/>
<rect x="349.00" y="576.30" width="0.90" height="12.40" fill="#edf5f2"/>
<rect x="349.90" y="576.30" width="0.70" height="12.40" fill="#747c79"/>
<rect x="350.60" y="576.30" width="0.50" height="12.40" fill="#e6eeeb"/>
<rect x="351.10" y="576.30" width="1.40" height="12.40" fill="#2d3532"/>
<rect x="352.50" y="576.30" width="0.70" height="12.40" fill="#e3ebe8"/>
<rect x="353.20" y="576.30" width="0.70" height="12.40" fill="#ebf3f0"/>
<rect x="353.90" y="576.30" width="1.10" height="12.40" fill="#edf5f2"/>
<rect x="355.00" y="576.30" width="0.50" height="12.40" fill="#909895"/>
<rect x="355.50" y="576.30" width="0.50" height="12.40" fill="#e1e9e6"/>
<rect x="356.00" y="576.30" width="0.70" height="12.40" fill="#d9e1de"/>
<rect x="356.70" y="576.30" width="1.10" height="12.40" fill="#404845"/>
<rect x="357.80" y="576.30" width="0.50" height="12.40" fill="#b5bdba"/>
<rect x="358.30" y="576.30" width="0.70" height="12.40" fill="#747c79"/>
<rect x="274.00" y="588.70" width="85.60" height="3.00" fill="url(#gs)"/>
<line x1="273.40" y1="556.30" x2="360.20" y2="556.30" stroke="#555" stroke-width="1.40"/>
<polyline points="274.50,556.90 274.77,555.34 275.03,553.89 275.30,552.20 275.52,551.08 275.75,549.52 275.98,548.41 276.20,547.00 277.10,544.80 278.40,546.10 278.50,544.88 278.60,543.56 278.70,542.04 278.80,540.90 279.70,538.80 280.75,539.66 281.80,540.90 282.90,542.15 284.00,543.50 285.30,544.40 286.60,543.10 287.90,544.05 289.20,544.80 290.20,545.57 291.20,546.53 292.20,547.40 293.90,547.00 295.70,547.80 297.00,547.40 298.25,548.33 299.50,549.40 300.67,549.87 301.83,550.24 303.00,550.40 304.17,550.96 305.33,551.80 306.50,552.20 307.37,553.16 308.23,554.59 309.10,555.60 309.95,556.63 310.80,557.21 311.65,558.31 312.50,559.10 314.00,560.30 314.93,561.12 315.85,562.08 316.77,562.58 317.70,563.50 318.62,564.34 319.55,565.30 320.47,566.03 321.40,566.80 322.33,567.49 323.27,568.17 324.20,569.10 326.00,568.90 327.40,570.08 328.80,570.90 330.60,569.50 331.53,570.29 332.47,571.30 333.40,571.90 334.80,572.41 336.20,573.20 337.50,571.40 338.60,570.89 339.70,570.26 340.80,569.50 342.15,569.22 343.50,568.60 344.90,568.66 346.30,569.10 347.25,567.90 348.20,566.80 348.97,565.52 349.73,564.70 350.50,563.50 351.10,564.54 351.70,565.88 352.30,566.80 353.70,565.40 354.17,564.12 354.63,563.04 355.10,561.70 355.23,560.57 355.35,559.05 355.48,557.90 355.60,556.60" fill="none" stroke="#d81c24" stroke-width="1.1" stroke-linejoin="round"/>
<rect x="274.00" y="537.20" width="85.60" height="54.50" fill="none" stroke="#111" stroke-width="1.2"/>
<text x="272.60" y="538.90" font-size="3.3" font-weight="bold" fill="#333" text-anchor="end">0.20</text>
<line x1="272.90" y1="537.80" x2="273.40" y2="537.80" stroke="#333" stroke-width="0.40"/>
<text x="272.60" y="542.60" font-size="3.3" font-weight="bold" fill="#333" text-anchor="end">0.15</text>
<line x1="272.90" y1="541.50" x2="273.40" y2="541.50" stroke="#333" stroke-width="0.40"/>
<text x="272.60" y="546.30" font-size="3.3" font-weight="bold" fill="#333" text-anchor="end">0.10</text>
<line x1="272.90" y1="545.20" x2="273.40" y2="545.20" stroke="#333" stroke-width="0.40"/>
<text x="272.60" y="550.10" font-size="3.3" font-weight="bold" fill="#333" text-anchor="end">0.05</text>
<line x1="272.90" y1="549.00" x2="273.40" y2="549.00" stroke="#333" stroke-width="0.40"/>
<text x="272.60" y="553.80" font-size="3.3" font-weight="bold" fill="#333" text-anchor="end">0.0</text>
<line x1="272.90" y1="552.70" x2="273.40" y2="552.70" stroke="#333" stroke-width="0.40"/>
<text x="272.60" y="557.50" font-size="3.3" font-weight="bold" fill="#333" text-anchor="end">0.0</text>
<line x1="272.90" y1="556.40" x2="273.40" y2="556.40" stroke="#333" stroke-width="0.40"/>
<text x="272.60" y="561.20" font-size="3.3" font-weight="bold" fill="#333" text-anchor="end">-0.05</text>
<line x1="272.90" y1="560.10" x2="273.40" y2="560.10" stroke="#333" stroke-width="0.40"/>
<text x="272.60" y="564.90" font-size="3.3" font-weight="bold" fill="#333" text-anchor="end">-0.10</text>
<line x1="272.90" y1="563.80" x2="273.40" y2="563.80" stroke="#333" stroke-width="0.40"/>
<text x="272.60" y="568.60" font-size="3.3" font-weight="bold" fill="#333" text-anchor="end">-0.15</text>
<line x1="272.90" y1="567.50" x2="273.40" y2="567.50" stroke="#333" stroke-width="0.40"/>
<text x="272.60" y="572.30" font-size="3.3" font-weight="bold" fill="#333" text-anchor="end">-0.20</text>
<line x1="272.90" y1="571.20" x2="273.40" y2="571.20" stroke="#333" stroke-width="0.40"/>
<text transform="translate(259.40,588.30) rotate(-90)" x="0" y="0" font-size="6.40" fill="#111" textLength="48.70" lengthAdjust="spacingAndGlyphs" stroke="#111" stroke-width="0.18">Enrichment score (ES)</text>
<text x="289.10" y="607.00" font-size="11.19" font-weight="normal" fill="#333" textLength="61.20" lengthAdjust="spacingAndGlyphs">FDR: 0.96 - <tspan font-style="italic">P</tspan>:  n.s.</text>
<text x="431.20" y="522.50" font-size="4.3" fill="#111" text-anchor="middle" textLength="31" lengthAdjust="spacingAndGlyphs" stroke="#111" stroke-width="0.12">Enrichment plot:</text>
<text x="431.20" y="527.40" font-size="4.3" fill="#000" text-anchor="middle" textLength="64.00" lengthAdjust="spacingAndGlyphs" stroke="#000" stroke-width="0.1">CHIARADONNA-_NEOPLASTIC_</text>
<text x="431.20" y="532.00" font-size="4.3" fill="#000" text-anchor="middle" textLength="61.50" lengthAdjust="spacingAndGlyphs" stroke="#000" stroke-width="0.1">TRANSFORMATION_KRAS_UP</text>
<rect x="389.40" y="576.30" width="0.50" height="12.40" fill="#444c49"/>
<rect x="389.90" y="576.30" width="0.70" height="12.40" fill="#b8c0bd"/>
<rect x="390.60" y="576.30" width="1.10" height="12.40" fill="#bbc3c0"/>
<rect x="391.70" y="576.30" width="0.70" height="12.40" fill="#2e3633"/>
<rect x="392.40" y="576.30" width="0.70" height="12.40" fill="#bec6c3"/>
<rect x="393.10" y="576.30" width="0.50" height="12.40" fill="#d6dedb"/>
<rect x="393.60" y="576.30" width="0.90" height="12.40" fill="#4f5754"/>
<rect x="394.50" y="576.30" width="0.70" height="12.40" fill="#212926"/>
<rect x="395.20" y="576.30" width="0.90" height="12.40" fill="#616966"/>
<rect x="396.10" y="576.30" width="1.10" height="12.40" fill="#edf5f2"/>
<rect x="397.20" y="576.30" width="0.90" height="12.40" fill="#5d6562"/>
<rect x="398.10" y="576.30" width="1.40" height="12.40" fill="#737b78"/>
<rect x="399.50" y="576.30" width="0.50" height="12.40" fill="#69716e"/>
<rect x="400.00" y="576.30" width="0.70" height="12.40" fill="#edf5f2"/>
<rect x="400.70" y="576.30" width="1.10" height="12.40" fill="#979f9c"/>
<rect x="401.80" y="576.30" width="0.90" height="12.40" fill="#303835"/>
<rect x="402.70" y="576.30" width="1.40" height="12.40" fill="#565e5b"/>
<rect x="404.10" y="576.30" width="0.70" height="12.40" fill="#a5adaa"/>
<rect x="404.80" y="576.30" width="1.40" height="12.40" fill="#edf5f2"/>
<rect x="406.20" y="576.30" width="0.70" height="12.40" fill="#dee6e3"/>
<rect x="406.90" y="576.30" width="0.90" height="12.40" fill="#535b58"/>
<rect x="407.80" y="576.30" width="1.10" height="12.40" fill="#d3dbd8"/>
<rect x="408.90" y="576.30" width="0.70" height="12.40" fill="#48504d"/>
<rect x="409.60" y="576.30" width="1.40" height="12.40" fill="#3a423f"/>
<rect x="411.00" y="576.30" width="0.70" height="12.40" fill="#545c59"/>
<rect x="411.70" y="576.30" width="0.90" height="12.40" fill="#828a87"/>
<rect x="412.60" y="576.30" width="0.50" height="12.40" fill="#e9f1ee"/>
<rect x="413.10" y="576.30" width="1.40" height="12.40" fill="#b2bab7"/>
<rect x="414.50" y="576.30" width="1.40" height="12.40" fill="#edf5f2"/>
<rect x="415.90" y="576.30" width="1.10" height="12.40" fill="#98a09d"/>
<rect x="417.00" y="576.30" width="0.70" height="12.40" fill="#909895"/>
<rect x="417.70" y="576.30" width="1.40" height="12.40" fill="#ced6d3"/>
<rect x="419.10" y="576.30" width="0.90" height="12.40" fill="#28302d"/>
<rect x="420.00" y="576.30" width="1.10" height="12.40" fill="#dbe3e0"/>
<rect x="421.10" y="576.30" width="0.70" height="12.40" fill="#c5cdca"/>
<rect x="421.80" y="576.30" width="0.50" height="12.40" fill="#858d8a"/>
<rect x="422.30" y="576.30" width="1.40" height="12.40" fill="#7e8683"/>
<rect x="423.70" y="576.30" width="1.10" height="12.40" fill="#d2dad7"/>
<rect x="424.80" y="576.30" width="0.50" height="12.40" fill="#dbe3e0"/>
<rect x="425.30" y="576.30" width="0.90" height="12.40" fill="#aeb6b3"/>
<rect x="426.20" y="576.30" width="0.90" height="12.40" fill="#bac2bf"/>
<rect x="427.10" y="576.30" width="0.50" height="12.40" fill="#4a524f"/>
<rect x="427.60" y="576.30" width="1.10" height="12.40" fill="#242c29"/>
<rect x="428.70" y="576.30" width="0.70" height="12.40" fill="#39413e"/>
<rect x="429.40" y="576.30" width="0.70" height="12.40" fill="#1c2421"/>
<rect x="430.10" y="576.30" width="1.10" height="12.40" fill="#29312e"/>
<rect x="431.20" y="576.30" width="0.50" height="12.40" fill="#454d4a"/>
<rect x="431.70" y="576.30" width="1.40" height="12.40" fill="#edf5f2"/>
<rect x="433.10" y="576.30" width="0.50" height="12.40" fill="#9ea6a3"/>
<rect x="433.60" y="576.30" width="1.10" height="12.40" fill="#d9e1de"/>
<rect x="434.70" y="576.30" width="0.90" height="12.40" fill="#6a726f"/>
<rect x="435.60" y="576.30" width="1.10" height="12.40" fill="#848c89"/>
<rect x="436.70" y="576.30" width="0.90" height="12.40" fill="#424a47"/>
<rect x="437.60" y="576.30" width="0.70" height="12.40" fill="#dee6e3"/>
<rect x="438.30" y="576.30" width="0.50" height="12.40" fill="#edf5f2"/>
<rect x="438.80" y="576.30" width="1.40" height="12.40" fill="#a8b0ad"/>
<rect x="440.20" y="576.30" width="0.90" height="12.40" fill="#434b48"/>
<rect x="441.10" y="576.30" width="1.10" height="12.40" fill="#151d1a"/>
<rect x="442.20" y="576.30" width="0.70" height="12.40" fill="#a3aba8"/>
<rect x="442.90" y="576.30" width="1.40" height="12.40" fill="#9ca4a1"/>
<rect x="444.30" y="576.30" width="0.90" height="12.40" fill="#29312e"/>
<rect x="445.20" y="576.30" width="0.90" height="12.40" fill="#8d9592"/>
<rect x="446.10" y="576.30" width="1.40" height="12.40" fill="#818986"/>
<rect x="447.50" y="576.30" width="1.10" height="12.40" fill="#edf5f2"/>
<rect x="448.60" y="576.30" width="0.90" height="12.40" fill="#212926"/>
<rect x="449.50" y="576.30" width="0.90" height="12.40" fill="#555d5a"/>
<rect x="450.40" y="576.30" width="0.70" height="12.40" fill="#89918e"/>
<rect x="451.10" y="576.30" width="0.90" height="12.40" fill="#202825"/>
<rect x="452.00" y="576.30" width="1.10" height="12.40" fill="#edf5f2"/>
<rect x="453.10" y="576.30" width="0.90" height="12.40" fill="#606865"/>
<rect x="454.00" y="576.30" width="0.90" height="12.40" fill="#343c39"/>
<rect x="454.90" y="576.30" width="0.90" height="12.40" fill="#0d1512"/>
<rect x="455.80" y="576.30" width="1.10" height="12.40" fill="#dae2df"/>
<rect x="456.90" y="576.30" width="0.50" height="12.40" fill="#878f8c"/>
<rect x="457.40" y="576.30" width="0.90" height="12.40" fill="#535b58"/>
<rect x="458.30" y="576.30" width="0.70" height="12.40" fill="#222a27"/>
<rect x="459.00" y="576.30" width="0.70" height="12.40" fill="#878f8c"/>
<rect x="459.70" y="576.30" width="0.50" height="12.40" fill="#7b8380"/>
<rect x="460.20" y="576.30" width="1.10" height="12.40" fill="#131b18"/>
<rect x="461.30" y="576.30" width="1.40" height="12.40" fill="#afb7b4"/>
<rect x="462.70" y="576.30" width="1.10" height="12.40" fill="#8b9390"/>
<rect x="463.80" y="576.30" width="1.40" height="12.40" fill="#0f1714"/>
<rect x="465.20" y="576.30" width="0.90" height="12.40" fill="#69716e"/>
<rect x="466.10" y="576.30" width="0.50" height="12.40" fill="#5b6360"/>
<rect x="466.60" y="576.30" width="1.40" height="12.40" fill="#cad2cf"/>
<rect x="468.00" y="576.30" width="1.10" height="12.40" fill="#2b3330"/>
<rect x="469.10" y="576.30" width="1.10" height="12.40" fill="#a5adaa"/>
<rect x="470.20" y="576.30" width="1.40" height="12.40" fill="#b8c0bd"/>
<rect x="471.60" y="576.30" width="0.90" height="12.40" fill="#99a19e"/>
<rect x="472.50" y="576.30" width="0.30" height="12.40" fill="#979f9c"/>
<rect x="389.00" y="588.70" width="84.40" height="3.00" fill="url(#gs)"/>
<line x1="388.40" y1="559.00" x2="474.00" y2="559.00" stroke="#6a6a6a" stroke-width="1.60"/>
<polyline points="389.20,554.80 389.30,553.25 389.40,552.01 389.50,550.46 389.60,549.10 390.25,547.93 390.90,547.00 391.20,545.83 391.50,544.66 391.80,543.50 392.20,544.79 392.60,546.10 393.50,545.23 394.40,544.40 395.45,545.36 396.50,546.50 398.70,547.40 398.97,546.00 399.23,544.88 399.50,543.50 399.93,542.13 400.37,540.97 400.80,539.60 402.60,540.50 404.10,541.46 405.60,542.20 406.90,542.50 408.20,542.50 409.50,543.10 410.80,541.40 413.00,542.20 414.20,543.10 416.00,541.60 417.05,542.53 418.10,543.10 419.90,544.40 421.60,545.20 422.47,545.96 423.33,546.83 424.20,547.80 425.07,548.93 425.93,549.90 426.80,550.90 428.10,551.83 429.40,553.00 430.50,553.67 431.60,554.35 432.70,554.80 433.57,556.27 434.43,557.35 435.30,558.80 436.18,559.82 437.05,560.80 437.93,562.29 438.80,563.20 439.70,564.09 440.60,565.29 441.50,566.22 442.40,567.20 443.27,568.10 444.13,568.94 445.00,569.80 446.35,570.63 447.70,571.20 449.05,571.89 450.40,572.50 452.60,573.40 453.90,572.22 455.20,571.20 456.50,572.10 458.30,572.90 459.20,570.70 459.85,569.00 460.50,567.60 461.20,566.04 461.90,564.50 462.55,565.77 463.20,566.70 463.63,565.26 464.07,564.17 464.50,562.80 465.80,561.40 466.70,560.10 467.60,558.85 468.50,557.50 469.40,558.80" fill="none" stroke="#d81c24" stroke-width="1.1" stroke-linejoin="round"/>
<rect x="389.00" y="537.00" width="84.40" height="54.70" fill="none" stroke="#111" stroke-width="1.2"/>
<text x="387.60" y="538.60" font-size="3.3" font-weight="bold" fill="#333" text-anchor="end">0.20</text>
<line x1="387.90" y1="537.50" x2="388.40" y2="537.50" stroke="#333" stroke-width="0.40"/>
<text x="387.60" y="542.30" font-size="3.3" font-weight="bold" fill="#333" text-anchor="end">0.15</text>
<line x1="387.90" y1="541.20" x2="388.40" y2="541.20" stroke="#333" stroke-width="0.40"/>
<text x="387.60" y="546.10" font-size="3.3" font-weight="bold" fill="#333" text-anchor="end">0.10</text>
<line x1="387.90" y1="545.00" x2="388.40" y2="545.00" stroke="#333" stroke-width="0.40"/>
<text x="387.60" y="549.90" font-size="3.3" font-weight="bold" fill="#333" text-anchor="end">0.05</text>
<line x1="387.90" y1="548.80" x2="388.40" y2="548.80" stroke="#333" stroke-width="0.40"/>
<text x="387.60" y="553.60" font-size="3.3" font-weight="bold" fill="#333" text-anchor="end">0.0</text>
<line x1="387.90" y1="552.50" x2="388.40" y2="552.50" stroke="#333" stroke-width="0.40"/>
<text x="387.60" y="560.20" font-size="3.3" font-weight="bold" fill="#333" text-anchor="end">0.0</text>
<line x1="387.90" y1="559.10" x2="388.40" y2="559.10" stroke="#333" stroke-width="0.40"/>
<text x="387.60" y="563.90" font-size="3.3" font-weight="bold" fill="#333" text-anchor="end">-0.05</text>
<line x1="387.90" y1="562.80" x2="388.40" y2="562.80" stroke="#333" stroke-width="0.40"/>
<text x="387.60" y="567.60" font-size="3.3" font-weight="bold" fill="#333" text-anchor="end">-0.10</text>
<line x1="387.90" y1="566.50" x2="388.40" y2="566.50" stroke="#333" stroke-width="0.40"/>
<text x="387.60" y="571.30" font-size="3.3" font-weight="bold" fill="#333" text-anchor="end">-0.15</text>
<line x1="387.90" y1="570.20" x2="388.40" y2="570.20" stroke="#333" stroke-width="0.40"/>
<text x="409.60" y="607.00" font-size="11.19" font-weight="normal" fill="#333" textLength="48.60" lengthAdjust="spacingAndGlyphs">FDR: 1 - <tspan font-style="italic">P</tspan>: n.s.</text>
<text transform="translate(374.40,480.60) rotate(-90)" x="0" y="0" font-size="6.40" fill="#111" textLength="48.90" lengthAdjust="spacingAndGlyphs" stroke="#111" stroke-width="0.18">Enrichment score (ES)</text>
<text transform="translate(376.00,589.00) rotate(-90)" x="0" y="0" font-size="6.40" fill="#111" textLength="49.00" lengthAdjust="spacingAndGlyphs" stroke="#111" stroke-width="0.18">Enrichment score (ES)</text>
</svg></body></html>
